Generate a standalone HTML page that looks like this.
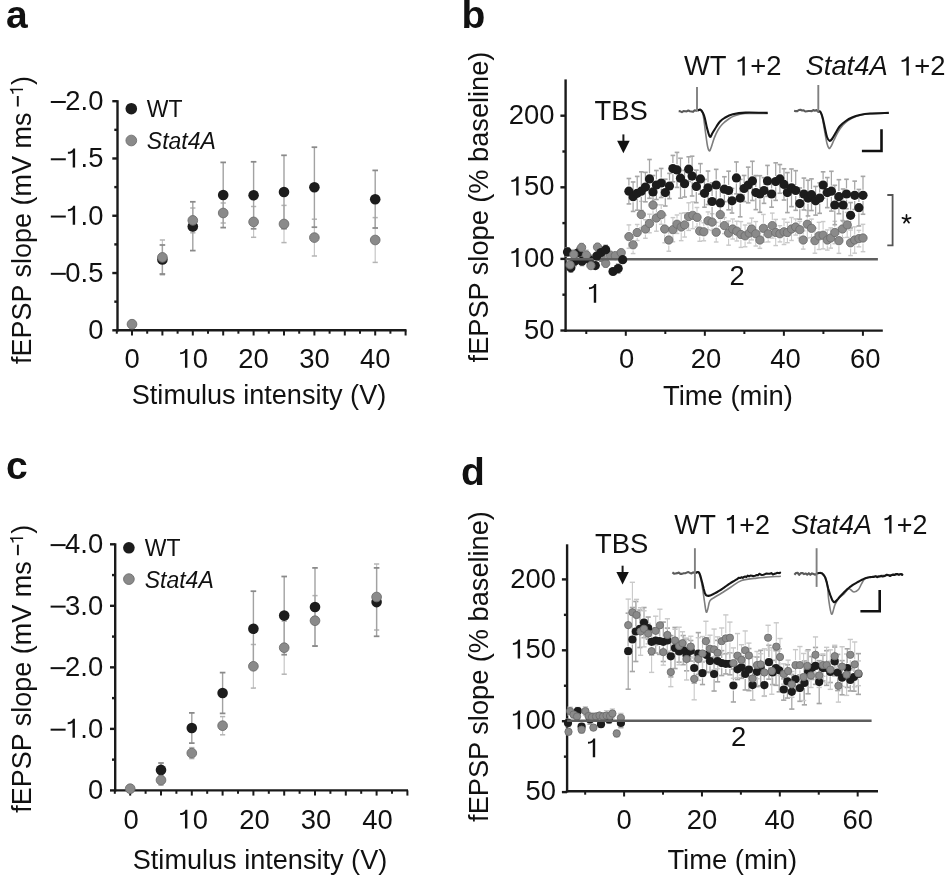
<!DOCTYPE html><html><head><meta charset="utf-8"><style>html,body{margin:0;padding:0;background:#fff;}svg{display:block;will-change:transform;}</style></head><body>
<svg width="946" height="875" viewBox="0 0 946 875" font-family='"Liberation Sans", sans-serif'>
<rect width="946" height="875" fill="#fff"/>
<text x="6.00" y="27.60" font-size="39" text-anchor="start" font-weight="bold" fill="#111">a</text>
<text x="461.40" y="27.60" font-size="39" text-anchor="start" font-weight="bold" fill="#111">b</text>
<text x="6.00" y="478.90" font-size="39" text-anchor="start" font-weight="bold" fill="#111">c</text>
<text x="461.00" y="485.40" font-size="39" text-anchor="start" font-weight="bold" fill="#111">d</text>
<line x1="117.50" y1="100.20" x2="117.50" y2="331.50" stroke="#1a1a1a" stroke-width="2.4" stroke-linecap="butt"/>
<line x1="112.30" y1="101.20" x2="117.50" y2="101.20" stroke="#1a1a1a" stroke-width="2.4" stroke-linecap="butt"/>
<line x1="114.30" y1="129.84" x2="117.50" y2="129.84" stroke="#1a1a1a" stroke-width="2.4" stroke-linecap="butt"/>
<text x="103.40" y="110.10" font-size="27.4" text-anchor="end" fill="#111">2.0</text>
<line x1="50.80" y1="102.00" x2="65.80" y2="102.00" stroke="#111" stroke-width="2.0" stroke-linecap="butt"/>
<line x1="112.30" y1="158.48" x2="117.50" y2="158.48" stroke="#1a1a1a" stroke-width="2.4" stroke-linecap="butt"/>
<line x1="114.30" y1="187.11" x2="117.50" y2="187.11" stroke="#1a1a1a" stroke-width="2.4" stroke-linecap="butt"/>
<path d="M0.358,0 L0.358,-0.69 L0.29,-0.69 C0.265,-0.615 0.19,-0.568 0.095,-0.566 L0.095,-0.493 C0.17,-0.495 0.235,-0.51 0.27,-0.545 L0.27,0 Z" fill="#111" transform="translate(65.31,167.38) scale(27.4)"/>
<text x="80.55" y="167.38" font-size="27.4" text-anchor="start" fill="#111">.5</text>
<line x1="50.80" y1="159.28" x2="65.80" y2="159.28" stroke="#111" stroke-width="2.0" stroke-linecap="butt"/>
<line x1="112.30" y1="215.75" x2="117.50" y2="215.75" stroke="#1a1a1a" stroke-width="2.4" stroke-linecap="butt"/>
<line x1="114.30" y1="244.39" x2="117.50" y2="244.39" stroke="#1a1a1a" stroke-width="2.4" stroke-linecap="butt"/>
<path d="M0.358,0 L0.358,-0.69 L0.29,-0.69 C0.265,-0.615 0.19,-0.568 0.095,-0.566 L0.095,-0.493 C0.17,-0.495 0.235,-0.51 0.27,-0.545 L0.27,0 Z" fill="#111" transform="translate(65.31,224.65) scale(27.4)"/>
<text x="80.55" y="224.65" font-size="27.4" text-anchor="start" fill="#111">.0</text>
<line x1="50.80" y1="216.55" x2="65.80" y2="216.55" stroke="#111" stroke-width="2.0" stroke-linecap="butt"/>
<line x1="112.30" y1="273.03" x2="117.50" y2="273.03" stroke="#1a1a1a" stroke-width="2.4" stroke-linecap="butt"/>
<line x1="114.30" y1="301.66" x2="117.50" y2="301.66" stroke="#1a1a1a" stroke-width="2.4" stroke-linecap="butt"/>
<text x="103.40" y="281.93" font-size="27.4" text-anchor="end" fill="#111">0.5</text>
<line x1="50.80" y1="273.83" x2="65.80" y2="273.83" stroke="#111" stroke-width="2.0" stroke-linecap="butt"/>
<line x1="112.30" y1="330.30" x2="117.50" y2="330.30" stroke="#1a1a1a" stroke-width="2.4" stroke-linecap="butt"/>
<text x="103.40" y="339.20" font-size="27.4" text-anchor="end" fill="#111">0</text>
<line x1="116.30" y1="330.30" x2="406.50" y2="330.30" stroke="#1a1a1a" stroke-width="2.4" stroke-linecap="butt"/>
<line x1="116.80" y1="330.30" x2="116.80" y2="333.70" stroke="#1a1a1a" stroke-width="2.0" stroke-linecap="butt"/>
<line x1="132.00" y1="330.30" x2="132.00" y2="335.50" stroke="#1a1a1a" stroke-width="2.0" stroke-linecap="butt"/>
<line x1="147.20" y1="330.30" x2="147.20" y2="333.70" stroke="#1a1a1a" stroke-width="2.0" stroke-linecap="butt"/>
<line x1="162.40" y1="330.30" x2="162.40" y2="335.50" stroke="#1a1a1a" stroke-width="2.0" stroke-linecap="butt"/>
<line x1="177.60" y1="330.30" x2="177.60" y2="333.70" stroke="#1a1a1a" stroke-width="2.0" stroke-linecap="butt"/>
<line x1="192.80" y1="330.30" x2="192.80" y2="335.50" stroke="#1a1a1a" stroke-width="2.0" stroke-linecap="butt"/>
<line x1="208.00" y1="330.30" x2="208.00" y2="333.70" stroke="#1a1a1a" stroke-width="2.0" stroke-linecap="butt"/>
<line x1="223.20" y1="330.30" x2="223.20" y2="335.50" stroke="#1a1a1a" stroke-width="2.0" stroke-linecap="butt"/>
<line x1="238.40" y1="330.30" x2="238.40" y2="333.70" stroke="#1a1a1a" stroke-width="2.0" stroke-linecap="butt"/>
<line x1="253.60" y1="330.30" x2="253.60" y2="335.50" stroke="#1a1a1a" stroke-width="2.0" stroke-linecap="butt"/>
<line x1="268.80" y1="330.30" x2="268.80" y2="333.70" stroke="#1a1a1a" stroke-width="2.0" stroke-linecap="butt"/>
<line x1="284.00" y1="330.30" x2="284.00" y2="335.50" stroke="#1a1a1a" stroke-width="2.0" stroke-linecap="butt"/>
<line x1="299.20" y1="330.30" x2="299.20" y2="333.70" stroke="#1a1a1a" stroke-width="2.0" stroke-linecap="butt"/>
<line x1="314.40" y1="330.30" x2="314.40" y2="335.50" stroke="#1a1a1a" stroke-width="2.0" stroke-linecap="butt"/>
<line x1="329.60" y1="330.30" x2="329.60" y2="333.70" stroke="#1a1a1a" stroke-width="2.0" stroke-linecap="butt"/>
<line x1="344.80" y1="330.30" x2="344.80" y2="335.50" stroke="#1a1a1a" stroke-width="2.0" stroke-linecap="butt"/>
<line x1="360.00" y1="330.30" x2="360.00" y2="333.70" stroke="#1a1a1a" stroke-width="2.0" stroke-linecap="butt"/>
<line x1="375.20" y1="330.30" x2="375.20" y2="335.50" stroke="#1a1a1a" stroke-width="2.0" stroke-linecap="butt"/>
<line x1="390.40" y1="330.30" x2="390.40" y2="333.70" stroke="#1a1a1a" stroke-width="2.0" stroke-linecap="butt"/>
<line x1="405.60" y1="330.30" x2="405.60" y2="335.50" stroke="#1a1a1a" stroke-width="2.0" stroke-linecap="butt"/>
<text x="132.00" y="367.80" font-size="27.4" text-anchor="middle" fill="#111">0</text>
<path d="M0.358,0 L0.358,-0.69 L0.29,-0.69 C0.265,-0.615 0.19,-0.568 0.095,-0.566 L0.095,-0.493 C0.17,-0.495 0.235,-0.51 0.27,-0.545 L0.27,0 Z" fill="#111" transform="translate(177.56,367.80) scale(27.4)"/>
<text x="192.80" y="367.80" font-size="27.4" text-anchor="start" fill="#111">0</text>
<text x="253.60" y="367.80" font-size="27.4" text-anchor="middle" fill="#111">20</text>
<text x="314.40" y="367.80" font-size="27.4" text-anchor="middle" fill="#111">30</text>
<text x="375.20" y="367.80" font-size="27.4" text-anchor="middle" fill="#111">40</text>
<text x="259.00" y="404.40" font-size="27.1" text-anchor="middle" fill="#111">Stimulus intensity (V)</text>
<g transform="translate(30.7,363.7) rotate(-90)">
<text x="-0.4" y="0" font-size="27" fill="#111">fEPSP slope (mV ms</text>
<line x1="257.2" y1="-12.9" x2="267.7" y2="-12.9" stroke="#111" stroke-width="1.9"/>
<path d="M0.358,0 L0.358,-0.69 L0.29,-0.69 C0.265,-0.615 0.19,-0.568 0.095,-0.566 L0.095,-0.493 C0.17,-0.495 0.235,-0.51 0.27,-0.545 L0.27,0 Z" fill="#111" transform="translate(268.2,-7.7) scale(19)"/>
<text x="278.6" y="0" font-size="27" fill="#111">)</text>
</g>
<circle cx="131.30" cy="108.70" r="5.8" fill="#1c1c1c"/>
<circle cx="131.30" cy="140.50" r="5.35" fill="#8a8a8a" stroke="#6e6e6e" stroke-width="0.9"/>
<text x="146.80" y="117.10" font-size="23.0" text-anchor="start" fill="#111">WT</text>
<text x="146.80" y="148.90" font-size="23.0" text-anchor="start" font-style="italic" fill="#111">Stat4A</text>
<line x1="132.00" y1="321.50" x2="132.00" y2="327.00" stroke="#c6c6c6" stroke-width="1.2" stroke-linecap="butt"/>
<line x1="129.40" y1="321.50" x2="134.60" y2="321.50" stroke="#b4b4b4" stroke-width="1.5" stroke-linecap="butt"/>
<line x1="129.40" y1="327.00" x2="134.60" y2="327.00" stroke="#b4b4b4" stroke-width="1.5" stroke-linecap="butt"/>
<line x1="162.40" y1="240.00" x2="162.40" y2="274.80" stroke="#c6c6c6" stroke-width="1.2" stroke-linecap="butt"/>
<line x1="159.80" y1="240.00" x2="165.00" y2="240.00" stroke="#b4b4b4" stroke-width="1.5" stroke-linecap="butt"/>
<line x1="159.80" y1="274.80" x2="165.00" y2="274.80" stroke="#b4b4b4" stroke-width="1.5" stroke-linecap="butt"/>
<line x1="162.40" y1="245.00" x2="162.40" y2="274.00" stroke="#a2a2a2" stroke-width="1.4" stroke-linecap="butt"/>
<line x1="159.60" y1="245.00" x2="165.20" y2="245.00" stroke="#8a8a8a" stroke-width="1.75" stroke-linecap="butt"/>
<line x1="159.60" y1="274.00" x2="165.20" y2="274.00" stroke="#8a8a8a" stroke-width="1.75" stroke-linecap="butt"/>
<line x1="192.80" y1="208.00" x2="192.80" y2="232.80" stroke="#c6c6c6" stroke-width="1.2" stroke-linecap="butt"/>
<line x1="190.20" y1="208.00" x2="195.40" y2="208.00" stroke="#b4b4b4" stroke-width="1.5" stroke-linecap="butt"/>
<line x1="190.20" y1="232.80" x2="195.40" y2="232.80" stroke="#b4b4b4" stroke-width="1.5" stroke-linecap="butt"/>
<line x1="192.80" y1="201.80" x2="192.80" y2="250.60" stroke="#a2a2a2" stroke-width="1.4" stroke-linecap="butt"/>
<line x1="190.00" y1="201.80" x2="195.60" y2="201.80" stroke="#8a8a8a" stroke-width="1.75" stroke-linecap="butt"/>
<line x1="190.00" y1="250.60" x2="195.60" y2="250.60" stroke="#8a8a8a" stroke-width="1.75" stroke-linecap="butt"/>
<line x1="223.20" y1="203.00" x2="223.20" y2="223.00" stroke="#c6c6c6" stroke-width="1.2" stroke-linecap="butt"/>
<line x1="220.60" y1="203.00" x2="225.80" y2="203.00" stroke="#b4b4b4" stroke-width="1.5" stroke-linecap="butt"/>
<line x1="220.60" y1="223.00" x2="225.80" y2="223.00" stroke="#b4b4b4" stroke-width="1.5" stroke-linecap="butt"/>
<line x1="223.20" y1="162.40" x2="223.20" y2="227.60" stroke="#a2a2a2" stroke-width="1.4" stroke-linecap="butt"/>
<line x1="220.40" y1="162.40" x2="226.00" y2="162.40" stroke="#8a8a8a" stroke-width="1.75" stroke-linecap="butt"/>
<line x1="220.40" y1="227.60" x2="226.00" y2="227.60" stroke="#8a8a8a" stroke-width="1.75" stroke-linecap="butt"/>
<line x1="253.60" y1="206.50" x2="253.60" y2="237.30" stroke="#c6c6c6" stroke-width="1.2" stroke-linecap="butt"/>
<line x1="251.00" y1="206.50" x2="256.20" y2="206.50" stroke="#b4b4b4" stroke-width="1.5" stroke-linecap="butt"/>
<line x1="251.00" y1="237.30" x2="256.20" y2="237.30" stroke="#b4b4b4" stroke-width="1.5" stroke-linecap="butt"/>
<line x1="253.60" y1="161.80" x2="253.60" y2="228.80" stroke="#a2a2a2" stroke-width="1.4" stroke-linecap="butt"/>
<line x1="250.80" y1="161.80" x2="256.40" y2="161.80" stroke="#8a8a8a" stroke-width="1.75" stroke-linecap="butt"/>
<line x1="250.80" y1="228.80" x2="256.40" y2="228.80" stroke="#8a8a8a" stroke-width="1.75" stroke-linecap="butt"/>
<line x1="284.00" y1="205.40" x2="284.00" y2="242.60" stroke="#c6c6c6" stroke-width="1.2" stroke-linecap="butt"/>
<line x1="281.40" y1="205.40" x2="286.60" y2="205.40" stroke="#b4b4b4" stroke-width="1.5" stroke-linecap="butt"/>
<line x1="281.40" y1="242.60" x2="286.60" y2="242.60" stroke="#b4b4b4" stroke-width="1.5" stroke-linecap="butt"/>
<line x1="284.00" y1="155.30" x2="284.00" y2="228.70" stroke="#a2a2a2" stroke-width="1.4" stroke-linecap="butt"/>
<line x1="281.20" y1="155.30" x2="286.80" y2="155.30" stroke="#8a8a8a" stroke-width="1.75" stroke-linecap="butt"/>
<line x1="281.20" y1="228.70" x2="286.80" y2="228.70" stroke="#8a8a8a" stroke-width="1.75" stroke-linecap="butt"/>
<line x1="314.40" y1="219.20" x2="314.40" y2="256.00" stroke="#c6c6c6" stroke-width="1.2" stroke-linecap="butt"/>
<line x1="311.80" y1="219.20" x2="317.00" y2="219.20" stroke="#b4b4b4" stroke-width="1.5" stroke-linecap="butt"/>
<line x1="311.80" y1="256.00" x2="317.00" y2="256.00" stroke="#b4b4b4" stroke-width="1.5" stroke-linecap="butt"/>
<line x1="314.40" y1="147.20" x2="314.40" y2="227.20" stroke="#a2a2a2" stroke-width="1.4" stroke-linecap="butt"/>
<line x1="311.60" y1="147.20" x2="317.20" y2="147.20" stroke="#8a8a8a" stroke-width="1.75" stroke-linecap="butt"/>
<line x1="311.60" y1="227.20" x2="317.20" y2="227.20" stroke="#8a8a8a" stroke-width="1.75" stroke-linecap="butt"/>
<line x1="375.20" y1="217.60" x2="375.20" y2="262.40" stroke="#c6c6c6" stroke-width="1.2" stroke-linecap="butt"/>
<line x1="372.60" y1="217.60" x2="377.80" y2="217.60" stroke="#b4b4b4" stroke-width="1.5" stroke-linecap="butt"/>
<line x1="372.60" y1="262.40" x2="377.80" y2="262.40" stroke="#b4b4b4" stroke-width="1.5" stroke-linecap="butt"/>
<line x1="375.20" y1="170.40" x2="375.20" y2="228.00" stroke="#a2a2a2" stroke-width="1.4" stroke-linecap="butt"/>
<line x1="372.40" y1="170.40" x2="378.00" y2="170.40" stroke="#8a8a8a" stroke-width="1.75" stroke-linecap="butt"/>
<line x1="372.40" y1="228.00" x2="378.00" y2="228.00" stroke="#8a8a8a" stroke-width="1.75" stroke-linecap="butt"/>
<circle cx="162.40" cy="259.50" r="5.3" fill="#1c1c1c"/>
<circle cx="192.80" cy="226.40" r="5.3" fill="#1c1c1c"/>
<circle cx="223.20" cy="195.00" r="5.3" fill="#1c1c1c"/>
<circle cx="253.60" cy="195.30" r="5.3" fill="#1c1c1c"/>
<circle cx="284.00" cy="192.00" r="5.3" fill="#1c1c1c"/>
<circle cx="314.40" cy="187.20" r="5.3" fill="#1c1c1c"/>
<circle cx="375.20" cy="199.20" r="5.3" fill="#1c1c1c"/>
<circle cx="132.00" cy="324.20" r="4.85" fill="#8a8a8a" stroke="#6e6e6e" stroke-width="0.9"/>
<circle cx="162.40" cy="257.40" r="4.85" fill="#8a8a8a" stroke="#6e6e6e" stroke-width="0.9"/>
<circle cx="192.80" cy="220.40" r="4.85" fill="#8a8a8a" stroke="#6e6e6e" stroke-width="0.9"/>
<circle cx="223.20" cy="213.00" r="4.85" fill="#8a8a8a" stroke="#6e6e6e" stroke-width="0.9"/>
<circle cx="253.60" cy="221.90" r="4.85" fill="#8a8a8a" stroke="#6e6e6e" stroke-width="0.9"/>
<circle cx="284.00" cy="224.00" r="4.85" fill="#8a8a8a" stroke="#6e6e6e" stroke-width="0.9"/>
<circle cx="314.40" cy="237.60" r="4.85" fill="#8a8a8a" stroke="#6e6e6e" stroke-width="0.9"/>
<circle cx="375.20" cy="240.00" r="4.85" fill="#8a8a8a" stroke="#6e6e6e" stroke-width="0.9"/>
<line x1="115.20" y1="543.30" x2="115.20" y2="791.60" stroke="#1a1a1a" stroke-width="2.4" stroke-linecap="butt"/>
<line x1="110.00" y1="544.30" x2="115.20" y2="544.30" stroke="#1a1a1a" stroke-width="2.4" stroke-linecap="butt"/>
<line x1="112.00" y1="575.06" x2="115.20" y2="575.06" stroke="#1a1a1a" stroke-width="2.4" stroke-linecap="butt"/>
<text x="103.20" y="553.20" font-size="27.4" text-anchor="end" fill="#111">4.0</text>
<line x1="50.60" y1="545.10" x2="65.60" y2="545.10" stroke="#111" stroke-width="2.0" stroke-linecap="butt"/>
<line x1="110.00" y1="605.82" x2="115.20" y2="605.82" stroke="#1a1a1a" stroke-width="2.4" stroke-linecap="butt"/>
<line x1="112.00" y1="636.59" x2="115.20" y2="636.59" stroke="#1a1a1a" stroke-width="2.4" stroke-linecap="butt"/>
<text x="103.20" y="614.72" font-size="27.4" text-anchor="end" fill="#111">3.0</text>
<line x1="50.60" y1="606.62" x2="65.60" y2="606.62" stroke="#111" stroke-width="2.0" stroke-linecap="butt"/>
<line x1="110.00" y1="667.35" x2="115.20" y2="667.35" stroke="#1a1a1a" stroke-width="2.4" stroke-linecap="butt"/>
<line x1="112.00" y1="698.11" x2="115.20" y2="698.11" stroke="#1a1a1a" stroke-width="2.4" stroke-linecap="butt"/>
<text x="103.20" y="676.25" font-size="27.4" text-anchor="end" fill="#111">2.0</text>
<line x1="50.60" y1="668.15" x2="65.60" y2="668.15" stroke="#111" stroke-width="2.0" stroke-linecap="butt"/>
<line x1="110.00" y1="728.88" x2="115.20" y2="728.88" stroke="#1a1a1a" stroke-width="2.4" stroke-linecap="butt"/>
<line x1="112.00" y1="759.64" x2="115.20" y2="759.64" stroke="#1a1a1a" stroke-width="2.4" stroke-linecap="butt"/>
<path d="M0.358,0 L0.358,-0.69 L0.29,-0.69 C0.265,-0.615 0.19,-0.568 0.095,-0.566 L0.095,-0.493 C0.17,-0.495 0.235,-0.51 0.27,-0.545 L0.27,0 Z" fill="#111" transform="translate(65.11,737.77) scale(27.4)"/>
<text x="80.35" y="737.77" font-size="27.4" text-anchor="start" fill="#111">.0</text>
<line x1="50.60" y1="729.67" x2="65.60" y2="729.67" stroke="#111" stroke-width="2.0" stroke-linecap="butt"/>
<line x1="110.00" y1="790.40" x2="115.20" y2="790.40" stroke="#1a1a1a" stroke-width="2.4" stroke-linecap="butt"/>
<text x="103.20" y="799.30" font-size="27.4" text-anchor="end" fill="#111">0</text>
<line x1="114.00" y1="790.40" x2="408.00" y2="790.40" stroke="#1a1a1a" stroke-width="2.4" stroke-linecap="butt"/>
<line x1="114.80" y1="790.40" x2="114.80" y2="793.80" stroke="#1a1a1a" stroke-width="2.0" stroke-linecap="butt"/>
<line x1="130.20" y1="790.40" x2="130.20" y2="795.60" stroke="#1a1a1a" stroke-width="2.0" stroke-linecap="butt"/>
<line x1="145.60" y1="790.40" x2="145.60" y2="793.80" stroke="#1a1a1a" stroke-width="2.0" stroke-linecap="butt"/>
<line x1="161.00" y1="790.40" x2="161.00" y2="795.60" stroke="#1a1a1a" stroke-width="2.0" stroke-linecap="butt"/>
<line x1="176.40" y1="790.40" x2="176.40" y2="793.80" stroke="#1a1a1a" stroke-width="2.0" stroke-linecap="butt"/>
<line x1="191.80" y1="790.40" x2="191.80" y2="795.60" stroke="#1a1a1a" stroke-width="2.0" stroke-linecap="butt"/>
<line x1="207.20" y1="790.40" x2="207.20" y2="793.80" stroke="#1a1a1a" stroke-width="2.0" stroke-linecap="butt"/>
<line x1="222.60" y1="790.40" x2="222.60" y2="795.60" stroke="#1a1a1a" stroke-width="2.0" stroke-linecap="butt"/>
<line x1="238.00" y1="790.40" x2="238.00" y2="793.80" stroke="#1a1a1a" stroke-width="2.0" stroke-linecap="butt"/>
<line x1="253.40" y1="790.40" x2="253.40" y2="795.60" stroke="#1a1a1a" stroke-width="2.0" stroke-linecap="butt"/>
<line x1="268.80" y1="790.40" x2="268.80" y2="793.80" stroke="#1a1a1a" stroke-width="2.0" stroke-linecap="butt"/>
<line x1="284.20" y1="790.40" x2="284.20" y2="795.60" stroke="#1a1a1a" stroke-width="2.0" stroke-linecap="butt"/>
<line x1="299.60" y1="790.40" x2="299.60" y2="793.80" stroke="#1a1a1a" stroke-width="2.0" stroke-linecap="butt"/>
<line x1="315.00" y1="790.40" x2="315.00" y2="795.60" stroke="#1a1a1a" stroke-width="2.0" stroke-linecap="butt"/>
<line x1="330.40" y1="790.40" x2="330.40" y2="793.80" stroke="#1a1a1a" stroke-width="2.0" stroke-linecap="butt"/>
<line x1="345.80" y1="790.40" x2="345.80" y2="795.60" stroke="#1a1a1a" stroke-width="2.0" stroke-linecap="butt"/>
<line x1="361.20" y1="790.40" x2="361.20" y2="793.80" stroke="#1a1a1a" stroke-width="2.0" stroke-linecap="butt"/>
<line x1="376.60" y1="790.40" x2="376.60" y2="795.60" stroke="#1a1a1a" stroke-width="2.0" stroke-linecap="butt"/>
<line x1="392.00" y1="790.40" x2="392.00" y2="793.80" stroke="#1a1a1a" stroke-width="2.0" stroke-linecap="butt"/>
<line x1="407.40" y1="790.40" x2="407.40" y2="795.60" stroke="#1a1a1a" stroke-width="2.0" stroke-linecap="butt"/>
<text x="131.20" y="828.60" font-size="27.4" text-anchor="middle" fill="#111">0</text>
<path d="M0.358,0 L0.358,-0.69 L0.29,-0.69 C0.265,-0.615 0.19,-0.568 0.095,-0.566 L0.095,-0.493 C0.17,-0.495 0.235,-0.51 0.27,-0.545 L0.27,0 Z" fill="#111" transform="translate(177.56,828.60) scale(27.4)"/>
<text x="192.80" y="828.60" font-size="27.4" text-anchor="start" fill="#111">0</text>
<text x="254.40" y="828.60" font-size="27.4" text-anchor="middle" fill="#111">20</text>
<text x="316.00" y="828.60" font-size="27.4" text-anchor="middle" fill="#111">30</text>
<text x="377.60" y="828.60" font-size="27.4" text-anchor="middle" fill="#111">40</text>
<text x="260.00" y="868.60" font-size="27.1" text-anchor="middle" fill="#111">Stimulus intensity (V)</text>
<g transform="translate(30.8,812.4) rotate(-90)">
<text x="-0.4" y="0" font-size="27" fill="#111">fEPSP slope (mV ms</text>
<line x1="257.2" y1="-12.9" x2="267.7" y2="-12.9" stroke="#111" stroke-width="1.9"/>
<path d="M0.358,0 L0.358,-0.69 L0.29,-0.69 C0.265,-0.615 0.19,-0.568 0.095,-0.566 L0.095,-0.493 C0.17,-0.495 0.235,-0.51 0.27,-0.545 L0.27,0 Z" fill="#111" transform="translate(268.2,-7.7) scale(19)"/>
<text x="278.6" y="0" font-size="27" fill="#111">)</text>
</g>
<circle cx="128.90" cy="547.80" r="5.8" fill="#1c1c1c"/>
<circle cx="128.90" cy="579.10" r="5.35" fill="#8a8a8a" stroke="#6e6e6e" stroke-width="0.9"/>
<text x="144.70" y="556.20" font-size="23.0" text-anchor="start" fill="#111">WT</text>
<text x="144.70" y="587.50" font-size="23.0" text-anchor="start" font-style="italic" fill="#111">Stat4A</text>
<line x1="161.00" y1="775.00" x2="161.00" y2="785.20" stroke="#c6c6c6" stroke-width="1.2" stroke-linecap="butt"/>
<line x1="158.40" y1="775.00" x2="163.60" y2="775.00" stroke="#b4b4b4" stroke-width="1.5" stroke-linecap="butt"/>
<line x1="158.40" y1="785.20" x2="163.60" y2="785.20" stroke="#b4b4b4" stroke-width="1.5" stroke-linecap="butt"/>
<line x1="161.00" y1="763.00" x2="161.00" y2="776.80" stroke="#a2a2a2" stroke-width="1.4" stroke-linecap="butt"/>
<line x1="158.20" y1="763.00" x2="163.80" y2="763.00" stroke="#8a8a8a" stroke-width="1.75" stroke-linecap="butt"/>
<line x1="158.20" y1="776.80" x2="163.80" y2="776.80" stroke="#8a8a8a" stroke-width="1.75" stroke-linecap="butt"/>
<line x1="191.80" y1="747.60" x2="191.80" y2="758.60" stroke="#c6c6c6" stroke-width="1.2" stroke-linecap="butt"/>
<line x1="189.20" y1="747.60" x2="194.40" y2="747.60" stroke="#b4b4b4" stroke-width="1.5" stroke-linecap="butt"/>
<line x1="189.20" y1="758.60" x2="194.40" y2="758.60" stroke="#b4b4b4" stroke-width="1.5" stroke-linecap="butt"/>
<line x1="191.80" y1="712.90" x2="191.80" y2="743.10" stroke="#a2a2a2" stroke-width="1.4" stroke-linecap="butt"/>
<line x1="189.00" y1="712.90" x2="194.60" y2="712.90" stroke="#8a8a8a" stroke-width="1.75" stroke-linecap="butt"/>
<line x1="189.00" y1="743.10" x2="194.60" y2="743.10" stroke="#8a8a8a" stroke-width="1.75" stroke-linecap="butt"/>
<line x1="222.60" y1="716.60" x2="222.60" y2="734.80" stroke="#c6c6c6" stroke-width="1.2" stroke-linecap="butt"/>
<line x1="220.00" y1="716.60" x2="225.20" y2="716.60" stroke="#b4b4b4" stroke-width="1.5" stroke-linecap="butt"/>
<line x1="220.00" y1="734.80" x2="225.20" y2="734.80" stroke="#b4b4b4" stroke-width="1.5" stroke-linecap="butt"/>
<line x1="222.60" y1="672.60" x2="222.60" y2="713.40" stroke="#a2a2a2" stroke-width="1.4" stroke-linecap="butt"/>
<line x1="219.80" y1="672.60" x2="225.40" y2="672.60" stroke="#8a8a8a" stroke-width="1.75" stroke-linecap="butt"/>
<line x1="219.80" y1="713.40" x2="225.40" y2="713.40" stroke="#8a8a8a" stroke-width="1.75" stroke-linecap="butt"/>
<line x1="253.40" y1="644.50" x2="253.40" y2="688.10" stroke="#c6c6c6" stroke-width="1.2" stroke-linecap="butt"/>
<line x1="250.80" y1="644.50" x2="256.00" y2="644.50" stroke="#b4b4b4" stroke-width="1.5" stroke-linecap="butt"/>
<line x1="250.80" y1="688.10" x2="256.00" y2="688.10" stroke="#b4b4b4" stroke-width="1.5" stroke-linecap="butt"/>
<line x1="253.40" y1="591.20" x2="253.40" y2="666.40" stroke="#a2a2a2" stroke-width="1.4" stroke-linecap="butt"/>
<line x1="250.60" y1="591.20" x2="256.20" y2="591.20" stroke="#8a8a8a" stroke-width="1.75" stroke-linecap="butt"/>
<line x1="250.60" y1="666.40" x2="256.20" y2="666.40" stroke="#8a8a8a" stroke-width="1.75" stroke-linecap="butt"/>
<line x1="284.20" y1="621.20" x2="284.20" y2="674.20" stroke="#c6c6c6" stroke-width="1.2" stroke-linecap="butt"/>
<line x1="281.60" y1="621.20" x2="286.80" y2="621.20" stroke="#b4b4b4" stroke-width="1.5" stroke-linecap="butt"/>
<line x1="281.60" y1="674.20" x2="286.80" y2="674.20" stroke="#b4b4b4" stroke-width="1.5" stroke-linecap="butt"/>
<line x1="284.20" y1="576.50" x2="284.20" y2="654.70" stroke="#a2a2a2" stroke-width="1.4" stroke-linecap="butt"/>
<line x1="281.40" y1="576.50" x2="287.00" y2="576.50" stroke="#8a8a8a" stroke-width="1.75" stroke-linecap="butt"/>
<line x1="281.40" y1="654.70" x2="287.00" y2="654.70" stroke="#8a8a8a" stroke-width="1.75" stroke-linecap="butt"/>
<line x1="315.00" y1="595.60" x2="315.00" y2="645.80" stroke="#c6c6c6" stroke-width="1.2" stroke-linecap="butt"/>
<line x1="312.40" y1="595.60" x2="317.60" y2="595.60" stroke="#b4b4b4" stroke-width="1.5" stroke-linecap="butt"/>
<line x1="312.40" y1="645.80" x2="317.60" y2="645.80" stroke="#b4b4b4" stroke-width="1.5" stroke-linecap="butt"/>
<line x1="315.00" y1="567.90" x2="315.00" y2="646.10" stroke="#a2a2a2" stroke-width="1.4" stroke-linecap="butt"/>
<line x1="312.20" y1="567.90" x2="317.80" y2="567.90" stroke="#8a8a8a" stroke-width="1.75" stroke-linecap="butt"/>
<line x1="312.20" y1="646.10" x2="317.80" y2="646.10" stroke="#8a8a8a" stroke-width="1.75" stroke-linecap="butt"/>
<line x1="376.60" y1="564.00" x2="376.60" y2="630.00" stroke="#c6c6c6" stroke-width="1.2" stroke-linecap="butt"/>
<line x1="374.00" y1="564.00" x2="379.20" y2="564.00" stroke="#b4b4b4" stroke-width="1.5" stroke-linecap="butt"/>
<line x1="374.00" y1="630.00" x2="379.20" y2="630.00" stroke="#b4b4b4" stroke-width="1.5" stroke-linecap="butt"/>
<line x1="376.60" y1="567.90" x2="376.60" y2="636.30" stroke="#a2a2a2" stroke-width="1.4" stroke-linecap="butt"/>
<line x1="373.80" y1="567.90" x2="379.40" y2="567.90" stroke="#8a8a8a" stroke-width="1.75" stroke-linecap="butt"/>
<line x1="373.80" y1="636.30" x2="379.40" y2="636.30" stroke="#8a8a8a" stroke-width="1.75" stroke-linecap="butt"/>
<circle cx="161.00" cy="769.90" r="5.3" fill="#1c1c1c"/>
<circle cx="191.80" cy="728.00" r="5.3" fill="#1c1c1c"/>
<circle cx="222.60" cy="693.00" r="5.3" fill="#1c1c1c"/>
<circle cx="253.40" cy="628.80" r="5.3" fill="#1c1c1c"/>
<circle cx="284.20" cy="615.60" r="5.3" fill="#1c1c1c"/>
<circle cx="315.00" cy="607.00" r="5.3" fill="#1c1c1c"/>
<circle cx="376.60" cy="602.10" r="5.3" fill="#1c1c1c"/>
<circle cx="130.20" cy="788.70" r="4.85" fill="#8a8a8a" stroke="#6e6e6e" stroke-width="0.9"/>
<circle cx="161.00" cy="780.10" r="4.85" fill="#8a8a8a" stroke="#6e6e6e" stroke-width="0.9"/>
<circle cx="191.80" cy="753.10" r="4.85" fill="#8a8a8a" stroke="#6e6e6e" stroke-width="0.9"/>
<circle cx="222.60" cy="725.70" r="4.85" fill="#8a8a8a" stroke="#6e6e6e" stroke-width="0.9"/>
<circle cx="253.40" cy="666.30" r="4.85" fill="#8a8a8a" stroke="#6e6e6e" stroke-width="0.9"/>
<circle cx="284.20" cy="647.70" r="4.85" fill="#8a8a8a" stroke="#6e6e6e" stroke-width="0.9"/>
<circle cx="315.00" cy="620.70" r="4.85" fill="#8a8a8a" stroke="#6e6e6e" stroke-width="0.9"/>
<circle cx="376.60" cy="597.00" r="4.85" fill="#8a8a8a" stroke="#6e6e6e" stroke-width="0.9"/>
<line x1="565.60" y1="79.40" x2="565.60" y2="331.80" stroke="#1a1a1a" stroke-width="2.4" stroke-linecap="butt"/>
<line x1="560.40" y1="330.50" x2="565.60" y2="330.50" stroke="#1a1a1a" stroke-width="2.4" stroke-linecap="butt"/>
<text x="554.50" y="338.60" font-size="27.4" text-anchor="end" fill="#111">50</text>
<line x1="562.40" y1="294.70" x2="565.60" y2="294.70" stroke="#1a1a1a" stroke-width="2.4" stroke-linecap="butt"/>
<line x1="560.40" y1="258.90" x2="565.60" y2="258.90" stroke="#1a1a1a" stroke-width="2.4" stroke-linecap="butt"/>
<path d="M0.358,0 L0.358,-0.69 L0.29,-0.69 C0.265,-0.615 0.19,-0.568 0.095,-0.566 L0.095,-0.493 C0.17,-0.495 0.235,-0.51 0.27,-0.545 L0.27,0 Z" fill="#111" transform="translate(508.78,267.00) scale(27.4)"/>
<text x="524.02" y="267.00" font-size="27.4" text-anchor="start" fill="#111">00</text>
<line x1="562.40" y1="223.10" x2="565.60" y2="223.10" stroke="#1a1a1a" stroke-width="2.4" stroke-linecap="butt"/>
<line x1="560.40" y1="187.30" x2="565.60" y2="187.30" stroke="#1a1a1a" stroke-width="2.4" stroke-linecap="butt"/>
<path d="M0.358,0 L0.358,-0.69 L0.29,-0.69 C0.265,-0.615 0.19,-0.568 0.095,-0.566 L0.095,-0.493 C0.17,-0.495 0.235,-0.51 0.27,-0.545 L0.27,0 Z" fill="#111" transform="translate(508.78,195.40) scale(27.4)"/>
<text x="524.02" y="195.40" font-size="27.4" text-anchor="start" fill="#111">50</text>
<line x1="562.40" y1="151.50" x2="565.60" y2="151.50" stroke="#1a1a1a" stroke-width="2.4" stroke-linecap="butt"/>
<line x1="560.40" y1="115.70" x2="565.60" y2="115.70" stroke="#1a1a1a" stroke-width="2.4" stroke-linecap="butt"/>
<text x="554.50" y="123.80" font-size="27.4" text-anchor="end" fill="#111">200</text>
<line x1="564.40" y1="330.60" x2="882.80" y2="330.60" stroke="#1a1a1a" stroke-width="2.4" stroke-linecap="butt"/>
<line x1="586.28" y1="330.60" x2="586.28" y2="334.00" stroke="#1a1a1a" stroke-width="2.0" stroke-linecap="butt"/>
<line x1="625.80" y1="330.60" x2="625.80" y2="335.80" stroke="#1a1a1a" stroke-width="2.0" stroke-linecap="butt"/>
<line x1="665.32" y1="330.60" x2="665.32" y2="334.00" stroke="#1a1a1a" stroke-width="2.0" stroke-linecap="butt"/>
<line x1="704.84" y1="330.60" x2="704.84" y2="335.80" stroke="#1a1a1a" stroke-width="2.0" stroke-linecap="butt"/>
<line x1="744.36" y1="330.60" x2="744.36" y2="334.00" stroke="#1a1a1a" stroke-width="2.0" stroke-linecap="butt"/>
<line x1="783.88" y1="330.60" x2="783.88" y2="335.80" stroke="#1a1a1a" stroke-width="2.0" stroke-linecap="butt"/>
<line x1="823.40" y1="330.60" x2="823.40" y2="334.00" stroke="#1a1a1a" stroke-width="2.0" stroke-linecap="butt"/>
<line x1="862.92" y1="330.60" x2="862.92" y2="335.80" stroke="#1a1a1a" stroke-width="2.0" stroke-linecap="butt"/>
<text x="626.60" y="367.80" font-size="27.4" text-anchor="middle" fill="#111">0</text>
<text x="706.10" y="367.80" font-size="27.4" text-anchor="middle" fill="#111">20</text>
<text x="785.50" y="367.80" font-size="27.4" text-anchor="middle" fill="#111">40</text>
<text x="865.20" y="367.80" font-size="27.4" text-anchor="middle" fill="#111">60</text>
<text x="663.00" y="404.60" font-size="27.4" text-anchor="start" fill="#111">Time (min)</text>
<text x="0" y="0" font-size="27.2" fill="#111" transform="translate(487.9,362.4) rotate(-90)">fEPSP slope (% baseline)</text>
<text x="594.60" y="119.90" font-size="27.4" text-anchor="start" fill="#111">TBS</text>
<line x1="623.40" y1="134.40" x2="623.40" y2="141.70" stroke="#1a1a1a" stroke-width="2.0" stroke-linecap="butt"/>
<path d="M617.10,140.70 L629.70,140.70 L623.40,153.30 Z" fill="#111"/>
<path d="M0.358,0 L0.358,-0.69 L0.29,-0.69 C0.265,-0.615 0.19,-0.568 0.095,-0.566 L0.095,-0.493 C0.17,-0.495 0.235,-0.51 0.27,-0.545 L0.27,0 Z" fill="#111" transform="translate(586.38,302.80) scale(27.4)"/>
<text x="737.00" y="285.10" font-size="27.4" text-anchor="middle" fill="#111">2</text>
<text x="683.90" y="75.40" font-size="27.4" text-anchor="start" fill="#111">WT</text>
<path d="M0.358,0 L0.358,-0.69 L0.29,-0.69 C0.265,-0.615 0.19,-0.568 0.095,-0.566 L0.095,-0.493 C0.17,-0.495 0.235,-0.51 0.27,-0.545 L0.27,0 Z" fill="#111" transform="translate(735.00,75.40) scale(27.4)"/>
<text x="750.24" y="75.40" font-size="27.4" text-anchor="start" fill="#111">+2</text>
<text x="805.50" y="75.40" font-size="27.4" text-anchor="start" font-style="italic" fill="#111">Stat4A</text>
<path d="M0.358,0 L0.358,-0.69 L0.29,-0.69 C0.265,-0.615 0.19,-0.568 0.095,-0.566 L0.095,-0.493 C0.17,-0.495 0.235,-0.51 0.27,-0.545 L0.27,0 Z" fill="#111" transform="translate(899.00,75.40) scale(27.4)"/>
<text x="914.24" y="75.40" font-size="27.4" text-anchor="start" fill="#111">+2</text>
<path d="M678.70,111.10 L680.30,111.33 L681.90,112.13 L683.50,111.12 L685.10,111.22 L686.70,111.39 L688.30,110.51 L689.90,111.23 L691.50,111.49 L693.10,111.84 L694.70,110.31 L696.30,110.77 L697.00,111.20" fill="none" stroke="#5a5a5a" stroke-width="2.1" stroke-linejoin="round"/>
<path d="M697.50,110.50 C698.00,110.37 699.58,109.12 700.50,109.70 C701.42,110.28 702.17,110.23 703.00,114.00 C703.83,117.77 704.75,126.97 705.50,132.30 C706.25,137.63 706.87,142.90 707.50,146.00 C708.13,149.10 708.72,150.57 709.30,150.90 C709.88,151.23 710.18,150.13 711.00,148.00 C711.82,145.87 713.03,141.10 714.20,138.10 C715.37,135.10 716.65,132.32 718.00,130.00 C719.35,127.68 720.63,125.95 722.30,124.20 C723.97,122.45 726.05,120.87 728.00,119.50 C729.95,118.13 731.17,117.00 734.00,116.00 C736.83,115.00 739.38,113.92 745.00,113.50 C750.62,113.08 763.92,113.50 767.70,113.50" fill="none" stroke="#7e7e7e" stroke-width="1.6" stroke-linejoin="round"/>
<path d="M697.50,110.50 C698.00,110.37 699.58,109.28 700.50,109.70 C701.42,110.12 702.27,111.55 703.00,113.00 C703.73,114.45 704.23,115.90 704.90,118.40 C705.57,120.90 706.17,124.95 707.00,128.00 C707.83,131.05 708.98,135.87 709.90,136.70 C710.82,137.53 711.40,134.70 712.50,133.00 C713.60,131.30 715.25,128.42 716.50,126.50 C717.75,124.58 718.63,122.95 720.00,121.50 C721.37,120.05 722.57,119.00 724.70,117.80 C726.83,116.60 729.32,115.17 732.80,114.30 C736.28,113.43 739.78,112.83 745.60,112.60 C751.42,112.37 764.02,112.85 767.70,112.90" fill="none" stroke="#151515" stroke-width="2.1" stroke-linejoin="round"/>
<line x1="697.0" y1="87.0" x2="697.0" y2="111.6" stroke="#808080" stroke-width="1.9"/>
<path d="M794.10,110.74 L795.70,111.15 L797.30,111.17 L798.90,110.01 L800.50,109.72 L802.10,110.52 L803.70,110.30 L805.30,111.48 L806.90,111.22 L808.50,111.02 L810.10,110.93 L811.70,111.15 L813.30,110.02 L814.90,110.67 L816.50,110.06 L818.10,111.69 L818.30,110.80" fill="none" stroke="#5a5a5a" stroke-width="2.1" stroke-linejoin="round"/>
<path d="M818.50,111.50 C818.83,111.58 819.82,110.75 820.50,112.00 C821.18,113.25 821.85,115.50 822.60,119.00 C823.35,122.50 824.27,128.92 825.00,133.00 C825.73,137.08 826.33,140.95 827.00,143.50 C827.67,146.05 828.33,147.80 829.00,148.30 C829.67,148.80 830.17,147.88 831.00,146.50 C831.83,145.12 832.83,142.42 834.00,140.00 C835.17,137.58 836.50,134.50 838.00,132.00 C839.50,129.50 841.33,126.92 843.00,125.00 C844.67,123.08 845.83,121.92 848.00,120.50 C850.17,119.08 853.00,117.58 856.00,116.50 C859.00,115.42 860.53,114.58 866.00,114.00 C871.47,113.42 885.00,113.17 888.80,113.00" fill="none" stroke="#7e7e7e" stroke-width="1.6" stroke-linejoin="round"/>
<path d="M818.50,111.50 C818.83,111.58 819.82,111.00 820.50,112.00 C821.18,113.00 821.87,114.83 822.60,117.50 C823.33,120.17 824.17,124.75 824.90,128.00 C825.63,131.25 826.23,134.87 827.00,137.00 C827.77,139.13 828.67,140.47 829.50,140.80 C830.33,141.13 830.83,140.55 832.00,139.00 C833.17,137.45 835.17,133.67 836.50,131.50 C837.83,129.33 838.45,127.75 840.00,126.00 C841.55,124.25 843.80,122.42 845.80,121.00 C847.80,119.58 849.67,118.50 852.00,117.50 C854.33,116.50 856.80,115.67 859.80,115.00 C862.80,114.33 865.17,113.85 870.00,113.50 C874.83,113.15 885.67,113.00 888.80,112.90" fill="none" stroke="#151515" stroke-width="2.1" stroke-linejoin="round"/>
<line x1="818.3" y1="85.0" x2="818.3" y2="111.7" stroke="#808080" stroke-width="1.9"/>
<path d="M881.50,129.20 L881.50,151.00 L861.90,151.00" fill="none" stroke="#111" stroke-width="2.6"/>
<line x1="565.20" y1="247.84" x2="569.80" y2="247.84" stroke="#a6a6a6" stroke-width="1.625" stroke-linecap="butt"/>
<line x1="565.20" y1="255.96" x2="569.80" y2="255.96" stroke="#a6a6a6" stroke-width="1.625" stroke-linecap="butt"/>
<line x1="568.60" y1="263.45" x2="573.20" y2="263.45" stroke="#a6a6a6" stroke-width="1.625" stroke-linecap="butt"/>
<line x1="568.60" y1="272.15" x2="573.20" y2="272.15" stroke="#a6a6a6" stroke-width="1.625" stroke-linecap="butt"/>
<line x1="572.30" y1="256.71" x2="576.90" y2="256.71" stroke="#a6a6a6" stroke-width="1.625" stroke-linecap="butt"/>
<line x1="572.30" y1="265.69" x2="576.90" y2="265.69" stroke="#a6a6a6" stroke-width="1.625" stroke-linecap="butt"/>
<line x1="576.20" y1="247.64" x2="580.80" y2="247.64" stroke="#a6a6a6" stroke-width="1.625" stroke-linecap="butt"/>
<line x1="576.20" y1="257.36" x2="580.80" y2="257.36" stroke="#a6a6a6" stroke-width="1.625" stroke-linecap="butt"/>
<line x1="579.70" y1="256.85" x2="584.30" y2="256.85" stroke="#a6a6a6" stroke-width="1.625" stroke-linecap="butt"/>
<line x1="579.70" y1="265.55" x2="584.30" y2="265.55" stroke="#a6a6a6" stroke-width="1.625" stroke-linecap="butt"/>
<line x1="587.10" y1="254.89" x2="591.70" y2="254.89" stroke="#a6a6a6" stroke-width="1.625" stroke-linecap="butt"/>
<line x1="587.10" y1="264.51" x2="591.70" y2="264.51" stroke="#a6a6a6" stroke-width="1.625" stroke-linecap="butt"/>
<line x1="593.00" y1="263.03" x2="597.60" y2="263.03" stroke="#a6a6a6" stroke-width="1.625" stroke-linecap="butt"/>
<line x1="593.00" y1="268.17" x2="597.60" y2="268.17" stroke="#a6a6a6" stroke-width="1.625" stroke-linecap="butt"/>
<line x1="567.80" y1="261.24" x2="572.40" y2="261.24" stroke="#c9c9c9" stroke-width="1.4300000000000002" stroke-linecap="butt"/>
<line x1="567.80" y1="268.56" x2="572.40" y2="268.56" stroke="#c9c9c9" stroke-width="1.4300000000000002" stroke-linecap="butt"/>
<line x1="571.50" y1="249.64" x2="576.10" y2="249.64" stroke="#c9c9c9" stroke-width="1.4300000000000002" stroke-linecap="butt"/>
<line x1="571.50" y1="259.36" x2="576.10" y2="259.36" stroke="#c9c9c9" stroke-width="1.4300000000000002" stroke-linecap="butt"/>
<line x1="579.30" y1="243.38" x2="583.90" y2="243.38" stroke="#c9c9c9" stroke-width="1.4300000000000002" stroke-linecap="butt"/>
<line x1="579.30" y1="251.62" x2="583.90" y2="251.62" stroke="#c9c9c9" stroke-width="1.4300000000000002" stroke-linecap="butt"/>
<line x1="584.10" y1="250.15" x2="588.70" y2="250.15" stroke="#c9c9c9" stroke-width="1.4300000000000002" stroke-linecap="butt"/>
<line x1="584.10" y1="259.65" x2="588.70" y2="259.65" stroke="#c9c9c9" stroke-width="1.4300000000000002" stroke-linecap="butt"/>
<line x1="588.60" y1="262.82" x2="593.20" y2="262.82" stroke="#c9c9c9" stroke-width="1.4300000000000002" stroke-linecap="butt"/>
<line x1="588.60" y1="268.38" x2="593.20" y2="268.38" stroke="#c9c9c9" stroke-width="1.4300000000000002" stroke-linecap="butt"/>
<line x1="595.20" y1="243.43" x2="599.80" y2="243.43" stroke="#c9c9c9" stroke-width="1.4300000000000002" stroke-linecap="butt"/>
<line x1="595.20" y1="250.77" x2="599.80" y2="250.77" stroke="#c9c9c9" stroke-width="1.4300000000000002" stroke-linecap="butt"/>
<line x1="598.90" y1="254.38" x2="603.50" y2="254.38" stroke="#c9c9c9" stroke-width="1.4300000000000002" stroke-linecap="butt"/>
<line x1="598.90" y1="260.62" x2="603.50" y2="260.62" stroke="#c9c9c9" stroke-width="1.4300000000000002" stroke-linecap="butt"/>
<line x1="603.40" y1="259.54" x2="608.00" y2="259.54" stroke="#c9c9c9" stroke-width="1.4300000000000002" stroke-linecap="butt"/>
<line x1="603.40" y1="267.26" x2="608.00" y2="267.26" stroke="#c9c9c9" stroke-width="1.4300000000000002" stroke-linecap="butt"/>
<line x1="607.80" y1="251.27" x2="612.40" y2="251.27" stroke="#c9c9c9" stroke-width="1.4300000000000002" stroke-linecap="butt"/>
<line x1="607.80" y1="259.13" x2="612.40" y2="259.13" stroke="#c9c9c9" stroke-width="1.4300000000000002" stroke-linecap="butt"/>
<line x1="613.00" y1="253.07" x2="617.60" y2="253.07" stroke="#c9c9c9" stroke-width="1.4300000000000002" stroke-linecap="butt"/>
<line x1="613.00" y1="258.13" x2="617.60" y2="258.13" stroke="#c9c9c9" stroke-width="1.4300000000000002" stroke-linecap="butt"/>
<line x1="618.90" y1="249.56" x2="623.50" y2="249.56" stroke="#c9c9c9" stroke-width="1.4300000000000002" stroke-linecap="butt"/>
<line x1="618.90" y1="255.64" x2="623.50" y2="255.64" stroke="#c9c9c9" stroke-width="1.4300000000000002" stroke-linecap="butt"/>
<line x1="594.50" y1="252.80" x2="599.10" y2="252.80" stroke="#a6a6a6" stroke-width="1.625" stroke-linecap="butt"/>
<line x1="594.50" y1="259.20" x2="599.10" y2="259.20" stroke="#a6a6a6" stroke-width="1.625" stroke-linecap="butt"/>
<line x1="598.70" y1="247.71" x2="603.30" y2="247.71" stroke="#a6a6a6" stroke-width="1.625" stroke-linecap="butt"/>
<line x1="598.70" y1="257.29" x2="603.30" y2="257.29" stroke="#a6a6a6" stroke-width="1.625" stroke-linecap="butt"/>
<line x1="603.40" y1="245.29" x2="608.00" y2="245.29" stroke="#a6a6a6" stroke-width="1.625" stroke-linecap="butt"/>
<line x1="603.40" y1="254.11" x2="608.00" y2="254.11" stroke="#a6a6a6" stroke-width="1.625" stroke-linecap="butt"/>
<line x1="610.70" y1="268.60" x2="615.30" y2="268.60" stroke="#a6a6a6" stroke-width="1.625" stroke-linecap="butt"/>
<line x1="610.70" y1="274.40" x2="615.30" y2="274.40" stroke="#a6a6a6" stroke-width="1.625" stroke-linecap="butt"/>
<line x1="615.90" y1="264.11" x2="620.50" y2="264.11" stroke="#a6a6a6" stroke-width="1.625" stroke-linecap="butt"/>
<line x1="615.90" y1="273.09" x2="620.50" y2="273.09" stroke="#a6a6a6" stroke-width="1.625" stroke-linecap="butt"/>
<line x1="620.40" y1="256.85" x2="625.00" y2="256.85" stroke="#a6a6a6" stroke-width="1.625" stroke-linecap="butt"/>
<line x1="620.40" y1="262.55" x2="625.00" y2="262.55" stroke="#a6a6a6" stroke-width="1.625" stroke-linecap="butt"/>
<line x1="628.90" y1="224.90" x2="628.90" y2="231.00" stroke="#c9c9c9" stroke-width="1.1" stroke-linecap="butt"/>
<line x1="628.90" y1="242.20" x2="628.90" y2="248.30" stroke="#c9c9c9" stroke-width="1.1" stroke-linecap="butt"/>
<line x1="626.60" y1="224.90" x2="631.20" y2="224.90" stroke="#c9c9c9" stroke-width="1.4300000000000002" stroke-linecap="butt"/>
<line x1="626.60" y1="248.30" x2="631.20" y2="248.30" stroke="#c9c9c9" stroke-width="1.4300000000000002" stroke-linecap="butt"/>
<line x1="633.10" y1="236.04" x2="633.10" y2="239.20" stroke="#c9c9c9" stroke-width="1.1" stroke-linecap="butt"/>
<line x1="633.10" y1="250.40" x2="633.10" y2="253.56" stroke="#c9c9c9" stroke-width="1.1" stroke-linecap="butt"/>
<line x1="630.80" y1="236.04" x2="635.40" y2="236.04" stroke="#c9c9c9" stroke-width="1.4300000000000002" stroke-linecap="butt"/>
<line x1="630.80" y1="253.56" x2="635.40" y2="253.56" stroke="#c9c9c9" stroke-width="1.4300000000000002" stroke-linecap="butt"/>
<line x1="637.20" y1="224.49" x2="637.20" y2="226.90" stroke="#c9c9c9" stroke-width="1.1" stroke-linecap="butt"/>
<line x1="637.20" y1="238.10" x2="637.20" y2="240.51" stroke="#c9c9c9" stroke-width="1.1" stroke-linecap="butt"/>
<line x1="634.90" y1="224.49" x2="639.50" y2="224.49" stroke="#c9c9c9" stroke-width="1.4300000000000002" stroke-linecap="butt"/>
<line x1="634.90" y1="240.51" x2="639.50" y2="240.51" stroke="#c9c9c9" stroke-width="1.4300000000000002" stroke-linecap="butt"/>
<line x1="641.30" y1="201.37" x2="641.30" y2="209.00" stroke="#c9c9c9" stroke-width="1.1" stroke-linecap="butt"/>
<line x1="641.30" y1="220.20" x2="641.30" y2="227.83" stroke="#c9c9c9" stroke-width="1.1" stroke-linecap="butt"/>
<line x1="639.00" y1="201.37" x2="643.60" y2="201.37" stroke="#c9c9c9" stroke-width="1.4300000000000002" stroke-linecap="butt"/>
<line x1="639.00" y1="227.83" x2="643.60" y2="227.83" stroke="#c9c9c9" stroke-width="1.4300000000000002" stroke-linecap="butt"/>
<line x1="645.40" y1="219.74" x2="645.40" y2="223.40" stroke="#c9c9c9" stroke-width="1.1" stroke-linecap="butt"/>
<line x1="645.40" y1="234.60" x2="645.40" y2="238.26" stroke="#c9c9c9" stroke-width="1.1" stroke-linecap="butt"/>
<line x1="643.10" y1="219.74" x2="647.70" y2="219.74" stroke="#c9c9c9" stroke-width="1.4300000000000002" stroke-linecap="butt"/>
<line x1="643.10" y1="238.26" x2="647.70" y2="238.26" stroke="#c9c9c9" stroke-width="1.4300000000000002" stroke-linecap="butt"/>
<line x1="649.50" y1="214.21" x2="649.50" y2="217.90" stroke="#c9c9c9" stroke-width="1.1" stroke-linecap="butt"/>
<line x1="649.50" y1="229.10" x2="649.50" y2="232.79" stroke="#c9c9c9" stroke-width="1.1" stroke-linecap="butt"/>
<line x1="647.20" y1="214.21" x2="651.80" y2="214.21" stroke="#c9c9c9" stroke-width="1.4300000000000002" stroke-linecap="butt"/>
<line x1="647.20" y1="232.79" x2="651.80" y2="232.79" stroke="#c9c9c9" stroke-width="1.4300000000000002" stroke-linecap="butt"/>
<line x1="653.00" y1="191.11" x2="653.00" y2="199.40" stroke="#c9c9c9" stroke-width="1.1" stroke-linecap="butt"/>
<line x1="653.00" y1="210.60" x2="653.00" y2="218.89" stroke="#c9c9c9" stroke-width="1.1" stroke-linecap="butt"/>
<line x1="650.70" y1="191.11" x2="655.30" y2="191.11" stroke="#c9c9c9" stroke-width="1.4300000000000002" stroke-linecap="butt"/>
<line x1="650.70" y1="218.89" x2="655.30" y2="218.89" stroke="#c9c9c9" stroke-width="1.4300000000000002" stroke-linecap="butt"/>
<line x1="656.40" y1="204.77" x2="656.40" y2="212.40" stroke="#c9c9c9" stroke-width="1.1" stroke-linecap="butt"/>
<line x1="656.40" y1="223.60" x2="656.40" y2="231.23" stroke="#c9c9c9" stroke-width="1.1" stroke-linecap="butt"/>
<line x1="654.10" y1="204.77" x2="658.70" y2="204.77" stroke="#c9c9c9" stroke-width="1.4300000000000002" stroke-linecap="butt"/>
<line x1="654.10" y1="231.23" x2="658.70" y2="231.23" stroke="#c9c9c9" stroke-width="1.4300000000000002" stroke-linecap="butt"/>
<line x1="661.20" y1="204.86" x2="661.20" y2="209.00" stroke="#c9c9c9" stroke-width="1.1" stroke-linecap="butt"/>
<line x1="661.20" y1="220.20" x2="661.20" y2="224.34" stroke="#c9c9c9" stroke-width="1.1" stroke-linecap="butt"/>
<line x1="658.90" y1="204.86" x2="663.50" y2="204.86" stroke="#c9c9c9" stroke-width="1.4300000000000002" stroke-linecap="butt"/>
<line x1="658.90" y1="224.34" x2="663.50" y2="224.34" stroke="#c9c9c9" stroke-width="1.4300000000000002" stroke-linecap="butt"/>
<line x1="664.70" y1="215.23" x2="664.70" y2="223.40" stroke="#c9c9c9" stroke-width="1.1" stroke-linecap="butt"/>
<line x1="664.70" y1="234.60" x2="664.70" y2="242.77" stroke="#c9c9c9" stroke-width="1.1" stroke-linecap="butt"/>
<line x1="662.40" y1="215.23" x2="667.00" y2="215.23" stroke="#c9c9c9" stroke-width="1.4300000000000002" stroke-linecap="butt"/>
<line x1="662.40" y1="242.77" x2="667.00" y2="242.77" stroke="#c9c9c9" stroke-width="1.4300000000000002" stroke-linecap="butt"/>
<line x1="668.80" y1="228.76" x2="668.80" y2="234.40" stroke="#c9c9c9" stroke-width="1.1" stroke-linecap="butt"/>
<line x1="668.80" y1="245.60" x2="668.80" y2="251.24" stroke="#c9c9c9" stroke-width="1.1" stroke-linecap="butt"/>
<line x1="666.50" y1="228.76" x2="671.10" y2="228.76" stroke="#c9c9c9" stroke-width="1.4300000000000002" stroke-linecap="butt"/>
<line x1="666.50" y1="251.24" x2="671.10" y2="251.24" stroke="#c9c9c9" stroke-width="1.4300000000000002" stroke-linecap="butt"/>
<line x1="672.90" y1="217.63" x2="672.90" y2="224.10" stroke="#c9c9c9" stroke-width="1.1" stroke-linecap="butt"/>
<line x1="672.90" y1="235.30" x2="672.90" y2="241.77" stroke="#c9c9c9" stroke-width="1.1" stroke-linecap="butt"/>
<line x1="670.60" y1="217.63" x2="675.20" y2="217.63" stroke="#c9c9c9" stroke-width="1.4300000000000002" stroke-linecap="butt"/>
<line x1="670.60" y1="241.77" x2="675.20" y2="241.77" stroke="#c9c9c9" stroke-width="1.4300000000000002" stroke-linecap="butt"/>
<line x1="677.00" y1="214.97" x2="677.00" y2="218.60" stroke="#c9c9c9" stroke-width="1.1" stroke-linecap="butt"/>
<line x1="677.00" y1="229.80" x2="677.00" y2="233.43" stroke="#c9c9c9" stroke-width="1.1" stroke-linecap="butt"/>
<line x1="674.70" y1="214.97" x2="679.30" y2="214.97" stroke="#c9c9c9" stroke-width="1.4300000000000002" stroke-linecap="butt"/>
<line x1="674.70" y1="233.43" x2="679.30" y2="233.43" stroke="#c9c9c9" stroke-width="1.4300000000000002" stroke-linecap="butt"/>
<line x1="681.20" y1="213.35" x2="681.20" y2="221.40" stroke="#c9c9c9" stroke-width="1.1" stroke-linecap="butt"/>
<line x1="681.20" y1="232.60" x2="681.20" y2="240.65" stroke="#c9c9c9" stroke-width="1.1" stroke-linecap="butt"/>
<line x1="678.90" y1="213.35" x2="683.50" y2="213.35" stroke="#c9c9c9" stroke-width="1.4300000000000002" stroke-linecap="butt"/>
<line x1="678.90" y1="240.65" x2="683.50" y2="240.65" stroke="#c9c9c9" stroke-width="1.4300000000000002" stroke-linecap="butt"/>
<line x1="684.60" y1="212.76" x2="684.60" y2="219.30" stroke="#c9c9c9" stroke-width="1.1" stroke-linecap="butt"/>
<line x1="684.60" y1="230.50" x2="684.60" y2="237.04" stroke="#c9c9c9" stroke-width="1.1" stroke-linecap="butt"/>
<line x1="682.30" y1="212.76" x2="686.90" y2="212.76" stroke="#c9c9c9" stroke-width="1.4300000000000002" stroke-linecap="butt"/>
<line x1="682.30" y1="237.04" x2="686.90" y2="237.04" stroke="#c9c9c9" stroke-width="1.4300000000000002" stroke-linecap="butt"/>
<line x1="688.70" y1="202.80" x2="688.70" y2="211.00" stroke="#c9c9c9" stroke-width="1.1" stroke-linecap="butt"/>
<line x1="688.70" y1="222.20" x2="688.70" y2="230.40" stroke="#c9c9c9" stroke-width="1.1" stroke-linecap="butt"/>
<line x1="686.40" y1="202.80" x2="691.00" y2="202.80" stroke="#c9c9c9" stroke-width="1.4300000000000002" stroke-linecap="butt"/>
<line x1="686.40" y1="230.40" x2="691.00" y2="230.40" stroke="#c9c9c9" stroke-width="1.4300000000000002" stroke-linecap="butt"/>
<line x1="692.80" y1="201.94" x2="692.80" y2="209.70" stroke="#c9c9c9" stroke-width="1.1" stroke-linecap="butt"/>
<line x1="692.80" y1="220.90" x2="692.80" y2="228.66" stroke="#c9c9c9" stroke-width="1.1" stroke-linecap="butt"/>
<line x1="690.50" y1="201.94" x2="695.10" y2="201.94" stroke="#c9c9c9" stroke-width="1.4300000000000002" stroke-linecap="butt"/>
<line x1="690.50" y1="228.66" x2="695.10" y2="228.66" stroke="#c9c9c9" stroke-width="1.4300000000000002" stroke-linecap="butt"/>
<line x1="697.00" y1="207.51" x2="697.00" y2="211.70" stroke="#c9c9c9" stroke-width="1.1" stroke-linecap="butt"/>
<line x1="697.00" y1="222.90" x2="697.00" y2="227.09" stroke="#c9c9c9" stroke-width="1.1" stroke-linecap="butt"/>
<line x1="694.70" y1="207.51" x2="699.30" y2="207.51" stroke="#c9c9c9" stroke-width="1.4300000000000002" stroke-linecap="butt"/>
<line x1="694.70" y1="227.09" x2="699.30" y2="227.09" stroke="#c9c9c9" stroke-width="1.4300000000000002" stroke-linecap="butt"/>
<line x1="699.70" y1="220.93" x2="699.70" y2="225.50" stroke="#c9c9c9" stroke-width="1.1" stroke-linecap="butt"/>
<line x1="699.70" y1="236.70" x2="699.70" y2="241.27" stroke="#c9c9c9" stroke-width="1.1" stroke-linecap="butt"/>
<line x1="697.40" y1="220.93" x2="702.00" y2="220.93" stroke="#c9c9c9" stroke-width="1.4300000000000002" stroke-linecap="butt"/>
<line x1="697.40" y1="241.27" x2="702.00" y2="241.27" stroke="#c9c9c9" stroke-width="1.4300000000000002" stroke-linecap="butt"/>
<line x1="703.80" y1="222.80" x2="703.80" y2="226.20" stroke="#c9c9c9" stroke-width="1.1" stroke-linecap="butt"/>
<line x1="703.80" y1="237.40" x2="703.80" y2="240.80" stroke="#c9c9c9" stroke-width="1.1" stroke-linecap="butt"/>
<line x1="701.50" y1="222.80" x2="706.10" y2="222.80" stroke="#c9c9c9" stroke-width="1.4300000000000002" stroke-linecap="butt"/>
<line x1="701.50" y1="240.80" x2="706.10" y2="240.80" stroke="#c9c9c9" stroke-width="1.4300000000000002" stroke-linecap="butt"/>
<line x1="708.00" y1="211.93" x2="708.00" y2="215.20" stroke="#c9c9c9" stroke-width="1.1" stroke-linecap="butt"/>
<line x1="708.00" y1="226.40" x2="708.00" y2="229.67" stroke="#c9c9c9" stroke-width="1.1" stroke-linecap="butt"/>
<line x1="705.70" y1="211.93" x2="710.30" y2="211.93" stroke="#c9c9c9" stroke-width="1.4300000000000002" stroke-linecap="butt"/>
<line x1="705.70" y1="229.67" x2="710.30" y2="229.67" stroke="#c9c9c9" stroke-width="1.4300000000000002" stroke-linecap="butt"/>
<line x1="712.10" y1="213.71" x2="712.10" y2="216.50" stroke="#c9c9c9" stroke-width="1.1" stroke-linecap="butt"/>
<line x1="712.10" y1="227.70" x2="712.10" y2="230.49" stroke="#c9c9c9" stroke-width="1.1" stroke-linecap="butt"/>
<line x1="709.80" y1="213.71" x2="714.40" y2="213.71" stroke="#c9c9c9" stroke-width="1.4300000000000002" stroke-linecap="butt"/>
<line x1="709.80" y1="230.49" x2="714.40" y2="230.49" stroke="#c9c9c9" stroke-width="1.4300000000000002" stroke-linecap="butt"/>
<line x1="716.20" y1="222.39" x2="716.20" y2="226.60" stroke="#c9c9c9" stroke-width="1.1" stroke-linecap="butt"/>
<line x1="716.20" y1="237.80" x2="716.20" y2="242.01" stroke="#c9c9c9" stroke-width="1.1" stroke-linecap="butt"/>
<line x1="713.90" y1="222.39" x2="718.50" y2="222.39" stroke="#c9c9c9" stroke-width="1.4300000000000002" stroke-linecap="butt"/>
<line x1="713.90" y1="242.01" x2="718.50" y2="242.01" stroke="#c9c9c9" stroke-width="1.4300000000000002" stroke-linecap="butt"/>
<line x1="720.30" y1="202.98" x2="720.30" y2="209.00" stroke="#c9c9c9" stroke-width="1.1" stroke-linecap="butt"/>
<line x1="720.30" y1="220.20" x2="720.30" y2="226.22" stroke="#c9c9c9" stroke-width="1.1" stroke-linecap="butt"/>
<line x1="718.00" y1="202.98" x2="722.60" y2="202.98" stroke="#c9c9c9" stroke-width="1.4300000000000002" stroke-linecap="butt"/>
<line x1="718.00" y1="226.22" x2="722.60" y2="226.22" stroke="#c9c9c9" stroke-width="1.4300000000000002" stroke-linecap="butt"/>
<line x1="724.40" y1="217.58" x2="724.40" y2="220.00" stroke="#c9c9c9" stroke-width="1.1" stroke-linecap="butt"/>
<line x1="724.40" y1="231.20" x2="724.40" y2="233.62" stroke="#c9c9c9" stroke-width="1.1" stroke-linecap="butt"/>
<line x1="722.10" y1="217.58" x2="726.70" y2="217.58" stroke="#c9c9c9" stroke-width="1.4300000000000002" stroke-linecap="butt"/>
<line x1="722.10" y1="233.62" x2="726.70" y2="233.62" stroke="#c9c9c9" stroke-width="1.4300000000000002" stroke-linecap="butt"/>
<line x1="728.60" y1="221.03" x2="728.60" y2="227.50" stroke="#c9c9c9" stroke-width="1.1" stroke-linecap="butt"/>
<line x1="728.60" y1="238.70" x2="728.60" y2="245.17" stroke="#c9c9c9" stroke-width="1.1" stroke-linecap="butt"/>
<line x1="726.30" y1="221.03" x2="730.90" y2="221.03" stroke="#c9c9c9" stroke-width="1.4300000000000002" stroke-linecap="butt"/>
<line x1="726.30" y1="245.17" x2="730.90" y2="245.17" stroke="#c9c9c9" stroke-width="1.4300000000000002" stroke-linecap="butt"/>
<line x1="732.70" y1="218.97" x2="732.70" y2="223.40" stroke="#c9c9c9" stroke-width="1.1" stroke-linecap="butt"/>
<line x1="732.70" y1="234.60" x2="732.70" y2="239.03" stroke="#c9c9c9" stroke-width="1.1" stroke-linecap="butt"/>
<line x1="730.40" y1="218.97" x2="735.00" y2="218.97" stroke="#c9c9c9" stroke-width="1.4300000000000002" stroke-linecap="butt"/>
<line x1="730.40" y1="239.03" x2="735.00" y2="239.03" stroke="#c9c9c9" stroke-width="1.4300000000000002" stroke-linecap="butt"/>
<line x1="736.80" y1="221.24" x2="736.80" y2="225.50" stroke="#c9c9c9" stroke-width="1.1" stroke-linecap="butt"/>
<line x1="736.80" y1="236.70" x2="736.80" y2="240.96" stroke="#c9c9c9" stroke-width="1.1" stroke-linecap="butt"/>
<line x1="734.50" y1="221.24" x2="739.10" y2="221.24" stroke="#c9c9c9" stroke-width="1.4300000000000002" stroke-linecap="butt"/>
<line x1="734.50" y1="240.96" x2="739.10" y2="240.96" stroke="#c9c9c9" stroke-width="1.4300000000000002" stroke-linecap="butt"/>
<line x1="740.90" y1="221.59" x2="740.90" y2="228.90" stroke="#c9c9c9" stroke-width="1.1" stroke-linecap="butt"/>
<line x1="740.90" y1="240.10" x2="740.90" y2="247.41" stroke="#c9c9c9" stroke-width="1.1" stroke-linecap="butt"/>
<line x1="738.60" y1="221.59" x2="743.20" y2="221.59" stroke="#c9c9c9" stroke-width="1.4300000000000002" stroke-linecap="butt"/>
<line x1="738.60" y1="247.41" x2="743.20" y2="247.41" stroke="#c9c9c9" stroke-width="1.4300000000000002" stroke-linecap="butt"/>
<line x1="745.10" y1="225.02" x2="745.10" y2="230.30" stroke="#c9c9c9" stroke-width="1.1" stroke-linecap="butt"/>
<line x1="745.10" y1="241.50" x2="745.10" y2="246.78" stroke="#c9c9c9" stroke-width="1.1" stroke-linecap="butt"/>
<line x1="742.80" y1="225.02" x2="747.40" y2="225.02" stroke="#c9c9c9" stroke-width="1.4300000000000002" stroke-linecap="butt"/>
<line x1="742.80" y1="246.78" x2="747.40" y2="246.78" stroke="#c9c9c9" stroke-width="1.4300000000000002" stroke-linecap="butt"/>
<line x1="749.20" y1="223.21" x2="749.20" y2="227.50" stroke="#c9c9c9" stroke-width="1.1" stroke-linecap="butt"/>
<line x1="749.20" y1="238.70" x2="749.20" y2="242.99" stroke="#c9c9c9" stroke-width="1.1" stroke-linecap="butt"/>
<line x1="746.90" y1="223.21" x2="751.50" y2="223.21" stroke="#c9c9c9" stroke-width="1.4300000000000002" stroke-linecap="butt"/>
<line x1="746.90" y1="242.99" x2="751.50" y2="242.99" stroke="#c9c9c9" stroke-width="1.4300000000000002" stroke-linecap="butt"/>
<line x1="751.70" y1="218.11" x2="751.70" y2="223.40" stroke="#c9c9c9" stroke-width="1.1" stroke-linecap="butt"/>
<line x1="751.70" y1="234.60" x2="751.70" y2="239.89" stroke="#c9c9c9" stroke-width="1.1" stroke-linecap="butt"/>
<line x1="749.40" y1="218.11" x2="754.00" y2="218.11" stroke="#c9c9c9" stroke-width="1.4300000000000002" stroke-linecap="butt"/>
<line x1="749.40" y1="239.89" x2="754.00" y2="239.89" stroke="#c9c9c9" stroke-width="1.4300000000000002" stroke-linecap="butt"/>
<line x1="755.80" y1="221.57" x2="755.80" y2="228.20" stroke="#c9c9c9" stroke-width="1.1" stroke-linecap="butt"/>
<line x1="755.80" y1="239.40" x2="755.80" y2="246.03" stroke="#c9c9c9" stroke-width="1.1" stroke-linecap="butt"/>
<line x1="753.50" y1="221.57" x2="758.10" y2="221.57" stroke="#c9c9c9" stroke-width="1.4300000000000002" stroke-linecap="butt"/>
<line x1="753.50" y1="246.03" x2="758.10" y2="246.03" stroke="#c9c9c9" stroke-width="1.4300000000000002" stroke-linecap="butt"/>
<line x1="759.90" y1="231.66" x2="759.90" y2="234.40" stroke="#c9c9c9" stroke-width="1.1" stroke-linecap="butt"/>
<line x1="759.90" y1="245.60" x2="759.90" y2="248.34" stroke="#c9c9c9" stroke-width="1.1" stroke-linecap="butt"/>
<line x1="757.60" y1="231.66" x2="762.20" y2="231.66" stroke="#c9c9c9" stroke-width="1.4300000000000002" stroke-linecap="butt"/>
<line x1="757.60" y1="248.34" x2="762.20" y2="248.34" stroke="#c9c9c9" stroke-width="1.4300000000000002" stroke-linecap="butt"/>
<line x1="763.40" y1="214.45" x2="763.40" y2="222.70" stroke="#c9c9c9" stroke-width="1.1" stroke-linecap="butt"/>
<line x1="763.40" y1="233.90" x2="763.40" y2="242.15" stroke="#c9c9c9" stroke-width="1.1" stroke-linecap="butt"/>
<line x1="761.10" y1="214.45" x2="765.70" y2="214.45" stroke="#c9c9c9" stroke-width="1.4300000000000002" stroke-linecap="butt"/>
<line x1="761.10" y1="242.15" x2="765.70" y2="242.15" stroke="#c9c9c9" stroke-width="1.4300000000000002" stroke-linecap="butt"/>
<line x1="768.20" y1="225.66" x2="768.20" y2="228.20" stroke="#c9c9c9" stroke-width="1.1" stroke-linecap="butt"/>
<line x1="768.20" y1="239.40" x2="768.20" y2="241.94" stroke="#c9c9c9" stroke-width="1.1" stroke-linecap="butt"/>
<line x1="765.90" y1="225.66" x2="770.50" y2="225.66" stroke="#c9c9c9" stroke-width="1.4300000000000002" stroke-linecap="butt"/>
<line x1="765.90" y1="241.94" x2="770.50" y2="241.94" stroke="#c9c9c9" stroke-width="1.4300000000000002" stroke-linecap="butt"/>
<line x1="772.30" y1="213.10" x2="772.30" y2="220.00" stroke="#c9c9c9" stroke-width="1.1" stroke-linecap="butt"/>
<line x1="772.30" y1="231.20" x2="772.30" y2="238.10" stroke="#c9c9c9" stroke-width="1.1" stroke-linecap="butt"/>
<line x1="770.00" y1="213.10" x2="774.60" y2="213.10" stroke="#c9c9c9" stroke-width="1.4300000000000002" stroke-linecap="butt"/>
<line x1="770.00" y1="238.10" x2="774.60" y2="238.10" stroke="#c9c9c9" stroke-width="1.4300000000000002" stroke-linecap="butt"/>
<line x1="775.70" y1="219.43" x2="775.70" y2="226.90" stroke="#c9c9c9" stroke-width="1.1" stroke-linecap="butt"/>
<line x1="775.70" y1="238.10" x2="775.70" y2="245.57" stroke="#c9c9c9" stroke-width="1.1" stroke-linecap="butt"/>
<line x1="773.40" y1="219.43" x2="778.00" y2="219.43" stroke="#c9c9c9" stroke-width="1.4300000000000002" stroke-linecap="butt"/>
<line x1="773.40" y1="245.57" x2="778.00" y2="245.57" stroke="#c9c9c9" stroke-width="1.4300000000000002" stroke-linecap="butt"/>
<line x1="779.90" y1="225.69" x2="779.90" y2="228.20" stroke="#c9c9c9" stroke-width="1.1" stroke-linecap="butt"/>
<line x1="779.90" y1="239.40" x2="779.90" y2="241.91" stroke="#c9c9c9" stroke-width="1.1" stroke-linecap="butt"/>
<line x1="777.60" y1="225.69" x2="782.20" y2="225.69" stroke="#c9c9c9" stroke-width="1.4300000000000002" stroke-linecap="butt"/>
<line x1="777.60" y1="241.91" x2="782.20" y2="241.91" stroke="#c9c9c9" stroke-width="1.4300000000000002" stroke-linecap="butt"/>
<line x1="784.00" y1="219.07" x2="784.00" y2="226.20" stroke="#c9c9c9" stroke-width="1.1" stroke-linecap="butt"/>
<line x1="784.00" y1="237.40" x2="784.00" y2="244.53" stroke="#c9c9c9" stroke-width="1.1" stroke-linecap="butt"/>
<line x1="781.70" y1="219.07" x2="786.30" y2="219.07" stroke="#c9c9c9" stroke-width="1.4300000000000002" stroke-linecap="butt"/>
<line x1="781.70" y1="244.53" x2="786.30" y2="244.53" stroke="#c9c9c9" stroke-width="1.4300000000000002" stroke-linecap="butt"/>
<line x1="787.40" y1="222.30" x2="787.40" y2="226.90" stroke="#c9c9c9" stroke-width="1.1" stroke-linecap="butt"/>
<line x1="787.40" y1="238.10" x2="787.40" y2="242.70" stroke="#c9c9c9" stroke-width="1.1" stroke-linecap="butt"/>
<line x1="785.10" y1="222.30" x2="789.70" y2="222.30" stroke="#c9c9c9" stroke-width="1.4300000000000002" stroke-linecap="butt"/>
<line x1="785.10" y1="242.70" x2="789.70" y2="242.70" stroke="#c9c9c9" stroke-width="1.4300000000000002" stroke-linecap="butt"/>
<line x1="791.50" y1="217.53" x2="791.50" y2="223.40" stroke="#c9c9c9" stroke-width="1.1" stroke-linecap="butt"/>
<line x1="791.50" y1="234.60" x2="791.50" y2="240.47" stroke="#c9c9c9" stroke-width="1.1" stroke-linecap="butt"/>
<line x1="789.20" y1="217.53" x2="793.80" y2="217.53" stroke="#c9c9c9" stroke-width="1.4300000000000002" stroke-linecap="butt"/>
<line x1="789.20" y1="240.47" x2="793.80" y2="240.47" stroke="#c9c9c9" stroke-width="1.4300000000000002" stroke-linecap="butt"/>
<line x1="795.70" y1="218.95" x2="795.70" y2="221.40" stroke="#c9c9c9" stroke-width="1.1" stroke-linecap="butt"/>
<line x1="795.70" y1="232.60" x2="795.70" y2="235.05" stroke="#c9c9c9" stroke-width="1.1" stroke-linecap="butt"/>
<line x1="793.40" y1="218.95" x2="798.00" y2="218.95" stroke="#c9c9c9" stroke-width="1.4300000000000002" stroke-linecap="butt"/>
<line x1="793.40" y1="235.05" x2="798.00" y2="235.05" stroke="#c9c9c9" stroke-width="1.4300000000000002" stroke-linecap="butt"/>
<line x1="799.80" y1="221.42" x2="799.80" y2="224.10" stroke="#c9c9c9" stroke-width="1.1" stroke-linecap="butt"/>
<line x1="799.80" y1="235.30" x2="799.80" y2="237.98" stroke="#c9c9c9" stroke-width="1.1" stroke-linecap="butt"/>
<line x1="797.50" y1="221.42" x2="802.10" y2="221.42" stroke="#c9c9c9" stroke-width="1.4300000000000002" stroke-linecap="butt"/>
<line x1="797.50" y1="237.98" x2="802.10" y2="237.98" stroke="#c9c9c9" stroke-width="1.4300000000000002" stroke-linecap="butt"/>
<line x1="803.20" y1="230.91" x2="803.20" y2="234.40" stroke="#c9c9c9" stroke-width="1.1" stroke-linecap="butt"/>
<line x1="803.20" y1="245.60" x2="803.20" y2="249.09" stroke="#c9c9c9" stroke-width="1.1" stroke-linecap="butt"/>
<line x1="800.90" y1="230.91" x2="805.50" y2="230.91" stroke="#c9c9c9" stroke-width="1.4300000000000002" stroke-linecap="butt"/>
<line x1="800.90" y1="249.09" x2="805.50" y2="249.09" stroke="#c9c9c9" stroke-width="1.4300000000000002" stroke-linecap="butt"/>
<line x1="807.30" y1="210.47" x2="807.30" y2="218.60" stroke="#c9c9c9" stroke-width="1.1" stroke-linecap="butt"/>
<line x1="807.30" y1="229.80" x2="807.30" y2="237.93" stroke="#c9c9c9" stroke-width="1.1" stroke-linecap="butt"/>
<line x1="805.00" y1="210.47" x2="809.60" y2="210.47" stroke="#c9c9c9" stroke-width="1.4300000000000002" stroke-linecap="butt"/>
<line x1="805.00" y1="237.93" x2="809.60" y2="237.93" stroke="#c9c9c9" stroke-width="1.4300000000000002" stroke-linecap="butt"/>
<line x1="811.50" y1="219.12" x2="811.50" y2="222.70" stroke="#c9c9c9" stroke-width="1.1" stroke-linecap="butt"/>
<line x1="811.50" y1="233.90" x2="811.50" y2="237.48" stroke="#c9c9c9" stroke-width="1.1" stroke-linecap="butt"/>
<line x1="809.20" y1="219.12" x2="813.80" y2="219.12" stroke="#c9c9c9" stroke-width="1.4300000000000002" stroke-linecap="butt"/>
<line x1="809.20" y1="237.48" x2="813.80" y2="237.48" stroke="#c9c9c9" stroke-width="1.4300000000000002" stroke-linecap="butt"/>
<line x1="814.90" y1="228.17" x2="814.90" y2="235.10" stroke="#c9c9c9" stroke-width="1.1" stroke-linecap="butt"/>
<line x1="814.90" y1="246.30" x2="814.90" y2="253.23" stroke="#c9c9c9" stroke-width="1.1" stroke-linecap="butt"/>
<line x1="812.60" y1="228.17" x2="817.20" y2="228.17" stroke="#c9c9c9" stroke-width="1.4300000000000002" stroke-linecap="butt"/>
<line x1="812.60" y1="253.23" x2="817.20" y2="253.23" stroke="#c9c9c9" stroke-width="1.4300000000000002" stroke-linecap="butt"/>
<line x1="819.00" y1="222.32" x2="819.00" y2="230.30" stroke="#c9c9c9" stroke-width="1.1" stroke-linecap="butt"/>
<line x1="819.00" y1="241.50" x2="819.00" y2="249.48" stroke="#c9c9c9" stroke-width="1.1" stroke-linecap="butt"/>
<line x1="816.70" y1="222.32" x2="821.30" y2="222.32" stroke="#c9c9c9" stroke-width="1.4300000000000002" stroke-linecap="butt"/>
<line x1="816.70" y1="249.48" x2="821.30" y2="249.48" stroke="#c9c9c9" stroke-width="1.4300000000000002" stroke-linecap="butt"/>
<line x1="823.10" y1="221.55" x2="823.10" y2="229.60" stroke="#c9c9c9" stroke-width="1.1" stroke-linecap="butt"/>
<line x1="823.10" y1="240.80" x2="823.10" y2="248.85" stroke="#c9c9c9" stroke-width="1.1" stroke-linecap="butt"/>
<line x1="820.80" y1="221.55" x2="825.40" y2="221.55" stroke="#c9c9c9" stroke-width="1.4300000000000002" stroke-linecap="butt"/>
<line x1="820.80" y1="248.85" x2="825.40" y2="248.85" stroke="#c9c9c9" stroke-width="1.4300000000000002" stroke-linecap="butt"/>
<line x1="827.30" y1="229.93" x2="827.30" y2="234.40" stroke="#c9c9c9" stroke-width="1.1" stroke-linecap="butt"/>
<line x1="827.30" y1="245.60" x2="827.30" y2="250.07" stroke="#c9c9c9" stroke-width="1.1" stroke-linecap="butt"/>
<line x1="825.00" y1="229.93" x2="829.60" y2="229.93" stroke="#c9c9c9" stroke-width="1.4300000000000002" stroke-linecap="butt"/>
<line x1="825.00" y1="250.07" x2="829.60" y2="250.07" stroke="#c9c9c9" stroke-width="1.4300000000000002" stroke-linecap="butt"/>
<line x1="830.70" y1="227.87" x2="830.70" y2="232.40" stroke="#c9c9c9" stroke-width="1.1" stroke-linecap="butt"/>
<line x1="830.70" y1="243.60" x2="830.70" y2="248.13" stroke="#c9c9c9" stroke-width="1.1" stroke-linecap="butt"/>
<line x1="828.40" y1="227.87" x2="833.00" y2="227.87" stroke="#c9c9c9" stroke-width="1.4300000000000002" stroke-linecap="butt"/>
<line x1="828.40" y1="248.13" x2="833.00" y2="248.13" stroke="#c9c9c9" stroke-width="1.4300000000000002" stroke-linecap="butt"/>
<line x1="834.80" y1="221.35" x2="834.80" y2="226.90" stroke="#c9c9c9" stroke-width="1.1" stroke-linecap="butt"/>
<line x1="834.80" y1="238.10" x2="834.80" y2="243.65" stroke="#c9c9c9" stroke-width="1.1" stroke-linecap="butt"/>
<line x1="832.50" y1="221.35" x2="837.10" y2="221.35" stroke="#c9c9c9" stroke-width="1.4300000000000002" stroke-linecap="butt"/>
<line x1="832.50" y1="243.65" x2="837.10" y2="243.65" stroke="#c9c9c9" stroke-width="1.4300000000000002" stroke-linecap="butt"/>
<line x1="838.90" y1="228.05" x2="838.90" y2="235.10" stroke="#c9c9c9" stroke-width="1.1" stroke-linecap="butt"/>
<line x1="838.90" y1="246.30" x2="838.90" y2="253.35" stroke="#c9c9c9" stroke-width="1.1" stroke-linecap="butt"/>
<line x1="836.60" y1="228.05" x2="841.20" y2="228.05" stroke="#c9c9c9" stroke-width="1.4300000000000002" stroke-linecap="butt"/>
<line x1="836.60" y1="253.35" x2="841.20" y2="253.35" stroke="#c9c9c9" stroke-width="1.4300000000000002" stroke-linecap="butt"/>
<line x1="842.40" y1="220.35" x2="842.40" y2="223.40" stroke="#c9c9c9" stroke-width="1.1" stroke-linecap="butt"/>
<line x1="842.40" y1="234.60" x2="842.40" y2="237.65" stroke="#c9c9c9" stroke-width="1.1" stroke-linecap="butt"/>
<line x1="840.10" y1="220.35" x2="844.70" y2="220.35" stroke="#c9c9c9" stroke-width="1.4300000000000002" stroke-linecap="butt"/>
<line x1="840.10" y1="237.65" x2="844.70" y2="237.65" stroke="#c9c9c9" stroke-width="1.4300000000000002" stroke-linecap="butt"/>
<line x1="847.20" y1="212.41" x2="847.20" y2="219.30" stroke="#c9c9c9" stroke-width="1.1" stroke-linecap="butt"/>
<line x1="847.20" y1="230.50" x2="847.20" y2="237.39" stroke="#c9c9c9" stroke-width="1.1" stroke-linecap="butt"/>
<line x1="844.90" y1="212.41" x2="849.50" y2="212.41" stroke="#c9c9c9" stroke-width="1.4300000000000002" stroke-linecap="butt"/>
<line x1="844.90" y1="237.39" x2="849.50" y2="237.39" stroke="#c9c9c9" stroke-width="1.4300000000000002" stroke-linecap="butt"/>
<line x1="850.60" y1="230.02" x2="850.60" y2="237.20" stroke="#c9c9c9" stroke-width="1.1" stroke-linecap="butt"/>
<line x1="850.60" y1="248.40" x2="850.60" y2="255.58" stroke="#c9c9c9" stroke-width="1.1" stroke-linecap="butt"/>
<line x1="848.30" y1="230.02" x2="852.90" y2="230.02" stroke="#c9c9c9" stroke-width="1.4300000000000002" stroke-linecap="butt"/>
<line x1="848.30" y1="255.58" x2="852.90" y2="255.58" stroke="#c9c9c9" stroke-width="1.4300000000000002" stroke-linecap="butt"/>
<line x1="854.70" y1="226.84" x2="854.70" y2="234.40" stroke="#c9c9c9" stroke-width="1.1" stroke-linecap="butt"/>
<line x1="854.70" y1="245.60" x2="854.70" y2="253.16" stroke="#c9c9c9" stroke-width="1.1" stroke-linecap="butt"/>
<line x1="852.40" y1="226.84" x2="857.00" y2="226.84" stroke="#c9c9c9" stroke-width="1.4300000000000002" stroke-linecap="butt"/>
<line x1="852.40" y1="253.16" x2="857.00" y2="253.16" stroke="#c9c9c9" stroke-width="1.4300000000000002" stroke-linecap="butt"/>
<line x1="858.90" y1="230.38" x2="858.90" y2="233.00" stroke="#c9c9c9" stroke-width="1.1" stroke-linecap="butt"/>
<line x1="858.90" y1="244.20" x2="858.90" y2="246.82" stroke="#c9c9c9" stroke-width="1.1" stroke-linecap="butt"/>
<line x1="856.60" y1="230.38" x2="861.20" y2="230.38" stroke="#c9c9c9" stroke-width="1.4300000000000002" stroke-linecap="butt"/>
<line x1="856.60" y1="246.82" x2="861.20" y2="246.82" stroke="#c9c9c9" stroke-width="1.4300000000000002" stroke-linecap="butt"/>
<line x1="863.00" y1="224.33" x2="863.00" y2="232.40" stroke="#c9c9c9" stroke-width="1.1" stroke-linecap="butt"/>
<line x1="863.00" y1="243.60" x2="863.00" y2="251.67" stroke="#c9c9c9" stroke-width="1.1" stroke-linecap="butt"/>
<line x1="860.70" y1="224.33" x2="865.30" y2="224.33" stroke="#c9c9c9" stroke-width="1.4300000000000002" stroke-linecap="butt"/>
<line x1="860.70" y1="251.67" x2="865.30" y2="251.67" stroke="#c9c9c9" stroke-width="1.4300000000000002" stroke-linecap="butt"/>
<line x1="628.90" y1="178.47" x2="628.90" y2="185.60" stroke="#a6a6a6" stroke-width="1.25" stroke-linecap="butt"/>
<line x1="628.90" y1="196.80" x2="628.90" y2="203.93" stroke="#a6a6a6" stroke-width="1.25" stroke-linecap="butt"/>
<line x1="626.60" y1="178.47" x2="631.20" y2="178.47" stroke="#a6a6a6" stroke-width="1.625" stroke-linecap="butt"/>
<line x1="626.60" y1="203.93" x2="631.20" y2="203.93" stroke="#a6a6a6" stroke-width="1.625" stroke-linecap="butt"/>
<line x1="633.10" y1="181.97" x2="633.10" y2="191.10" stroke="#a6a6a6" stroke-width="1.25" stroke-linecap="butt"/>
<line x1="633.10" y1="202.30" x2="633.10" y2="211.43" stroke="#a6a6a6" stroke-width="1.25" stroke-linecap="butt"/>
<line x1="630.80" y1="181.97" x2="635.40" y2="181.97" stroke="#a6a6a6" stroke-width="1.625" stroke-linecap="butt"/>
<line x1="630.80" y1="211.43" x2="635.40" y2="211.43" stroke="#a6a6a6" stroke-width="1.625" stroke-linecap="butt"/>
<line x1="637.20" y1="176.41" x2="637.20" y2="187.70" stroke="#a6a6a6" stroke-width="1.25" stroke-linecap="butt"/>
<line x1="637.20" y1="198.90" x2="637.20" y2="210.19" stroke="#a6a6a6" stroke-width="1.25" stroke-linecap="butt"/>
<line x1="634.90" y1="176.41" x2="639.50" y2="176.41" stroke="#a6a6a6" stroke-width="1.625" stroke-linecap="butt"/>
<line x1="634.90" y1="210.19" x2="639.50" y2="210.19" stroke="#a6a6a6" stroke-width="1.625" stroke-linecap="butt"/>
<line x1="641.30" y1="171.86" x2="641.30" y2="185.60" stroke="#a6a6a6" stroke-width="1.25" stroke-linecap="butt"/>
<line x1="641.30" y1="196.80" x2="641.30" y2="210.54" stroke="#a6a6a6" stroke-width="1.25" stroke-linecap="butt"/>
<line x1="639.00" y1="171.86" x2="643.60" y2="171.86" stroke="#a6a6a6" stroke-width="1.625" stroke-linecap="butt"/>
<line x1="639.00" y1="210.54" x2="643.60" y2="210.54" stroke="#a6a6a6" stroke-width="1.625" stroke-linecap="butt"/>
<line x1="645.40" y1="172.38" x2="645.40" y2="181.50" stroke="#a6a6a6" stroke-width="1.25" stroke-linecap="butt"/>
<line x1="645.40" y1="192.70" x2="645.40" y2="201.82" stroke="#a6a6a6" stroke-width="1.25" stroke-linecap="butt"/>
<line x1="643.10" y1="172.38" x2="647.70" y2="172.38" stroke="#a6a6a6" stroke-width="1.625" stroke-linecap="butt"/>
<line x1="643.10" y1="201.82" x2="647.70" y2="201.82" stroke="#a6a6a6" stroke-width="1.625" stroke-linecap="butt"/>
<line x1="649.50" y1="159.51" x2="649.50" y2="173.30" stroke="#a6a6a6" stroke-width="1.25" stroke-linecap="butt"/>
<line x1="649.50" y1="184.50" x2="649.50" y2="198.29" stroke="#a6a6a6" stroke-width="1.25" stroke-linecap="butt"/>
<line x1="647.20" y1="159.51" x2="651.80" y2="159.51" stroke="#a6a6a6" stroke-width="1.625" stroke-linecap="butt"/>
<line x1="647.20" y1="198.29" x2="651.80" y2="198.29" stroke="#a6a6a6" stroke-width="1.625" stroke-linecap="butt"/>
<line x1="653.00" y1="175.54" x2="653.00" y2="186.30" stroke="#a6a6a6" stroke-width="1.25" stroke-linecap="butt"/>
<line x1="653.00" y1="197.50" x2="653.00" y2="208.26" stroke="#a6a6a6" stroke-width="1.25" stroke-linecap="butt"/>
<line x1="650.70" y1="175.54" x2="655.30" y2="175.54" stroke="#a6a6a6" stroke-width="1.625" stroke-linecap="butt"/>
<line x1="650.70" y1="208.26" x2="655.30" y2="208.26" stroke="#a6a6a6" stroke-width="1.625" stroke-linecap="butt"/>
<line x1="656.40" y1="170.50" x2="656.40" y2="179.40" stroke="#a6a6a6" stroke-width="1.25" stroke-linecap="butt"/>
<line x1="656.40" y1="190.60" x2="656.40" y2="199.50" stroke="#a6a6a6" stroke-width="1.25" stroke-linecap="butt"/>
<line x1="654.10" y1="170.50" x2="658.70" y2="170.50" stroke="#a6a6a6" stroke-width="1.625" stroke-linecap="butt"/>
<line x1="654.10" y1="199.50" x2="658.70" y2="199.50" stroke="#a6a6a6" stroke-width="1.625" stroke-linecap="butt"/>
<line x1="661.20" y1="168.47" x2="661.20" y2="177.40" stroke="#a6a6a6" stroke-width="1.25" stroke-linecap="butt"/>
<line x1="661.20" y1="188.60" x2="661.20" y2="197.53" stroke="#a6a6a6" stroke-width="1.25" stroke-linecap="butt"/>
<line x1="658.90" y1="168.47" x2="663.50" y2="168.47" stroke="#a6a6a6" stroke-width="1.625" stroke-linecap="butt"/>
<line x1="658.90" y1="197.53" x2="663.50" y2="197.53" stroke="#a6a6a6" stroke-width="1.625" stroke-linecap="butt"/>
<line x1="665.30" y1="179.18" x2="665.30" y2="187.00" stroke="#a6a6a6" stroke-width="1.25" stroke-linecap="butt"/>
<line x1="665.30" y1="198.20" x2="665.30" y2="206.02" stroke="#a6a6a6" stroke-width="1.25" stroke-linecap="butt"/>
<line x1="663.00" y1="179.18" x2="667.60" y2="179.18" stroke="#a6a6a6" stroke-width="1.625" stroke-linecap="butt"/>
<line x1="663.00" y1="206.02" x2="667.60" y2="206.02" stroke="#a6a6a6" stroke-width="1.625" stroke-linecap="butt"/>
<line x1="669.50" y1="173.37" x2="669.50" y2="180.40" stroke="#a6a6a6" stroke-width="1.25" stroke-linecap="butt"/>
<line x1="669.50" y1="191.60" x2="669.50" y2="198.63" stroke="#a6a6a6" stroke-width="1.25" stroke-linecap="butt"/>
<line x1="667.20" y1="173.37" x2="671.80" y2="173.37" stroke="#a6a6a6" stroke-width="1.625" stroke-linecap="butt"/>
<line x1="667.20" y1="198.63" x2="671.80" y2="198.63" stroke="#a6a6a6" stroke-width="1.625" stroke-linecap="butt"/>
<line x1="672.90" y1="155.41" x2="672.90" y2="163.00" stroke="#a6a6a6" stroke-width="1.25" stroke-linecap="butt"/>
<line x1="672.90" y1="174.20" x2="672.90" y2="181.79" stroke="#a6a6a6" stroke-width="1.25" stroke-linecap="butt"/>
<line x1="670.60" y1="155.41" x2="675.20" y2="155.41" stroke="#a6a6a6" stroke-width="1.625" stroke-linecap="butt"/>
<line x1="670.60" y1="181.79" x2="675.20" y2="181.79" stroke="#a6a6a6" stroke-width="1.625" stroke-linecap="butt"/>
<line x1="677.00" y1="152.39" x2="677.00" y2="164.30" stroke="#a6a6a6" stroke-width="1.25" stroke-linecap="butt"/>
<line x1="677.00" y1="175.50" x2="677.00" y2="187.41" stroke="#a6a6a6" stroke-width="1.25" stroke-linecap="butt"/>
<line x1="674.70" y1="152.39" x2="679.30" y2="152.39" stroke="#a6a6a6" stroke-width="1.625" stroke-linecap="butt"/>
<line x1="674.70" y1="187.41" x2="679.30" y2="187.41" stroke="#a6a6a6" stroke-width="1.625" stroke-linecap="butt"/>
<line x1="680.50" y1="158.23" x2="680.50" y2="172.60" stroke="#a6a6a6" stroke-width="1.25" stroke-linecap="butt"/>
<line x1="680.50" y1="183.80" x2="680.50" y2="198.17" stroke="#a6a6a6" stroke-width="1.25" stroke-linecap="butt"/>
<line x1="678.20" y1="158.23" x2="682.80" y2="158.23" stroke="#a6a6a6" stroke-width="1.625" stroke-linecap="butt"/>
<line x1="678.20" y1="198.17" x2="682.80" y2="198.17" stroke="#a6a6a6" stroke-width="1.625" stroke-linecap="butt"/>
<line x1="684.60" y1="170.41" x2="684.60" y2="178.10" stroke="#a6a6a6" stroke-width="1.25" stroke-linecap="butt"/>
<line x1="684.60" y1="189.30" x2="684.60" y2="196.99" stroke="#a6a6a6" stroke-width="1.25" stroke-linecap="butt"/>
<line x1="682.30" y1="170.41" x2="686.90" y2="170.41" stroke="#a6a6a6" stroke-width="1.625" stroke-linecap="butt"/>
<line x1="682.30" y1="196.99" x2="686.90" y2="196.99" stroke="#a6a6a6" stroke-width="1.625" stroke-linecap="butt"/>
<line x1="688.70" y1="156.81" x2="688.70" y2="163.60" stroke="#a6a6a6" stroke-width="1.25" stroke-linecap="butt"/>
<line x1="688.70" y1="174.80" x2="688.70" y2="181.59" stroke="#a6a6a6" stroke-width="1.25" stroke-linecap="butt"/>
<line x1="686.40" y1="156.81" x2="691.00" y2="156.81" stroke="#a6a6a6" stroke-width="1.625" stroke-linecap="butt"/>
<line x1="686.40" y1="181.59" x2="691.00" y2="181.59" stroke="#a6a6a6" stroke-width="1.625" stroke-linecap="butt"/>
<line x1="692.10" y1="156.21" x2="692.10" y2="170.50" stroke="#a6a6a6" stroke-width="1.25" stroke-linecap="butt"/>
<line x1="692.10" y1="181.70" x2="692.10" y2="195.99" stroke="#a6a6a6" stroke-width="1.25" stroke-linecap="butt"/>
<line x1="689.80" y1="156.21" x2="694.40" y2="156.21" stroke="#a6a6a6" stroke-width="1.625" stroke-linecap="butt"/>
<line x1="689.80" y1="195.99" x2="694.40" y2="195.99" stroke="#a6a6a6" stroke-width="1.625" stroke-linecap="butt"/>
<line x1="696.30" y1="170.13" x2="696.30" y2="180.80" stroke="#a6a6a6" stroke-width="1.25" stroke-linecap="butt"/>
<line x1="696.30" y1="192.00" x2="696.30" y2="202.67" stroke="#a6a6a6" stroke-width="1.25" stroke-linecap="butt"/>
<line x1="694.00" y1="170.13" x2="698.60" y2="170.13" stroke="#a6a6a6" stroke-width="1.625" stroke-linecap="butt"/>
<line x1="694.00" y1="202.67" x2="698.60" y2="202.67" stroke="#a6a6a6" stroke-width="1.625" stroke-linecap="butt"/>
<line x1="700.40" y1="163.65" x2="700.40" y2="173.30" stroke="#a6a6a6" stroke-width="1.25" stroke-linecap="butt"/>
<line x1="700.40" y1="184.50" x2="700.40" y2="194.15" stroke="#a6a6a6" stroke-width="1.25" stroke-linecap="butt"/>
<line x1="698.10" y1="163.65" x2="702.70" y2="163.65" stroke="#a6a6a6" stroke-width="1.625" stroke-linecap="butt"/>
<line x1="698.10" y1="194.15" x2="702.70" y2="194.15" stroke="#a6a6a6" stroke-width="1.625" stroke-linecap="butt"/>
<line x1="704.50" y1="179.40" x2="704.50" y2="187.70" stroke="#a6a6a6" stroke-width="1.25" stroke-linecap="butt"/>
<line x1="704.50" y1="198.90" x2="704.50" y2="207.20" stroke="#a6a6a6" stroke-width="1.25" stroke-linecap="butt"/>
<line x1="702.20" y1="179.40" x2="706.80" y2="179.40" stroke="#a6a6a6" stroke-width="1.625" stroke-linecap="butt"/>
<line x1="702.20" y1="207.20" x2="706.80" y2="207.20" stroke="#a6a6a6" stroke-width="1.625" stroke-linecap="butt"/>
<line x1="708.00" y1="171.05" x2="708.00" y2="182.20" stroke="#a6a6a6" stroke-width="1.25" stroke-linecap="butt"/>
<line x1="708.00" y1="193.40" x2="708.00" y2="204.55" stroke="#a6a6a6" stroke-width="1.25" stroke-linecap="butt"/>
<line x1="705.70" y1="171.05" x2="710.30" y2="171.05" stroke="#a6a6a6" stroke-width="1.625" stroke-linecap="butt"/>
<line x1="705.70" y1="204.55" x2="710.30" y2="204.55" stroke="#a6a6a6" stroke-width="1.625" stroke-linecap="butt"/>
<line x1="712.10" y1="182.89" x2="712.10" y2="195.90" stroke="#a6a6a6" stroke-width="1.25" stroke-linecap="butt"/>
<line x1="712.10" y1="207.10" x2="712.10" y2="220.11" stroke="#a6a6a6" stroke-width="1.25" stroke-linecap="butt"/>
<line x1="709.80" y1="182.89" x2="714.40" y2="182.89" stroke="#a6a6a6" stroke-width="1.625" stroke-linecap="butt"/>
<line x1="709.80" y1="220.11" x2="714.40" y2="220.11" stroke="#a6a6a6" stroke-width="1.625" stroke-linecap="butt"/>
<line x1="716.20" y1="169.35" x2="716.20" y2="179.40" stroke="#a6a6a6" stroke-width="1.25" stroke-linecap="butt"/>
<line x1="716.20" y1="190.60" x2="716.20" y2="200.65" stroke="#a6a6a6" stroke-width="1.25" stroke-linecap="butt"/>
<line x1="713.90" y1="169.35" x2="718.50" y2="169.35" stroke="#a6a6a6" stroke-width="1.625" stroke-linecap="butt"/>
<line x1="713.90" y1="200.65" x2="718.50" y2="200.65" stroke="#a6a6a6" stroke-width="1.625" stroke-linecap="butt"/>
<line x1="720.30" y1="187.53" x2="720.30" y2="197.30" stroke="#a6a6a6" stroke-width="1.25" stroke-linecap="butt"/>
<line x1="720.30" y1="208.50" x2="720.30" y2="218.27" stroke="#a6a6a6" stroke-width="1.25" stroke-linecap="butt"/>
<line x1="718.00" y1="187.53" x2="722.60" y2="187.53" stroke="#a6a6a6" stroke-width="1.625" stroke-linecap="butt"/>
<line x1="718.00" y1="218.27" x2="722.60" y2="218.27" stroke="#a6a6a6" stroke-width="1.625" stroke-linecap="butt"/>
<line x1="724.40" y1="176.75" x2="724.40" y2="183.60" stroke="#a6a6a6" stroke-width="1.25" stroke-linecap="butt"/>
<line x1="724.40" y1="194.80" x2="724.40" y2="201.65" stroke="#a6a6a6" stroke-width="1.25" stroke-linecap="butt"/>
<line x1="722.10" y1="176.75" x2="726.70" y2="176.75" stroke="#a6a6a6" stroke-width="1.625" stroke-linecap="butt"/>
<line x1="722.10" y1="201.65" x2="726.70" y2="201.65" stroke="#a6a6a6" stroke-width="1.625" stroke-linecap="butt"/>
<line x1="728.60" y1="171.17" x2="728.60" y2="184.90" stroke="#a6a6a6" stroke-width="1.25" stroke-linecap="butt"/>
<line x1="728.60" y1="196.10" x2="728.60" y2="209.83" stroke="#a6a6a6" stroke-width="1.25" stroke-linecap="butt"/>
<line x1="726.30" y1="171.17" x2="730.90" y2="171.17" stroke="#a6a6a6" stroke-width="1.625" stroke-linecap="butt"/>
<line x1="726.30" y1="209.83" x2="730.90" y2="209.83" stroke="#a6a6a6" stroke-width="1.625" stroke-linecap="butt"/>
<line x1="732.00" y1="188.54" x2="732.00" y2="195.20" stroke="#a6a6a6" stroke-width="1.25" stroke-linecap="butt"/>
<line x1="732.00" y1="206.40" x2="732.00" y2="213.06" stroke="#a6a6a6" stroke-width="1.25" stroke-linecap="butt"/>
<line x1="729.70" y1="188.54" x2="734.30" y2="188.54" stroke="#a6a6a6" stroke-width="1.625" stroke-linecap="butt"/>
<line x1="729.70" y1="213.06" x2="734.30" y2="213.06" stroke="#a6a6a6" stroke-width="1.625" stroke-linecap="butt"/>
<line x1="736.40" y1="161.95" x2="736.40" y2="172.30" stroke="#a6a6a6" stroke-width="1.25" stroke-linecap="butt"/>
<line x1="736.40" y1="183.50" x2="736.40" y2="193.85" stroke="#a6a6a6" stroke-width="1.25" stroke-linecap="butt"/>
<line x1="734.10" y1="161.95" x2="738.70" y2="161.95" stroke="#a6a6a6" stroke-width="1.625" stroke-linecap="butt"/>
<line x1="734.10" y1="193.85" x2="738.70" y2="193.85" stroke="#a6a6a6" stroke-width="1.625" stroke-linecap="butt"/>
<line x1="740.20" y1="179.39" x2="740.20" y2="192.50" stroke="#a6a6a6" stroke-width="1.25" stroke-linecap="butt"/>
<line x1="740.20" y1="203.70" x2="740.20" y2="216.81" stroke="#a6a6a6" stroke-width="1.25" stroke-linecap="butt"/>
<line x1="737.90" y1="179.39" x2="742.50" y2="179.39" stroke="#a6a6a6" stroke-width="1.625" stroke-linecap="butt"/>
<line x1="737.90" y1="216.81" x2="742.50" y2="216.81" stroke="#a6a6a6" stroke-width="1.625" stroke-linecap="butt"/>
<line x1="744.10" y1="175.46" x2="744.10" y2="182.90" stroke="#a6a6a6" stroke-width="1.25" stroke-linecap="butt"/>
<line x1="744.10" y1="194.10" x2="744.10" y2="201.54" stroke="#a6a6a6" stroke-width="1.25" stroke-linecap="butt"/>
<line x1="741.80" y1="175.46" x2="746.40" y2="175.46" stroke="#a6a6a6" stroke-width="1.625" stroke-linecap="butt"/>
<line x1="741.80" y1="201.54" x2="746.40" y2="201.54" stroke="#a6a6a6" stroke-width="1.625" stroke-linecap="butt"/>
<line x1="748.20" y1="167.15" x2="748.20" y2="179.40" stroke="#a6a6a6" stroke-width="1.25" stroke-linecap="butt"/>
<line x1="748.20" y1="190.60" x2="748.20" y2="202.85" stroke="#a6a6a6" stroke-width="1.25" stroke-linecap="butt"/>
<line x1="745.90" y1="167.15" x2="750.50" y2="167.15" stroke="#a6a6a6" stroke-width="1.625" stroke-linecap="butt"/>
<line x1="745.90" y1="202.85" x2="750.50" y2="202.85" stroke="#a6a6a6" stroke-width="1.625" stroke-linecap="butt"/>
<line x1="752.40" y1="161.30" x2="752.40" y2="175.30" stroke="#a6a6a6" stroke-width="1.25" stroke-linecap="butt"/>
<line x1="752.40" y1="186.50" x2="752.40" y2="200.50" stroke="#a6a6a6" stroke-width="1.25" stroke-linecap="butt"/>
<line x1="750.10" y1="161.30" x2="754.70" y2="161.30" stroke="#a6a6a6" stroke-width="1.625" stroke-linecap="butt"/>
<line x1="750.10" y1="200.50" x2="754.70" y2="200.50" stroke="#a6a6a6" stroke-width="1.625" stroke-linecap="butt"/>
<line x1="755.80" y1="175.56" x2="755.80" y2="187.00" stroke="#a6a6a6" stroke-width="1.25" stroke-linecap="butt"/>
<line x1="755.80" y1="198.20" x2="755.80" y2="209.64" stroke="#a6a6a6" stroke-width="1.25" stroke-linecap="butt"/>
<line x1="753.50" y1="175.56" x2="758.10" y2="175.56" stroke="#a6a6a6" stroke-width="1.625" stroke-linecap="butt"/>
<line x1="753.50" y1="209.64" x2="758.10" y2="209.64" stroke="#a6a6a6" stroke-width="1.625" stroke-linecap="butt"/>
<line x1="759.90" y1="175.70" x2="759.90" y2="188.40" stroke="#a6a6a6" stroke-width="1.25" stroke-linecap="butt"/>
<line x1="759.90" y1="199.60" x2="759.90" y2="212.30" stroke="#a6a6a6" stroke-width="1.25" stroke-linecap="butt"/>
<line x1="757.60" y1="175.70" x2="762.20" y2="175.70" stroke="#a6a6a6" stroke-width="1.625" stroke-linecap="butt"/>
<line x1="757.60" y1="212.30" x2="762.20" y2="212.30" stroke="#a6a6a6" stroke-width="1.625" stroke-linecap="butt"/>
<line x1="764.00" y1="177.65" x2="764.00" y2="184.90" stroke="#a6a6a6" stroke-width="1.25" stroke-linecap="butt"/>
<line x1="764.00" y1="196.10" x2="764.00" y2="203.35" stroke="#a6a6a6" stroke-width="1.25" stroke-linecap="butt"/>
<line x1="761.70" y1="177.65" x2="766.30" y2="177.65" stroke="#a6a6a6" stroke-width="1.625" stroke-linecap="butt"/>
<line x1="761.70" y1="203.35" x2="766.30" y2="203.35" stroke="#a6a6a6" stroke-width="1.625" stroke-linecap="butt"/>
<line x1="767.50" y1="165.42" x2="767.50" y2="175.30" stroke="#a6a6a6" stroke-width="1.25" stroke-linecap="butt"/>
<line x1="767.50" y1="186.50" x2="767.50" y2="196.38" stroke="#a6a6a6" stroke-width="1.25" stroke-linecap="butt"/>
<line x1="765.20" y1="165.42" x2="769.80" y2="165.42" stroke="#a6a6a6" stroke-width="1.625" stroke-linecap="butt"/>
<line x1="765.20" y1="196.38" x2="769.80" y2="196.38" stroke="#a6a6a6" stroke-width="1.625" stroke-linecap="butt"/>
<line x1="771.60" y1="180.81" x2="771.60" y2="188.40" stroke="#a6a6a6" stroke-width="1.25" stroke-linecap="butt"/>
<line x1="771.60" y1="199.60" x2="771.60" y2="207.19" stroke="#a6a6a6" stroke-width="1.25" stroke-linecap="butt"/>
<line x1="769.30" y1="180.81" x2="773.90" y2="180.81" stroke="#a6a6a6" stroke-width="1.625" stroke-linecap="butt"/>
<line x1="769.30" y1="207.19" x2="773.90" y2="207.19" stroke="#a6a6a6" stroke-width="1.625" stroke-linecap="butt"/>
<line x1="775.70" y1="162.84" x2="775.70" y2="176.00" stroke="#a6a6a6" stroke-width="1.25" stroke-linecap="butt"/>
<line x1="775.70" y1="187.20" x2="775.70" y2="200.36" stroke="#a6a6a6" stroke-width="1.25" stroke-linecap="butt"/>
<line x1="773.40" y1="162.84" x2="778.00" y2="162.84" stroke="#a6a6a6" stroke-width="1.625" stroke-linecap="butt"/>
<line x1="773.40" y1="200.36" x2="778.00" y2="200.36" stroke="#a6a6a6" stroke-width="1.625" stroke-linecap="butt"/>
<line x1="779.90" y1="164.54" x2="779.90" y2="173.30" stroke="#a6a6a6" stroke-width="1.25" stroke-linecap="butt"/>
<line x1="779.90" y1="184.50" x2="779.90" y2="193.26" stroke="#a6a6a6" stroke-width="1.25" stroke-linecap="butt"/>
<line x1="777.60" y1="164.54" x2="782.20" y2="164.54" stroke="#a6a6a6" stroke-width="1.625" stroke-linecap="butt"/>
<line x1="777.60" y1="193.26" x2="782.20" y2="193.26" stroke="#a6a6a6" stroke-width="1.625" stroke-linecap="butt"/>
<line x1="784.00" y1="168.77" x2="784.00" y2="178.80" stroke="#a6a6a6" stroke-width="1.25" stroke-linecap="butt"/>
<line x1="784.00" y1="190.00" x2="784.00" y2="200.03" stroke="#a6a6a6" stroke-width="1.25" stroke-linecap="butt"/>
<line x1="781.70" y1="168.77" x2="786.30" y2="168.77" stroke="#a6a6a6" stroke-width="1.625" stroke-linecap="butt"/>
<line x1="781.70" y1="200.03" x2="786.30" y2="200.03" stroke="#a6a6a6" stroke-width="1.625" stroke-linecap="butt"/>
<line x1="787.40" y1="172.61" x2="787.40" y2="187.00" stroke="#a6a6a6" stroke-width="1.25" stroke-linecap="butt"/>
<line x1="787.40" y1="198.20" x2="787.40" y2="212.59" stroke="#a6a6a6" stroke-width="1.25" stroke-linecap="butt"/>
<line x1="785.10" y1="172.61" x2="789.70" y2="172.61" stroke="#a6a6a6" stroke-width="1.625" stroke-linecap="butt"/>
<line x1="785.10" y1="212.59" x2="789.70" y2="212.59" stroke="#a6a6a6" stroke-width="1.625" stroke-linecap="butt"/>
<line x1="791.50" y1="168.98" x2="791.50" y2="182.20" stroke="#a6a6a6" stroke-width="1.25" stroke-linecap="butt"/>
<line x1="791.50" y1="193.40" x2="791.50" y2="206.62" stroke="#a6a6a6" stroke-width="1.25" stroke-linecap="butt"/>
<line x1="789.20" y1="168.98" x2="793.80" y2="168.98" stroke="#a6a6a6" stroke-width="1.625" stroke-linecap="butt"/>
<line x1="789.20" y1="206.62" x2="793.80" y2="206.62" stroke="#a6a6a6" stroke-width="1.625" stroke-linecap="butt"/>
<line x1="795.70" y1="170.69" x2="795.70" y2="184.90" stroke="#a6a6a6" stroke-width="1.25" stroke-linecap="butt"/>
<line x1="795.70" y1="196.10" x2="795.70" y2="210.31" stroke="#a6a6a6" stroke-width="1.25" stroke-linecap="butt"/>
<line x1="793.40" y1="170.69" x2="798.00" y2="170.69" stroke="#a6a6a6" stroke-width="1.625" stroke-linecap="butt"/>
<line x1="793.40" y1="210.31" x2="798.00" y2="210.31" stroke="#a6a6a6" stroke-width="1.625" stroke-linecap="butt"/>
<line x1="799.80" y1="187.97" x2="799.80" y2="198.00" stroke="#a6a6a6" stroke-width="1.25" stroke-linecap="butt"/>
<line x1="799.80" y1="209.20" x2="799.80" y2="219.23" stroke="#a6a6a6" stroke-width="1.25" stroke-linecap="butt"/>
<line x1="797.50" y1="187.97" x2="802.10" y2="187.97" stroke="#a6a6a6" stroke-width="1.625" stroke-linecap="butt"/>
<line x1="797.50" y1="219.23" x2="802.10" y2="219.23" stroke="#a6a6a6" stroke-width="1.625" stroke-linecap="butt"/>
<line x1="803.90" y1="178.09" x2="803.90" y2="188.40" stroke="#a6a6a6" stroke-width="1.25" stroke-linecap="butt"/>
<line x1="803.90" y1="199.60" x2="803.90" y2="209.91" stroke="#a6a6a6" stroke-width="1.25" stroke-linecap="butt"/>
<line x1="801.60" y1="178.09" x2="806.20" y2="178.09" stroke="#a6a6a6" stroke-width="1.625" stroke-linecap="butt"/>
<line x1="801.60" y1="209.91" x2="806.20" y2="209.91" stroke="#a6a6a6" stroke-width="1.625" stroke-linecap="butt"/>
<line x1="808.00" y1="180.26" x2="808.00" y2="192.50" stroke="#a6a6a6" stroke-width="1.25" stroke-linecap="butt"/>
<line x1="808.00" y1="203.70" x2="808.00" y2="215.94" stroke="#a6a6a6" stroke-width="1.25" stroke-linecap="butt"/>
<line x1="805.70" y1="180.26" x2="810.30" y2="180.26" stroke="#a6a6a6" stroke-width="1.625" stroke-linecap="butt"/>
<line x1="805.70" y1="215.94" x2="810.30" y2="215.94" stroke="#a6a6a6" stroke-width="1.625" stroke-linecap="butt"/>
<line x1="811.50" y1="178.87" x2="811.50" y2="189.10" stroke="#a6a6a6" stroke-width="1.25" stroke-linecap="butt"/>
<line x1="811.50" y1="200.30" x2="811.50" y2="210.53" stroke="#a6a6a6" stroke-width="1.25" stroke-linecap="butt"/>
<line x1="809.20" y1="178.87" x2="813.80" y2="178.87" stroke="#a6a6a6" stroke-width="1.625" stroke-linecap="butt"/>
<line x1="809.20" y1="210.53" x2="813.80" y2="210.53" stroke="#a6a6a6" stroke-width="1.625" stroke-linecap="butt"/>
<line x1="815.60" y1="186.47" x2="815.60" y2="195.20" stroke="#a6a6a6" stroke-width="1.25" stroke-linecap="butt"/>
<line x1="815.60" y1="206.40" x2="815.60" y2="215.13" stroke="#a6a6a6" stroke-width="1.25" stroke-linecap="butt"/>
<line x1="813.30" y1="186.47" x2="817.90" y2="186.47" stroke="#a6a6a6" stroke-width="1.625" stroke-linecap="butt"/>
<line x1="813.30" y1="215.13" x2="817.90" y2="215.13" stroke="#a6a6a6" stroke-width="1.625" stroke-linecap="butt"/>
<line x1="819.70" y1="182.87" x2="819.70" y2="192.50" stroke="#a6a6a6" stroke-width="1.25" stroke-linecap="butt"/>
<line x1="819.70" y1="203.70" x2="819.70" y2="213.33" stroke="#a6a6a6" stroke-width="1.25" stroke-linecap="butt"/>
<line x1="817.40" y1="182.87" x2="822.00" y2="182.87" stroke="#a6a6a6" stroke-width="1.625" stroke-linecap="butt"/>
<line x1="817.40" y1="213.33" x2="822.00" y2="213.33" stroke="#a6a6a6" stroke-width="1.625" stroke-linecap="butt"/>
<line x1="823.10" y1="171.83" x2="823.10" y2="179.40" stroke="#a6a6a6" stroke-width="1.25" stroke-linecap="butt"/>
<line x1="823.10" y1="190.60" x2="823.10" y2="198.17" stroke="#a6a6a6" stroke-width="1.25" stroke-linecap="butt"/>
<line x1="820.80" y1="171.83" x2="825.40" y2="171.83" stroke="#a6a6a6" stroke-width="1.625" stroke-linecap="butt"/>
<line x1="820.80" y1="198.17" x2="825.40" y2="198.17" stroke="#a6a6a6" stroke-width="1.625" stroke-linecap="butt"/>
<line x1="827.30" y1="177.58" x2="827.30" y2="187.00" stroke="#a6a6a6" stroke-width="1.25" stroke-linecap="butt"/>
<line x1="827.30" y1="198.20" x2="827.30" y2="207.62" stroke="#a6a6a6" stroke-width="1.25" stroke-linecap="butt"/>
<line x1="825.00" y1="177.58" x2="829.60" y2="177.58" stroke="#a6a6a6" stroke-width="1.625" stroke-linecap="butt"/>
<line x1="825.00" y1="207.62" x2="829.60" y2="207.62" stroke="#a6a6a6" stroke-width="1.625" stroke-linecap="butt"/>
<line x1="831.40" y1="171.29" x2="831.40" y2="185.60" stroke="#a6a6a6" stroke-width="1.25" stroke-linecap="butt"/>
<line x1="831.40" y1="196.80" x2="831.40" y2="211.11" stroke="#a6a6a6" stroke-width="1.25" stroke-linecap="butt"/>
<line x1="829.10" y1="171.29" x2="833.70" y2="171.29" stroke="#a6a6a6" stroke-width="1.625" stroke-linecap="butt"/>
<line x1="829.10" y1="211.11" x2="833.70" y2="211.11" stroke="#a6a6a6" stroke-width="1.625" stroke-linecap="butt"/>
<line x1="834.80" y1="185.32" x2="834.80" y2="199.40" stroke="#a6a6a6" stroke-width="1.25" stroke-linecap="butt"/>
<line x1="834.80" y1="210.60" x2="834.80" y2="224.68" stroke="#a6a6a6" stroke-width="1.25" stroke-linecap="butt"/>
<line x1="832.50" y1="185.32" x2="837.10" y2="185.32" stroke="#a6a6a6" stroke-width="1.625" stroke-linecap="butt"/>
<line x1="832.50" y1="224.68" x2="837.10" y2="224.68" stroke="#a6a6a6" stroke-width="1.625" stroke-linecap="butt"/>
<line x1="838.90" y1="179.68" x2="838.90" y2="191.10" stroke="#a6a6a6" stroke-width="1.25" stroke-linecap="butt"/>
<line x1="838.90" y1="202.30" x2="838.90" y2="213.72" stroke="#a6a6a6" stroke-width="1.25" stroke-linecap="butt"/>
<line x1="836.60" y1="179.68" x2="841.20" y2="179.68" stroke="#a6a6a6" stroke-width="1.625" stroke-linecap="butt"/>
<line x1="836.60" y1="213.72" x2="841.20" y2="213.72" stroke="#a6a6a6" stroke-width="1.625" stroke-linecap="butt"/>
<line x1="843.10" y1="189.01" x2="843.10" y2="199.40" stroke="#a6a6a6" stroke-width="1.25" stroke-linecap="butt"/>
<line x1="843.10" y1="210.60" x2="843.10" y2="220.99" stroke="#a6a6a6" stroke-width="1.25" stroke-linecap="butt"/>
<line x1="840.80" y1="189.01" x2="845.40" y2="189.01" stroke="#a6a6a6" stroke-width="1.625" stroke-linecap="butt"/>
<line x1="840.80" y1="220.99" x2="845.40" y2="220.99" stroke="#a6a6a6" stroke-width="1.625" stroke-linecap="butt"/>
<line x1="846.50" y1="179.29" x2="846.50" y2="188.40" stroke="#a6a6a6" stroke-width="1.25" stroke-linecap="butt"/>
<line x1="846.50" y1="199.60" x2="846.50" y2="208.71" stroke="#a6a6a6" stroke-width="1.25" stroke-linecap="butt"/>
<line x1="844.20" y1="179.29" x2="848.80" y2="179.29" stroke="#a6a6a6" stroke-width="1.625" stroke-linecap="butt"/>
<line x1="844.20" y1="208.71" x2="848.80" y2="208.71" stroke="#a6a6a6" stroke-width="1.625" stroke-linecap="butt"/>
<line x1="850.60" y1="202.59" x2="850.60" y2="209.70" stroke="#a6a6a6" stroke-width="1.25" stroke-linecap="butt"/>
<line x1="850.60" y1="220.90" x2="850.60" y2="228.01" stroke="#a6a6a6" stroke-width="1.25" stroke-linecap="butt"/>
<line x1="848.30" y1="202.59" x2="852.90" y2="202.59" stroke="#a6a6a6" stroke-width="1.625" stroke-linecap="butt"/>
<line x1="848.30" y1="228.01" x2="852.90" y2="228.01" stroke="#a6a6a6" stroke-width="1.625" stroke-linecap="butt"/>
<line x1="854.70" y1="181.12" x2="854.70" y2="189.70" stroke="#a6a6a6" stroke-width="1.25" stroke-linecap="butt"/>
<line x1="854.70" y1="200.90" x2="854.70" y2="209.48" stroke="#a6a6a6" stroke-width="1.25" stroke-linecap="butt"/>
<line x1="852.40" y1="181.12" x2="857.00" y2="181.12" stroke="#a6a6a6" stroke-width="1.625" stroke-linecap="butt"/>
<line x1="852.40" y1="209.48" x2="857.00" y2="209.48" stroke="#a6a6a6" stroke-width="1.625" stroke-linecap="butt"/>
<line x1="858.90" y1="189.44" x2="858.90" y2="202.10" stroke="#a6a6a6" stroke-width="1.25" stroke-linecap="butt"/>
<line x1="858.90" y1="213.30" x2="858.90" y2="225.96" stroke="#a6a6a6" stroke-width="1.25" stroke-linecap="butt"/>
<line x1="856.60" y1="189.44" x2="861.20" y2="189.44" stroke="#a6a6a6" stroke-width="1.625" stroke-linecap="butt"/>
<line x1="856.60" y1="225.96" x2="861.20" y2="225.96" stroke="#a6a6a6" stroke-width="1.625" stroke-linecap="butt"/>
<line x1="863.00" y1="176.36" x2="863.00" y2="189.70" stroke="#a6a6a6" stroke-width="1.25" stroke-linecap="butt"/>
<line x1="863.00" y1="200.90" x2="863.00" y2="214.24" stroke="#a6a6a6" stroke-width="1.25" stroke-linecap="butt"/>
<line x1="860.70" y1="176.36" x2="865.30" y2="176.36" stroke="#a6a6a6" stroke-width="1.625" stroke-linecap="butt"/>
<line x1="860.70" y1="214.24" x2="865.30" y2="214.24" stroke="#a6a6a6" stroke-width="1.625" stroke-linecap="butt"/>
<circle cx="567.50" cy="251.90" r="4.6" fill="#1c1c1c"/>
<circle cx="570.90" cy="267.80" r="4.6" fill="#1c1c1c"/>
<circle cx="574.60" cy="261.20" r="4.6" fill="#1c1c1c"/>
<circle cx="578.50" cy="252.50" r="4.6" fill="#1c1c1c"/>
<circle cx="582.00" cy="261.20" r="4.6" fill="#1c1c1c"/>
<circle cx="589.40" cy="259.70" r="4.6" fill="#1c1c1c"/>
<circle cx="595.30" cy="265.60" r="4.6" fill="#1c1c1c"/>
<circle cx="570.10" cy="264.90" r="4.15" fill="#8a8a8a" stroke="#6e6e6e" stroke-width="0.9"/>
<circle cx="573.80" cy="254.50" r="4.15" fill="#8a8a8a" stroke="#6e6e6e" stroke-width="0.9"/>
<circle cx="581.60" cy="247.50" r="4.15" fill="#8a8a8a" stroke="#6e6e6e" stroke-width="0.9"/>
<circle cx="586.40" cy="254.90" r="4.15" fill="#8a8a8a" stroke="#6e6e6e" stroke-width="0.9"/>
<circle cx="590.90" cy="265.60" r="4.15" fill="#8a8a8a" stroke="#6e6e6e" stroke-width="0.9"/>
<circle cx="597.50" cy="247.10" r="4.15" fill="#8a8a8a" stroke="#6e6e6e" stroke-width="0.9"/>
<circle cx="601.20" cy="257.50" r="4.15" fill="#8a8a8a" stroke="#6e6e6e" stroke-width="0.9"/>
<circle cx="605.70" cy="263.40" r="4.15" fill="#8a8a8a" stroke="#6e6e6e" stroke-width="0.9"/>
<circle cx="610.10" cy="255.20" r="4.15" fill="#8a8a8a" stroke="#6e6e6e" stroke-width="0.9"/>
<circle cx="615.30" cy="255.60" r="4.15" fill="#8a8a8a" stroke="#6e6e6e" stroke-width="0.9"/>
<circle cx="621.20" cy="252.60" r="4.15" fill="#8a8a8a" stroke="#6e6e6e" stroke-width="0.9"/>
<line x1="565.60" y1="259.30" x2="877.90" y2="259.30" stroke="#5e5e5e" stroke-width="2.5" stroke-linecap="butt"/>
<circle cx="596.80" cy="256.00" r="4.6" fill="#1c1c1c"/>
<circle cx="601.00" cy="252.50" r="4.6" fill="#1c1c1c"/>
<circle cx="605.70" cy="249.70" r="4.6" fill="#1c1c1c"/>
<circle cx="613.00" cy="271.50" r="4.6" fill="#1c1c1c"/>
<circle cx="618.20" cy="268.60" r="4.6" fill="#1c1c1c"/>
<circle cx="622.70" cy="259.70" r="4.6" fill="#1c1c1c"/>
<circle cx="628.90" cy="236.60" r="4.15" fill="#8a8a8a" stroke="#6e6e6e" stroke-width="0.9"/>
<circle cx="633.10" cy="244.80" r="4.15" fill="#8a8a8a" stroke="#6e6e6e" stroke-width="0.9"/>
<circle cx="637.20" cy="232.50" r="4.15" fill="#8a8a8a" stroke="#6e6e6e" stroke-width="0.9"/>
<circle cx="641.30" cy="214.60" r="4.15" fill="#8a8a8a" stroke="#6e6e6e" stroke-width="0.9"/>
<circle cx="645.40" cy="229.00" r="4.15" fill="#8a8a8a" stroke="#6e6e6e" stroke-width="0.9"/>
<circle cx="649.50" cy="223.50" r="4.15" fill="#8a8a8a" stroke="#6e6e6e" stroke-width="0.9"/>
<circle cx="653.00" cy="205.00" r="4.15" fill="#8a8a8a" stroke="#6e6e6e" stroke-width="0.9"/>
<circle cx="656.40" cy="218.00" r="4.15" fill="#8a8a8a" stroke="#6e6e6e" stroke-width="0.9"/>
<circle cx="661.20" cy="214.60" r="4.15" fill="#8a8a8a" stroke="#6e6e6e" stroke-width="0.9"/>
<circle cx="664.70" cy="229.00" r="4.15" fill="#8a8a8a" stroke="#6e6e6e" stroke-width="0.9"/>
<circle cx="668.80" cy="240.00" r="4.15" fill="#8a8a8a" stroke="#6e6e6e" stroke-width="0.9"/>
<circle cx="672.90" cy="229.70" r="4.15" fill="#8a8a8a" stroke="#6e6e6e" stroke-width="0.9"/>
<circle cx="677.00" cy="224.20" r="4.15" fill="#8a8a8a" stroke="#6e6e6e" stroke-width="0.9"/>
<circle cx="681.20" cy="227.00" r="4.15" fill="#8a8a8a" stroke="#6e6e6e" stroke-width="0.9"/>
<circle cx="684.60" cy="224.90" r="4.15" fill="#8a8a8a" stroke="#6e6e6e" stroke-width="0.9"/>
<circle cx="688.70" cy="216.60" r="4.15" fill="#8a8a8a" stroke="#6e6e6e" stroke-width="0.9"/>
<circle cx="692.80" cy="215.30" r="4.15" fill="#8a8a8a" stroke="#6e6e6e" stroke-width="0.9"/>
<circle cx="697.00" cy="217.30" r="4.15" fill="#8a8a8a" stroke="#6e6e6e" stroke-width="0.9"/>
<circle cx="699.70" cy="231.10" r="4.15" fill="#8a8a8a" stroke="#6e6e6e" stroke-width="0.9"/>
<circle cx="703.80" cy="231.80" r="4.15" fill="#8a8a8a" stroke="#6e6e6e" stroke-width="0.9"/>
<circle cx="708.00" cy="220.80" r="4.15" fill="#8a8a8a" stroke="#6e6e6e" stroke-width="0.9"/>
<circle cx="712.10" cy="222.10" r="4.15" fill="#8a8a8a" stroke="#6e6e6e" stroke-width="0.9"/>
<circle cx="716.20" cy="232.20" r="4.15" fill="#8a8a8a" stroke="#6e6e6e" stroke-width="0.9"/>
<circle cx="720.30" cy="214.60" r="4.15" fill="#8a8a8a" stroke="#6e6e6e" stroke-width="0.9"/>
<circle cx="724.40" cy="225.60" r="4.15" fill="#8a8a8a" stroke="#6e6e6e" stroke-width="0.9"/>
<circle cx="728.60" cy="233.10" r="4.15" fill="#8a8a8a" stroke="#6e6e6e" stroke-width="0.9"/>
<circle cx="732.70" cy="229.00" r="4.15" fill="#8a8a8a" stroke="#6e6e6e" stroke-width="0.9"/>
<circle cx="736.80" cy="231.10" r="4.15" fill="#8a8a8a" stroke="#6e6e6e" stroke-width="0.9"/>
<circle cx="740.90" cy="234.50" r="4.15" fill="#8a8a8a" stroke="#6e6e6e" stroke-width="0.9"/>
<circle cx="745.10" cy="235.90" r="4.15" fill="#8a8a8a" stroke="#6e6e6e" stroke-width="0.9"/>
<circle cx="749.20" cy="233.10" r="4.15" fill="#8a8a8a" stroke="#6e6e6e" stroke-width="0.9"/>
<circle cx="751.70" cy="229.00" r="4.15" fill="#8a8a8a" stroke="#6e6e6e" stroke-width="0.9"/>
<circle cx="755.80" cy="233.80" r="4.15" fill="#8a8a8a" stroke="#6e6e6e" stroke-width="0.9"/>
<circle cx="759.90" cy="240.00" r="4.15" fill="#8a8a8a" stroke="#6e6e6e" stroke-width="0.9"/>
<circle cx="763.40" cy="228.30" r="4.15" fill="#8a8a8a" stroke="#6e6e6e" stroke-width="0.9"/>
<circle cx="768.20" cy="233.80" r="4.15" fill="#8a8a8a" stroke="#6e6e6e" stroke-width="0.9"/>
<circle cx="772.30" cy="225.60" r="4.15" fill="#8a8a8a" stroke="#6e6e6e" stroke-width="0.9"/>
<circle cx="775.70" cy="232.50" r="4.15" fill="#8a8a8a" stroke="#6e6e6e" stroke-width="0.9"/>
<circle cx="779.90" cy="233.80" r="4.15" fill="#8a8a8a" stroke="#6e6e6e" stroke-width="0.9"/>
<circle cx="784.00" cy="231.80" r="4.15" fill="#8a8a8a" stroke="#6e6e6e" stroke-width="0.9"/>
<circle cx="787.40" cy="232.50" r="4.15" fill="#8a8a8a" stroke="#6e6e6e" stroke-width="0.9"/>
<circle cx="791.50" cy="229.00" r="4.15" fill="#8a8a8a" stroke="#6e6e6e" stroke-width="0.9"/>
<circle cx="795.70" cy="227.00" r="4.15" fill="#8a8a8a" stroke="#6e6e6e" stroke-width="0.9"/>
<circle cx="799.80" cy="229.70" r="4.15" fill="#8a8a8a" stroke="#6e6e6e" stroke-width="0.9"/>
<circle cx="803.20" cy="240.00" r="4.15" fill="#8a8a8a" stroke="#6e6e6e" stroke-width="0.9"/>
<circle cx="807.30" cy="224.20" r="4.15" fill="#8a8a8a" stroke="#6e6e6e" stroke-width="0.9"/>
<circle cx="811.50" cy="228.30" r="4.15" fill="#8a8a8a" stroke="#6e6e6e" stroke-width="0.9"/>
<circle cx="814.90" cy="240.70" r="4.15" fill="#8a8a8a" stroke="#6e6e6e" stroke-width="0.9"/>
<circle cx="819.00" cy="235.90" r="4.15" fill="#8a8a8a" stroke="#6e6e6e" stroke-width="0.9"/>
<circle cx="823.10" cy="235.20" r="4.15" fill="#8a8a8a" stroke="#6e6e6e" stroke-width="0.9"/>
<circle cx="827.30" cy="240.00" r="4.15" fill="#8a8a8a" stroke="#6e6e6e" stroke-width="0.9"/>
<circle cx="830.70" cy="238.00" r="4.15" fill="#8a8a8a" stroke="#6e6e6e" stroke-width="0.9"/>
<circle cx="834.80" cy="232.50" r="4.15" fill="#8a8a8a" stroke="#6e6e6e" stroke-width="0.9"/>
<circle cx="838.90" cy="240.70" r="4.15" fill="#8a8a8a" stroke="#6e6e6e" stroke-width="0.9"/>
<circle cx="842.40" cy="229.00" r="4.15" fill="#8a8a8a" stroke="#6e6e6e" stroke-width="0.9"/>
<circle cx="847.20" cy="224.90" r="4.15" fill="#8a8a8a" stroke="#6e6e6e" stroke-width="0.9"/>
<circle cx="850.60" cy="242.80" r="4.15" fill="#8a8a8a" stroke="#6e6e6e" stroke-width="0.9"/>
<circle cx="854.70" cy="240.00" r="4.15" fill="#8a8a8a" stroke="#6e6e6e" stroke-width="0.9"/>
<circle cx="858.90" cy="238.60" r="4.15" fill="#8a8a8a" stroke="#6e6e6e" stroke-width="0.9"/>
<circle cx="863.00" cy="238.00" r="4.15" fill="#8a8a8a" stroke="#6e6e6e" stroke-width="0.9"/>
<circle cx="628.90" cy="191.20" r="4.6" fill="#1c1c1c"/>
<circle cx="633.10" cy="196.70" r="4.6" fill="#1c1c1c"/>
<circle cx="637.20" cy="193.30" r="4.6" fill="#1c1c1c"/>
<circle cx="641.30" cy="191.20" r="4.6" fill="#1c1c1c"/>
<circle cx="645.40" cy="187.10" r="4.6" fill="#1c1c1c"/>
<circle cx="649.50" cy="178.90" r="4.6" fill="#1c1c1c"/>
<circle cx="653.00" cy="191.90" r="4.6" fill="#1c1c1c"/>
<circle cx="656.40" cy="185.00" r="4.6" fill="#1c1c1c"/>
<circle cx="661.20" cy="183.00" r="4.6" fill="#1c1c1c"/>
<circle cx="665.30" cy="192.60" r="4.6" fill="#1c1c1c"/>
<circle cx="669.50" cy="186.00" r="4.6" fill="#1c1c1c"/>
<circle cx="672.90" cy="168.60" r="4.6" fill="#1c1c1c"/>
<circle cx="677.00" cy="169.90" r="4.6" fill="#1c1c1c"/>
<circle cx="680.50" cy="178.20" r="4.6" fill="#1c1c1c"/>
<circle cx="684.60" cy="183.70" r="4.6" fill="#1c1c1c"/>
<circle cx="688.70" cy="169.20" r="4.6" fill="#1c1c1c"/>
<circle cx="692.10" cy="176.10" r="4.6" fill="#1c1c1c"/>
<circle cx="696.30" cy="186.40" r="4.6" fill="#1c1c1c"/>
<circle cx="700.40" cy="178.90" r="4.6" fill="#1c1c1c"/>
<circle cx="704.50" cy="193.30" r="4.6" fill="#1c1c1c"/>
<circle cx="708.00" cy="187.80" r="4.6" fill="#1c1c1c"/>
<circle cx="712.10" cy="201.50" r="4.6" fill="#1c1c1c"/>
<circle cx="716.20" cy="185.00" r="4.6" fill="#1c1c1c"/>
<circle cx="720.30" cy="202.90" r="4.6" fill="#1c1c1c"/>
<circle cx="724.40" cy="189.20" r="4.6" fill="#1c1c1c"/>
<circle cx="728.60" cy="190.50" r="4.6" fill="#1c1c1c"/>
<circle cx="732.00" cy="200.80" r="4.6" fill="#1c1c1c"/>
<circle cx="736.40" cy="177.90" r="4.6" fill="#1c1c1c"/>
<circle cx="740.20" cy="198.10" r="4.6" fill="#1c1c1c"/>
<circle cx="744.10" cy="188.50" r="4.6" fill="#1c1c1c"/>
<circle cx="748.20" cy="185.00" r="4.6" fill="#1c1c1c"/>
<circle cx="752.40" cy="180.90" r="4.6" fill="#1c1c1c"/>
<circle cx="755.80" cy="192.60" r="4.6" fill="#1c1c1c"/>
<circle cx="759.90" cy="194.00" r="4.6" fill="#1c1c1c"/>
<circle cx="764.00" cy="190.50" r="4.6" fill="#1c1c1c"/>
<circle cx="767.50" cy="180.90" r="4.6" fill="#1c1c1c"/>
<circle cx="771.60" cy="194.00" r="4.6" fill="#1c1c1c"/>
<circle cx="775.70" cy="181.60" r="4.6" fill="#1c1c1c"/>
<circle cx="779.90" cy="178.90" r="4.6" fill="#1c1c1c"/>
<circle cx="784.00" cy="184.40" r="4.6" fill="#1c1c1c"/>
<circle cx="787.40" cy="192.60" r="4.6" fill="#1c1c1c"/>
<circle cx="791.50" cy="187.80" r="4.6" fill="#1c1c1c"/>
<circle cx="795.70" cy="190.50" r="4.6" fill="#1c1c1c"/>
<circle cx="799.80" cy="203.60" r="4.6" fill="#1c1c1c"/>
<circle cx="803.90" cy="194.00" r="4.6" fill="#1c1c1c"/>
<circle cx="808.00" cy="198.10" r="4.6" fill="#1c1c1c"/>
<circle cx="811.50" cy="194.70" r="4.6" fill="#1c1c1c"/>
<circle cx="815.60" cy="200.80" r="4.6" fill="#1c1c1c"/>
<circle cx="819.70" cy="198.10" r="4.6" fill="#1c1c1c"/>
<circle cx="823.10" cy="185.00" r="4.6" fill="#1c1c1c"/>
<circle cx="827.30" cy="192.60" r="4.6" fill="#1c1c1c"/>
<circle cx="831.40" cy="191.20" r="4.6" fill="#1c1c1c"/>
<circle cx="834.80" cy="205.00" r="4.6" fill="#1c1c1c"/>
<circle cx="838.90" cy="196.70" r="4.6" fill="#1c1c1c"/>
<circle cx="843.10" cy="205.00" r="4.6" fill="#1c1c1c"/>
<circle cx="846.50" cy="194.00" r="4.6" fill="#1c1c1c"/>
<circle cx="850.60" cy="215.30" r="4.6" fill="#1c1c1c"/>
<circle cx="854.70" cy="195.30" r="4.6" fill="#1c1c1c"/>
<circle cx="858.90" cy="207.70" r="4.6" fill="#1c1c1c"/>
<circle cx="863.00" cy="195.30" r="4.6" fill="#1c1c1c"/>
<path d="M887.3,195 L892.6,195 L892.6,245.3 L887.3,245.3" fill="none" stroke="#555" stroke-width="1.8"/>
<line x1="906.5" y1="219.2" x2="906.50" y2="214.90" stroke="#111" stroke-width="1.7" stroke-linecap="round"/><line x1="906.5" y1="219.2" x2="910.59" y2="217.87" stroke="#111" stroke-width="1.7" stroke-linecap="round"/><line x1="906.5" y1="219.2" x2="909.03" y2="222.68" stroke="#111" stroke-width="1.7" stroke-linecap="round"/><line x1="906.5" y1="219.2" x2="903.97" y2="222.68" stroke="#111" stroke-width="1.7" stroke-linecap="round"/><line x1="906.5" y1="219.2" x2="902.41" y2="217.87" stroke="#111" stroke-width="1.7" stroke-linecap="round"/>
<line x1="567.10" y1="544.30" x2="567.10" y2="792.50" stroke="#1a1a1a" stroke-width="2.4" stroke-linecap="butt"/>
<line x1="561.90" y1="792.10" x2="567.10" y2="792.10" stroke="#1a1a1a" stroke-width="2.4" stroke-linecap="butt"/>
<text x="556.00" y="800.20" font-size="27.4" text-anchor="end" fill="#111">50</text>
<line x1="563.90" y1="756.65" x2="567.10" y2="756.65" stroke="#1a1a1a" stroke-width="2.4" stroke-linecap="butt"/>
<line x1="561.90" y1="721.20" x2="567.10" y2="721.20" stroke="#1a1a1a" stroke-width="2.4" stroke-linecap="butt"/>
<path d="M0.358,0 L0.358,-0.69 L0.29,-0.69 C0.265,-0.615 0.19,-0.568 0.095,-0.566 L0.095,-0.493 C0.17,-0.495 0.235,-0.51 0.27,-0.545 L0.27,0 Z" fill="#111" transform="translate(510.28,729.30) scale(27.4)"/>
<text x="525.52" y="729.30" font-size="27.4" text-anchor="start" fill="#111">00</text>
<line x1="563.90" y1="685.75" x2="567.10" y2="685.75" stroke="#1a1a1a" stroke-width="2.4" stroke-linecap="butt"/>
<line x1="561.90" y1="650.30" x2="567.10" y2="650.30" stroke="#1a1a1a" stroke-width="2.4" stroke-linecap="butt"/>
<path d="M0.358,0 L0.358,-0.69 L0.29,-0.69 C0.265,-0.615 0.19,-0.568 0.095,-0.566 L0.095,-0.493 C0.17,-0.495 0.235,-0.51 0.27,-0.545 L0.27,0 Z" fill="#111" transform="translate(510.28,658.40) scale(27.4)"/>
<text x="525.52" y="658.40" font-size="27.4" text-anchor="start" fill="#111">50</text>
<line x1="563.90" y1="614.85" x2="567.10" y2="614.85" stroke="#1a1a1a" stroke-width="2.4" stroke-linecap="butt"/>
<line x1="561.90" y1="579.40" x2="567.10" y2="579.40" stroke="#1a1a1a" stroke-width="2.4" stroke-linecap="butt"/>
<text x="556.00" y="587.50" font-size="27.4" text-anchor="end" fill="#111">200</text>
<line x1="565.90" y1="791.30" x2="878.00" y2="791.30" stroke="#1a1a1a" stroke-width="2.4" stroke-linecap="butt"/>
<line x1="585.17" y1="791.30" x2="585.17" y2="794.70" stroke="#1a1a1a" stroke-width="2.0" stroke-linecap="butt"/>
<line x1="624.10" y1="791.30" x2="624.10" y2="796.50" stroke="#1a1a1a" stroke-width="2.0" stroke-linecap="butt"/>
<line x1="663.03" y1="791.30" x2="663.03" y2="794.70" stroke="#1a1a1a" stroke-width="2.0" stroke-linecap="butt"/>
<line x1="701.96" y1="791.30" x2="701.96" y2="796.50" stroke="#1a1a1a" stroke-width="2.0" stroke-linecap="butt"/>
<line x1="740.89" y1="791.30" x2="740.89" y2="794.70" stroke="#1a1a1a" stroke-width="2.0" stroke-linecap="butt"/>
<line x1="779.82" y1="791.30" x2="779.82" y2="796.50" stroke="#1a1a1a" stroke-width="2.0" stroke-linecap="butt"/>
<line x1="818.75" y1="791.30" x2="818.75" y2="794.70" stroke="#1a1a1a" stroke-width="2.0" stroke-linecap="butt"/>
<line x1="857.68" y1="791.30" x2="857.68" y2="796.50" stroke="#1a1a1a" stroke-width="2.0" stroke-linecap="butt"/>
<text x="624.10" y="828.90" font-size="27.4" text-anchor="middle" fill="#111">0</text>
<text x="701.96" y="828.90" font-size="27.4" text-anchor="middle" fill="#111">20</text>
<text x="779.82" y="828.90" font-size="27.4" text-anchor="middle" fill="#111">40</text>
<text x="857.68" y="828.90" font-size="27.4" text-anchor="middle" fill="#111">60</text>
<text x="667.40" y="868.60" font-size="27.4" text-anchor="start" fill="#111">Time (min)</text>
<text x="0" y="0" font-size="27.2" fill="#111" transform="translate(487.8,821.9) rotate(-90)">fEPSP slope (% baseline)</text>
<text x="595.00" y="553.00" font-size="27.4" text-anchor="start" fill="#111">TBS</text>
<line x1="622.60" y1="565.70" x2="622.60" y2="573.00" stroke="#1a1a1a" stroke-width="2.0" stroke-linecap="butt"/>
<path d="M616.40,572.00 L628.80,572.00 L622.60,584.50 Z" fill="#111"/>
<path d="M0.358,0 L0.358,-0.69 L0.29,-0.69 C0.265,-0.615 0.19,-0.568 0.095,-0.566 L0.095,-0.493 C0.17,-0.495 0.235,-0.51 0.27,-0.545 L0.27,0 Z" fill="#111" transform="translate(585.38,757.30) scale(27.4)"/>
<text x="738.70" y="746.10" font-size="27.4" text-anchor="middle" fill="#111">2</text>
<text x="674.20" y="533.60" font-size="26.9" text-anchor="start" fill="#111">WT</text>
<path d="M0.358,0 L0.358,-0.69 L0.29,-0.69 C0.265,-0.615 0.19,-0.568 0.095,-0.566 L0.095,-0.493 C0.17,-0.495 0.235,-0.51 0.27,-0.545 L0.27,0 Z" fill="#111" transform="translate(724.40,533.60) scale(26.9)"/>
<text x="739.36" y="533.60" font-size="26.9" text-anchor="start" fill="#111">+2</text>
<text x="791.20" y="533.60" font-size="26.9" text-anchor="start" font-style="italic" fill="#111">Stat4A</text>
<path d="M0.358,0 L0.358,-0.69 L0.29,-0.69 C0.265,-0.615 0.19,-0.568 0.095,-0.566 L0.095,-0.493 C0.17,-0.495 0.235,-0.51 0.27,-0.545 L0.27,0 Z" fill="#111" transform="translate(881.90,533.60) scale(26.9)"/>
<text x="896.86" y="533.60" font-size="26.9" text-anchor="start" fill="#111">+2</text>
<path d="M672.40,572.46 L674.00,573.62 L675.60,573.50 L677.20,573.15 L678.80,572.58 L680.40,573.84 L682.00,573.88 L683.60,573.23 L685.20,573.21 L686.80,572.62 L688.40,572.11 L690.00,572.92 L691.60,573.39 L693.20,572.25 L694.50,573.20" fill="none" stroke="#5a5a5a" stroke-width="2.1" stroke-linejoin="round"/>
<path d="M695.50,573.00 C696.10,572.95 698.02,570.70 699.10,572.70 C700.18,574.70 701.15,580.52 702.00,585.00 C702.85,589.48 703.52,595.15 704.20,599.60 C704.88,604.05 705.50,610.13 706.10,611.70 C706.70,613.27 707.17,610.80 707.80,609.00 C708.43,607.20 708.70,602.90 709.90,600.90 C711.10,598.90 713.10,598.27 715.00,597.00 C716.90,595.73 718.63,594.97 721.30,593.30 C723.97,591.63 727.62,589.12 731.00,587.00 C734.38,584.88 737.30,582.08 741.60,580.60 C745.90,579.12 750.25,578.83 756.80,578.10 C763.35,577.37 776.88,576.52 780.90,576.20" fill="none" stroke="#7e7e7e" stroke-width="1.6" stroke-linejoin="round"/>
<path d="M695.50,573.00 L696.45,572.53 L697.80,572.02 L699.10,572.70 L700.22,575.39 L701.30,579.27 L702.30,583.10 L703.59,588.53 L704.80,593.00 L705.89,595.10 L707.30,595.80 L708.30,595.85 L709.45,595.64 L710.80,595.18 L712.40,594.50 L713.46,594.00 L714.63,593.40 L715.89,592.72 L717.20,591.98 L718.56,591.18 L719.93,590.35 L721.30,589.50 L722.50,588.71 L723.74,587.85 L725.00,586.94 L726.27,586.01 L727.55,585.07 L728.84,584.16 L730.12,583.30 L731.40,582.50 L732.64,581.75 L733.83,581.03 L735.00,580.33 L736.18,579.67 L737.40,579.04 L738.70,577.70 L740.09,578.05 L741.60,577.22 L742.76,577.82 L743.94,576.98 L745.14,576.55 L746.38,577.05 L747.67,575.66 L749.01,576.46 L750.41,575.50 L751.88,575.77 L753.43,576.11 L755.07,575.64 L756.80,575.09 L757.95,575.33 L759.22,573.81 L760.58,574.42 L762.02,575.08 L763.52,574.78 L765.07,574.12 L766.64,573.62 L768.22,573.72 L769.80,573.77 L771.35,573.10 L772.87,574.49 L774.32,573.88 L775.70,573.58 L776.99,572.88 L778.17,573.06 L779.23,573.15 L780.15,572.61 L780.90,572.90" fill="none" stroke="#151515" stroke-width="2.1" stroke-linejoin="round"/>
<line x1="694.9" y1="548.2" x2="694.9" y2="588.8" stroke="#808080" stroke-width="1.9"/>
<path d="M794.40,574.81 L796.00,573.01 L797.60,572.75 L799.20,574.90 L800.80,573.11 L802.40,572.97 L804.00,574.13 L805.60,573.46 L807.20,574.66 L808.80,573.21 L810.40,574.81 L812.00,573.40 L813.60,574.02 L815.20,574.75 L816.20,573.80" fill="none" stroke="#5a5a5a" stroke-width="2.1" stroke-linejoin="round"/>
<path d="M817.00,573.50 C817.78,573.45 820.07,571.80 821.70,573.20 C823.33,574.60 825.63,577.50 826.80,581.90 C827.97,586.30 827.90,594.22 828.70,599.60 C829.50,604.98 830.55,613.35 831.60,614.20 C832.65,615.05 833.77,607.40 835.00,604.70 C836.23,602.00 837.62,599.70 839.00,598.00 C840.38,596.30 841.73,596.03 843.30,594.50 C844.87,592.97 847.12,589.55 848.40,588.80 C849.68,588.05 850.05,589.47 851.00,590.00 C851.95,590.53 852.85,592.08 854.10,592.00 C855.35,591.92 857.18,591.00 858.50,589.50 C859.82,588.00 860.73,584.90 862.00,583.00 C863.27,581.10 863.30,579.27 866.10,578.10 C868.90,576.93 872.67,576.68 878.80,576.00 C884.93,575.32 898.88,574.33 902.90,574.00" fill="none" stroke="#7e7e7e" stroke-width="1.6" stroke-linejoin="round"/>
<path d="M817.00,573.50 L817.87,573.32 L819.11,573.04 L820.48,572.92 L821.70,573.20 L823.08,574.26 L824.36,575.89 L825.50,578.10 L826.86,582.91 L828.10,588.20 L829.05,591.36 L830.03,594.38 L831.00,597.00 L832.38,600.29 L833.80,602.20 L834.82,602.09 L835.88,601.16 L837.00,600.00 L838.05,598.87 L839.15,597.53 L840.70,595.80 L841.75,594.70 L842.97,593.43 L844.31,592.06 L845.69,590.67 L847.08,589.36 L848.40,588.20 L849.64,587.20 L850.85,586.31 L852.05,585.49 L853.29,584.70 L854.59,583.92 L856.00,583.10 L857.13,582.45 L858.29,581.77 L859.49,581.08 L860.73,580.40 L862.01,579.74 L863.33,579.13 L864.70,578.58 L866.10,578.10 L867.21,577.79 L868.29,577.53 L869.36,577.31 L870.45,577.13 L871.57,576.98 L872.77,576.85 L874.07,576.87 L875.49,576.19 L877.06,577.16 L878.80,576.61 L879.89,576.55 L881.11,575.88 L882.44,576.43 L883.85,576.11 L885.34,575.72 L886.88,574.70 L888.46,575.17 L890.05,575.97 L891.64,575.09 L893.22,574.62 L894.75,574.94 L896.23,573.94 L897.63,574.15 L898.95,574.85 L900.15,574.19 L901.22,573.95 L902.14,574.92 L902.90,574.04" fill="none" stroke="#151515" stroke-width="2.1" stroke-linejoin="round"/>
<line x1="816.6" y1="548.2" x2="816.6" y2="586.9" stroke="#808080" stroke-width="1.9"/>
<path d="M879.70,590.10 L879.70,611.20 L860.40,611.20" fill="none" stroke="#111" stroke-width="2.6"/>
<line x1="565.40" y1="719.24" x2="570.60" y2="719.24" stroke="#a6a6a6" stroke-width="1.625" stroke-linecap="butt"/>
<line x1="565.40" y1="726.56" x2="570.60" y2="726.56" stroke="#a6a6a6" stroke-width="1.625" stroke-linecap="butt"/>
<line x1="575.20" y1="707.67" x2="580.40" y2="707.67" stroke="#a6a6a6" stroke-width="1.625" stroke-linecap="butt"/>
<line x1="575.20" y1="714.53" x2="580.40" y2="714.53" stroke="#a6a6a6" stroke-width="1.625" stroke-linecap="butt"/>
<line x1="579.00" y1="723.85" x2="584.20" y2="723.85" stroke="#a6a6a6" stroke-width="1.625" stroke-linecap="butt"/>
<line x1="579.00" y1="729.55" x2="584.20" y2="729.55" stroke="#a6a6a6" stroke-width="1.625" stroke-linecap="butt"/>
<line x1="587.40" y1="714.83" x2="592.60" y2="714.83" stroke="#a6a6a6" stroke-width="1.625" stroke-linecap="butt"/>
<line x1="587.40" y1="724.17" x2="592.60" y2="724.17" stroke="#a6a6a6" stroke-width="1.625" stroke-linecap="butt"/>
<line x1="598.40" y1="721.68" x2="603.60" y2="721.68" stroke="#a6a6a6" stroke-width="1.625" stroke-linecap="butt"/>
<line x1="598.40" y1="726.72" x2="603.60" y2="726.72" stroke="#a6a6a6" stroke-width="1.625" stroke-linecap="butt"/>
<line x1="606.40" y1="715.74" x2="611.60" y2="715.74" stroke="#a6a6a6" stroke-width="1.625" stroke-linecap="butt"/>
<line x1="606.40" y1="723.26" x2="611.60" y2="723.26" stroke="#a6a6a6" stroke-width="1.625" stroke-linecap="butt"/>
<line x1="618.30" y1="718.15" x2="623.50" y2="718.15" stroke="#a6a6a6" stroke-width="1.625" stroke-linecap="butt"/>
<line x1="618.30" y1="727.65" x2="623.50" y2="727.65" stroke="#a6a6a6" stroke-width="1.625" stroke-linecap="butt"/>
<line x1="565.90" y1="729.10" x2="571.10" y2="729.10" stroke="#c9c9c9" stroke-width="1.4300000000000002" stroke-linecap="butt"/>
<line x1="565.90" y1="734.50" x2="571.10" y2="734.50" stroke="#c9c9c9" stroke-width="1.4300000000000002" stroke-linecap="butt"/>
<line x1="567.50" y1="707.21" x2="572.70" y2="707.21" stroke="#c9c9c9" stroke-width="1.4300000000000002" stroke-linecap="butt"/>
<line x1="567.50" y1="714.99" x2="572.70" y2="714.99" stroke="#c9c9c9" stroke-width="1.4300000000000002" stroke-linecap="butt"/>
<line x1="570.90" y1="710.46" x2="576.10" y2="710.46" stroke="#c9c9c9" stroke-width="1.4300000000000002" stroke-linecap="butt"/>
<line x1="570.90" y1="718.54" x2="576.10" y2="718.54" stroke="#c9c9c9" stroke-width="1.4300000000000002" stroke-linecap="butt"/>
<line x1="574.40" y1="713.90" x2="579.60" y2="713.90" stroke="#c9c9c9" stroke-width="1.4300000000000002" stroke-linecap="butt"/>
<line x1="574.40" y1="719.10" x2="579.60" y2="719.10" stroke="#c9c9c9" stroke-width="1.4300000000000002" stroke-linecap="butt"/>
<line x1="579.00" y1="726.25" x2="584.20" y2="726.25" stroke="#c9c9c9" stroke-width="1.4300000000000002" stroke-linecap="butt"/>
<line x1="579.00" y1="733.15" x2="584.20" y2="733.15" stroke="#c9c9c9" stroke-width="1.4300000000000002" stroke-linecap="butt"/>
<line x1="582.80" y1="706.84" x2="588.00" y2="706.84" stroke="#c9c9c9" stroke-width="1.4300000000000002" stroke-linecap="butt"/>
<line x1="582.80" y1="715.36" x2="588.00" y2="715.36" stroke="#c9c9c9" stroke-width="1.4300000000000002" stroke-linecap="butt"/>
<line x1="585.90" y1="712.37" x2="591.10" y2="712.37" stroke="#c9c9c9" stroke-width="1.4300000000000002" stroke-linecap="butt"/>
<line x1="585.90" y1="719.63" x2="591.10" y2="719.63" stroke="#c9c9c9" stroke-width="1.4300000000000002" stroke-linecap="butt"/>
<line x1="589.40" y1="712.69" x2="594.60" y2="712.69" stroke="#c9c9c9" stroke-width="1.4300000000000002" stroke-linecap="butt"/>
<line x1="589.40" y1="721.31" x2="594.60" y2="721.31" stroke="#c9c9c9" stroke-width="1.4300000000000002" stroke-linecap="butt"/>
<line x1="590.80" y1="724.71" x2="596.00" y2="724.71" stroke="#c9c9c9" stroke-width="1.4300000000000002" stroke-linecap="butt"/>
<line x1="590.80" y1="730.49" x2="596.00" y2="730.49" stroke="#c9c9c9" stroke-width="1.4300000000000002" stroke-linecap="butt"/>
<line x1="593.40" y1="713.40" x2="598.60" y2="713.40" stroke="#c9c9c9" stroke-width="1.4300000000000002" stroke-linecap="butt"/>
<line x1="593.40" y1="719.60" x2="598.60" y2="719.60" stroke="#c9c9c9" stroke-width="1.4300000000000002" stroke-linecap="butt"/>
<line x1="596.90" y1="712.72" x2="602.10" y2="712.72" stroke="#c9c9c9" stroke-width="1.4300000000000002" stroke-linecap="butt"/>
<line x1="596.90" y1="718.28" x2="602.10" y2="718.28" stroke="#c9c9c9" stroke-width="1.4300000000000002" stroke-linecap="butt"/>
<line x1="600.40" y1="712.73" x2="605.60" y2="712.73" stroke="#c9c9c9" stroke-width="1.4300000000000002" stroke-linecap="butt"/>
<line x1="600.40" y1="720.27" x2="605.60" y2="720.27" stroke="#c9c9c9" stroke-width="1.4300000000000002" stroke-linecap="butt"/>
<line x1="603.90" y1="710.69" x2="609.10" y2="710.69" stroke="#c9c9c9" stroke-width="1.4300000000000002" stroke-linecap="butt"/>
<line x1="603.90" y1="720.31" x2="609.10" y2="720.31" stroke="#c9c9c9" stroke-width="1.4300000000000002" stroke-linecap="butt"/>
<line x1="607.40" y1="712.02" x2="612.60" y2="712.02" stroke="#c9c9c9" stroke-width="1.4300000000000002" stroke-linecap="butt"/>
<line x1="607.40" y1="719.98" x2="612.60" y2="719.98" stroke="#c9c9c9" stroke-width="1.4300000000000002" stroke-linecap="butt"/>
<line x1="609.80" y1="709.06" x2="615.00" y2="709.06" stroke="#c9c9c9" stroke-width="1.4300000000000002" stroke-linecap="butt"/>
<line x1="609.80" y1="717.94" x2="615.00" y2="717.94" stroke="#c9c9c9" stroke-width="1.4300000000000002" stroke-linecap="butt"/>
<line x1="614.10" y1="730.04" x2="619.30" y2="730.04" stroke="#c9c9c9" stroke-width="1.4300000000000002" stroke-linecap="butt"/>
<line x1="614.10" y1="736.96" x2="619.30" y2="736.96" stroke="#c9c9c9" stroke-width="1.4300000000000002" stroke-linecap="butt"/>
<line x1="618.30" y1="713.43" x2="623.50" y2="713.43" stroke="#c9c9c9" stroke-width="1.4300000000000002" stroke-linecap="butt"/>
<line x1="618.30" y1="722.17" x2="623.50" y2="722.17" stroke="#c9c9c9" stroke-width="1.4300000000000002" stroke-linecap="butt"/>
<line x1="628.20" y1="613.20" x2="628.20" y2="646.10" stroke="#a6a6a6" stroke-width="1.25" stroke-linecap="butt"/>
<line x1="628.20" y1="656.30" x2="628.20" y2="689.20" stroke="#a6a6a6" stroke-width="1.25" stroke-linecap="butt"/>
<line x1="625.60" y1="613.20" x2="630.80" y2="613.20" stroke="#a6a6a6" stroke-width="1.625" stroke-linecap="butt"/>
<line x1="625.60" y1="689.20" x2="630.80" y2="689.20" stroke="#a6a6a6" stroke-width="1.625" stroke-linecap="butt"/>
<line x1="632.40" y1="607.50" x2="632.40" y2="634.40" stroke="#a6a6a6" stroke-width="1.25" stroke-linecap="butt"/>
<line x1="632.40" y1="644.60" x2="632.40" y2="671.50" stroke="#a6a6a6" stroke-width="1.25" stroke-linecap="butt"/>
<line x1="629.80" y1="607.50" x2="635.00" y2="607.50" stroke="#a6a6a6" stroke-width="1.625" stroke-linecap="butt"/>
<line x1="629.80" y1="671.50" x2="635.00" y2="671.50" stroke="#a6a6a6" stroke-width="1.625" stroke-linecap="butt"/>
<line x1="635.80" y1="601.50" x2="635.80" y2="626.40" stroke="#a6a6a6" stroke-width="1.25" stroke-linecap="butt"/>
<line x1="635.80" y1="636.60" x2="635.80" y2="661.50" stroke="#a6a6a6" stroke-width="1.25" stroke-linecap="butt"/>
<line x1="633.20" y1="601.50" x2="638.40" y2="601.50" stroke="#a6a6a6" stroke-width="1.625" stroke-linecap="butt"/>
<line x1="633.20" y1="661.50" x2="638.40" y2="661.50" stroke="#a6a6a6" stroke-width="1.625" stroke-linecap="butt"/>
<line x1="639.90" y1="610.09" x2="639.90" y2="623.70" stroke="#a6a6a6" stroke-width="1.25" stroke-linecap="butt"/>
<line x1="639.90" y1="633.90" x2="639.90" y2="647.51" stroke="#a6a6a6" stroke-width="1.25" stroke-linecap="butt"/>
<line x1="637.30" y1="610.09" x2="642.50" y2="610.09" stroke="#a6a6a6" stroke-width="1.625" stroke-linecap="butt"/>
<line x1="637.30" y1="647.51" x2="642.50" y2="647.51" stroke="#a6a6a6" stroke-width="1.625" stroke-linecap="butt"/>
<line x1="644.00" y1="607.54" x2="644.00" y2="617.50" stroke="#a6a6a6" stroke-width="1.25" stroke-linecap="butt"/>
<line x1="644.00" y1="627.70" x2="644.00" y2="637.66" stroke="#a6a6a6" stroke-width="1.25" stroke-linecap="butt"/>
<line x1="641.40" y1="607.54" x2="646.60" y2="607.54" stroke="#a6a6a6" stroke-width="1.625" stroke-linecap="butt"/>
<line x1="641.40" y1="637.66" x2="646.60" y2="637.66" stroke="#a6a6a6" stroke-width="1.625" stroke-linecap="butt"/>
<line x1="648.20" y1="617.05" x2="648.20" y2="623.00" stroke="#a6a6a6" stroke-width="1.25" stroke-linecap="butt"/>
<line x1="648.20" y1="633.20" x2="648.20" y2="639.15" stroke="#a6a6a6" stroke-width="1.25" stroke-linecap="butt"/>
<line x1="645.60" y1="617.05" x2="650.80" y2="617.05" stroke="#a6a6a6" stroke-width="1.625" stroke-linecap="butt"/>
<line x1="645.60" y1="639.15" x2="650.80" y2="639.15" stroke="#a6a6a6" stroke-width="1.625" stroke-linecap="butt"/>
<line x1="651.60" y1="628.60" x2="651.60" y2="636.70" stroke="#a6a6a6" stroke-width="1.25" stroke-linecap="butt"/>
<line x1="651.60" y1="646.90" x2="651.60" y2="655.00" stroke="#a6a6a6" stroke-width="1.25" stroke-linecap="butt"/>
<line x1="649.00" y1="628.60" x2="654.20" y2="628.60" stroke="#a6a6a6" stroke-width="1.625" stroke-linecap="butt"/>
<line x1="649.00" y1="655.00" x2="654.20" y2="655.00" stroke="#a6a6a6" stroke-width="1.625" stroke-linecap="butt"/>
<line x1="655.70" y1="627.98" x2="655.70" y2="635.40" stroke="#a6a6a6" stroke-width="1.25" stroke-linecap="butt"/>
<line x1="655.70" y1="645.60" x2="655.70" y2="653.02" stroke="#a6a6a6" stroke-width="1.25" stroke-linecap="butt"/>
<line x1="653.10" y1="627.98" x2="658.30" y2="627.98" stroke="#a6a6a6" stroke-width="1.625" stroke-linecap="butt"/>
<line x1="653.10" y1="653.02" x2="658.30" y2="653.02" stroke="#a6a6a6" stroke-width="1.625" stroke-linecap="butt"/>
<line x1="659.50" y1="627.63" x2="659.50" y2="635.90" stroke="#a6a6a6" stroke-width="1.25" stroke-linecap="butt"/>
<line x1="659.50" y1="646.10" x2="659.50" y2="654.37" stroke="#a6a6a6" stroke-width="1.25" stroke-linecap="butt"/>
<line x1="656.90" y1="627.63" x2="662.10" y2="627.63" stroke="#a6a6a6" stroke-width="1.625" stroke-linecap="butt"/>
<line x1="656.90" y1="654.37" x2="662.10" y2="654.37" stroke="#a6a6a6" stroke-width="1.625" stroke-linecap="butt"/>
<line x1="663.30" y1="622.09" x2="663.30" y2="636.70" stroke="#a6a6a6" stroke-width="1.25" stroke-linecap="butt"/>
<line x1="663.30" y1="646.90" x2="663.30" y2="661.51" stroke="#a6a6a6" stroke-width="1.25" stroke-linecap="butt"/>
<line x1="660.70" y1="622.09" x2="665.90" y2="622.09" stroke="#a6a6a6" stroke-width="1.625" stroke-linecap="butt"/>
<line x1="660.70" y1="661.51" x2="665.90" y2="661.51" stroke="#a6a6a6" stroke-width="1.625" stroke-linecap="butt"/>
<line x1="667.40" y1="628.11" x2="667.40" y2="635.40" stroke="#a6a6a6" stroke-width="1.25" stroke-linecap="butt"/>
<line x1="667.40" y1="645.60" x2="667.40" y2="652.89" stroke="#a6a6a6" stroke-width="1.25" stroke-linecap="butt"/>
<line x1="664.80" y1="628.11" x2="670.00" y2="628.11" stroke="#a6a6a6" stroke-width="1.625" stroke-linecap="butt"/>
<line x1="664.80" y1="652.89" x2="670.00" y2="652.89" stroke="#a6a6a6" stroke-width="1.625" stroke-linecap="butt"/>
<line x1="670.80" y1="635.66" x2="670.80" y2="651.20" stroke="#a6a6a6" stroke-width="1.25" stroke-linecap="butt"/>
<line x1="670.80" y1="661.40" x2="670.80" y2="676.94" stroke="#a6a6a6" stroke-width="1.25" stroke-linecap="butt"/>
<line x1="668.20" y1="635.66" x2="673.40" y2="635.66" stroke="#a6a6a6" stroke-width="1.625" stroke-linecap="butt"/>
<line x1="668.20" y1="676.94" x2="673.40" y2="676.94" stroke="#a6a6a6" stroke-width="1.625" stroke-linecap="butt"/>
<line x1="675.00" y1="627.45" x2="675.00" y2="642.90" stroke="#a6a6a6" stroke-width="1.25" stroke-linecap="butt"/>
<line x1="675.00" y1="653.10" x2="675.00" y2="668.55" stroke="#a6a6a6" stroke-width="1.25" stroke-linecap="butt"/>
<line x1="672.40" y1="627.45" x2="677.60" y2="627.45" stroke="#a6a6a6" stroke-width="1.625" stroke-linecap="butt"/>
<line x1="672.40" y1="668.55" x2="677.60" y2="668.55" stroke="#a6a6a6" stroke-width="1.625" stroke-linecap="butt"/>
<line x1="679.10" y1="640.84" x2="679.10" y2="646.40" stroke="#a6a6a6" stroke-width="1.25" stroke-linecap="butt"/>
<line x1="679.10" y1="656.60" x2="679.10" y2="662.16" stroke="#a6a6a6" stroke-width="1.25" stroke-linecap="butt"/>
<line x1="676.50" y1="640.84" x2="681.70" y2="640.84" stroke="#a6a6a6" stroke-width="1.625" stroke-linecap="butt"/>
<line x1="676.50" y1="662.16" x2="681.70" y2="662.16" stroke="#a6a6a6" stroke-width="1.625" stroke-linecap="butt"/>
<line x1="683.20" y1="635.55" x2="683.20" y2="645.00" stroke="#a6a6a6" stroke-width="1.25" stroke-linecap="butt"/>
<line x1="683.20" y1="655.20" x2="683.20" y2="664.65" stroke="#a6a6a6" stroke-width="1.25" stroke-linecap="butt"/>
<line x1="680.60" y1="635.55" x2="685.80" y2="635.55" stroke="#a6a6a6" stroke-width="1.625" stroke-linecap="butt"/>
<line x1="680.60" y1="664.65" x2="685.80" y2="664.65" stroke="#a6a6a6" stroke-width="1.625" stroke-linecap="butt"/>
<line x1="686.60" y1="639.00" x2="686.60" y2="649.80" stroke="#a6a6a6" stroke-width="1.25" stroke-linecap="butt"/>
<line x1="686.60" y1="660.00" x2="686.60" y2="670.80" stroke="#a6a6a6" stroke-width="1.25" stroke-linecap="butt"/>
<line x1="684.00" y1="639.00" x2="689.20" y2="639.00" stroke="#a6a6a6" stroke-width="1.625" stroke-linecap="butt"/>
<line x1="684.00" y1="670.80" x2="689.20" y2="670.80" stroke="#a6a6a6" stroke-width="1.625" stroke-linecap="butt"/>
<line x1="690.80" y1="640.52" x2="690.80" y2="645.70" stroke="#a6a6a6" stroke-width="1.25" stroke-linecap="butt"/>
<line x1="690.80" y1="655.90" x2="690.80" y2="661.08" stroke="#a6a6a6" stroke-width="1.25" stroke-linecap="butt"/>
<line x1="688.20" y1="640.52" x2="693.40" y2="640.52" stroke="#a6a6a6" stroke-width="1.625" stroke-linecap="butt"/>
<line x1="688.20" y1="661.08" x2="693.40" y2="661.08" stroke="#a6a6a6" stroke-width="1.625" stroke-linecap="butt"/>
<line x1="694.20" y1="652.90" x2="694.20" y2="662.90" stroke="#a6a6a6" stroke-width="1.25" stroke-linecap="butt"/>
<line x1="694.20" y1="673.10" x2="694.20" y2="683.10" stroke="#a6a6a6" stroke-width="1.25" stroke-linecap="butt"/>
<line x1="691.60" y1="652.90" x2="696.80" y2="652.90" stroke="#a6a6a6" stroke-width="1.625" stroke-linecap="butt"/>
<line x1="691.60" y1="683.10" x2="696.80" y2="683.10" stroke="#a6a6a6" stroke-width="1.625" stroke-linecap="butt"/>
<line x1="698.30" y1="632.62" x2="698.30" y2="648.40" stroke="#a6a6a6" stroke-width="1.25" stroke-linecap="butt"/>
<line x1="698.30" y1="658.60" x2="698.30" y2="674.38" stroke="#a6a6a6" stroke-width="1.25" stroke-linecap="butt"/>
<line x1="695.70" y1="632.62" x2="700.90" y2="632.62" stroke="#a6a6a6" stroke-width="1.625" stroke-linecap="butt"/>
<line x1="695.70" y1="674.38" x2="700.90" y2="674.38" stroke="#a6a6a6" stroke-width="1.625" stroke-linecap="butt"/>
<line x1="702.50" y1="661.86" x2="702.50" y2="668.10" stroke="#a6a6a6" stroke-width="1.25" stroke-linecap="butt"/>
<line x1="702.50" y1="678.30" x2="702.50" y2="684.54" stroke="#a6a6a6" stroke-width="1.25" stroke-linecap="butt"/>
<line x1="699.90" y1="661.86" x2="705.10" y2="661.86" stroke="#a6a6a6" stroke-width="1.625" stroke-linecap="butt"/>
<line x1="699.90" y1="684.54" x2="705.10" y2="684.54" stroke="#a6a6a6" stroke-width="1.625" stroke-linecap="butt"/>
<line x1="706.60" y1="637.74" x2="706.60" y2="649.80" stroke="#a6a6a6" stroke-width="1.25" stroke-linecap="butt"/>
<line x1="706.60" y1="660.00" x2="706.60" y2="672.06" stroke="#a6a6a6" stroke-width="1.25" stroke-linecap="butt"/>
<line x1="704.00" y1="637.74" x2="709.20" y2="637.74" stroke="#a6a6a6" stroke-width="1.625" stroke-linecap="butt"/>
<line x1="704.00" y1="672.06" x2="709.20" y2="672.06" stroke="#a6a6a6" stroke-width="1.625" stroke-linecap="butt"/>
<line x1="710.00" y1="649.65" x2="710.00" y2="656.00" stroke="#a6a6a6" stroke-width="1.25" stroke-linecap="butt"/>
<line x1="710.00" y1="666.20" x2="710.00" y2="672.55" stroke="#a6a6a6" stroke-width="1.25" stroke-linecap="butt"/>
<line x1="707.40" y1="649.65" x2="712.60" y2="649.65" stroke="#a6a6a6" stroke-width="1.625" stroke-linecap="butt"/>
<line x1="707.40" y1="672.55" x2="712.60" y2="672.55" stroke="#a6a6a6" stroke-width="1.625" stroke-linecap="butt"/>
<line x1="714.10" y1="657.16" x2="714.10" y2="669.00" stroke="#a6a6a6" stroke-width="1.25" stroke-linecap="butt"/>
<line x1="714.10" y1="679.20" x2="714.10" y2="691.04" stroke="#a6a6a6" stroke-width="1.25" stroke-linecap="butt"/>
<line x1="711.50" y1="657.16" x2="716.70" y2="657.16" stroke="#a6a6a6" stroke-width="1.625" stroke-linecap="butt"/>
<line x1="711.50" y1="691.04" x2="716.70" y2="691.04" stroke="#a6a6a6" stroke-width="1.625" stroke-linecap="butt"/>
<line x1="717.60" y1="640.36" x2="717.60" y2="656.00" stroke="#a6a6a6" stroke-width="1.25" stroke-linecap="butt"/>
<line x1="717.60" y1="666.20" x2="717.60" y2="681.84" stroke="#a6a6a6" stroke-width="1.25" stroke-linecap="butt"/>
<line x1="715.00" y1="640.36" x2="720.20" y2="640.36" stroke="#a6a6a6" stroke-width="1.625" stroke-linecap="butt"/>
<line x1="715.00" y1="681.84" x2="720.20" y2="681.84" stroke="#a6a6a6" stroke-width="1.625" stroke-linecap="butt"/>
<line x1="721.70" y1="650.66" x2="721.70" y2="658.00" stroke="#a6a6a6" stroke-width="1.25" stroke-linecap="butt"/>
<line x1="721.70" y1="668.20" x2="721.70" y2="675.54" stroke="#a6a6a6" stroke-width="1.25" stroke-linecap="butt"/>
<line x1="719.10" y1="650.66" x2="724.30" y2="650.66" stroke="#a6a6a6" stroke-width="1.625" stroke-linecap="butt"/>
<line x1="719.10" y1="675.54" x2="724.30" y2="675.54" stroke="#a6a6a6" stroke-width="1.625" stroke-linecap="butt"/>
<line x1="725.80" y1="653.70" x2="725.80" y2="658.70" stroke="#a6a6a6" stroke-width="1.25" stroke-linecap="butt"/>
<line x1="725.80" y1="668.90" x2="725.80" y2="673.90" stroke="#a6a6a6" stroke-width="1.25" stroke-linecap="butt"/>
<line x1="723.20" y1="653.70" x2="728.40" y2="653.70" stroke="#a6a6a6" stroke-width="1.625" stroke-linecap="butt"/>
<line x1="723.20" y1="673.90" x2="728.40" y2="673.90" stroke="#a6a6a6" stroke-width="1.625" stroke-linecap="butt"/>
<line x1="729.90" y1="652.80" x2="729.90" y2="658.70" stroke="#a6a6a6" stroke-width="1.25" stroke-linecap="butt"/>
<line x1="729.90" y1="668.90" x2="729.90" y2="674.80" stroke="#a6a6a6" stroke-width="1.25" stroke-linecap="butt"/>
<line x1="727.30" y1="652.80" x2="732.50" y2="652.80" stroke="#a6a6a6" stroke-width="1.625" stroke-linecap="butt"/>
<line x1="727.30" y1="674.80" x2="732.50" y2="674.80" stroke="#a6a6a6" stroke-width="1.625" stroke-linecap="butt"/>
<line x1="733.40" y1="669.02" x2="733.40" y2="680.40" stroke="#a6a6a6" stroke-width="1.25" stroke-linecap="butt"/>
<line x1="733.40" y1="690.60" x2="733.40" y2="701.98" stroke="#a6a6a6" stroke-width="1.25" stroke-linecap="butt"/>
<line x1="730.80" y1="669.02" x2="736.00" y2="669.02" stroke="#a6a6a6" stroke-width="1.625" stroke-linecap="butt"/>
<line x1="730.80" y1="701.98" x2="736.00" y2="701.98" stroke="#a6a6a6" stroke-width="1.625" stroke-linecap="butt"/>
<line x1="737.50" y1="659.09" x2="737.50" y2="664.20" stroke="#a6a6a6" stroke-width="1.25" stroke-linecap="butt"/>
<line x1="737.50" y1="674.40" x2="737.50" y2="679.51" stroke="#a6a6a6" stroke-width="1.25" stroke-linecap="butt"/>
<line x1="734.90" y1="659.09" x2="740.10" y2="659.09" stroke="#a6a6a6" stroke-width="1.625" stroke-linecap="butt"/>
<line x1="734.90" y1="679.51" x2="740.10" y2="679.51" stroke="#a6a6a6" stroke-width="1.625" stroke-linecap="butt"/>
<line x1="741.50" y1="656.28" x2="741.50" y2="662.20" stroke="#a6a6a6" stroke-width="1.25" stroke-linecap="butt"/>
<line x1="741.50" y1="672.40" x2="741.50" y2="678.32" stroke="#a6a6a6" stroke-width="1.25" stroke-linecap="butt"/>
<line x1="738.90" y1="656.28" x2="744.10" y2="656.28" stroke="#a6a6a6" stroke-width="1.625" stroke-linecap="butt"/>
<line x1="738.90" y1="678.32" x2="744.10" y2="678.32" stroke="#a6a6a6" stroke-width="1.625" stroke-linecap="butt"/>
<line x1="745.20" y1="658.04" x2="745.20" y2="668.90" stroke="#a6a6a6" stroke-width="1.25" stroke-linecap="butt"/>
<line x1="745.20" y1="679.10" x2="745.20" y2="689.96" stroke="#a6a6a6" stroke-width="1.25" stroke-linecap="butt"/>
<line x1="742.60" y1="658.04" x2="747.80" y2="658.04" stroke="#a6a6a6" stroke-width="1.625" stroke-linecap="butt"/>
<line x1="742.60" y1="689.96" x2="747.80" y2="689.96" stroke="#a6a6a6" stroke-width="1.625" stroke-linecap="butt"/>
<line x1="748.90" y1="648.55" x2="748.90" y2="664.50" stroke="#a6a6a6" stroke-width="1.25" stroke-linecap="butt"/>
<line x1="748.90" y1="674.70" x2="748.90" y2="690.65" stroke="#a6a6a6" stroke-width="1.25" stroke-linecap="butt"/>
<line x1="746.30" y1="648.55" x2="751.50" y2="648.55" stroke="#a6a6a6" stroke-width="1.625" stroke-linecap="butt"/>
<line x1="746.30" y1="690.65" x2="751.50" y2="690.65" stroke="#a6a6a6" stroke-width="1.625" stroke-linecap="butt"/>
<line x1="752.60" y1="670.06" x2="752.60" y2="680.00" stroke="#a6a6a6" stroke-width="1.25" stroke-linecap="butt"/>
<line x1="752.60" y1="690.20" x2="752.60" y2="700.14" stroke="#a6a6a6" stroke-width="1.25" stroke-linecap="butt"/>
<line x1="750.00" y1="670.06" x2="755.20" y2="670.06" stroke="#a6a6a6" stroke-width="1.625" stroke-linecap="butt"/>
<line x1="750.00" y1="700.14" x2="755.20" y2="700.14" stroke="#a6a6a6" stroke-width="1.625" stroke-linecap="butt"/>
<line x1="757.00" y1="657.02" x2="757.00" y2="666.70" stroke="#a6a6a6" stroke-width="1.25" stroke-linecap="butt"/>
<line x1="757.00" y1="676.90" x2="757.00" y2="686.58" stroke="#a6a6a6" stroke-width="1.25" stroke-linecap="butt"/>
<line x1="754.40" y1="657.02" x2="759.60" y2="657.02" stroke="#a6a6a6" stroke-width="1.625" stroke-linecap="butt"/>
<line x1="754.40" y1="686.58" x2="759.60" y2="686.58" stroke="#a6a6a6" stroke-width="1.625" stroke-linecap="butt"/>
<line x1="760.70" y1="650.34" x2="760.70" y2="662.90" stroke="#a6a6a6" stroke-width="1.25" stroke-linecap="butt"/>
<line x1="760.70" y1="673.10" x2="760.70" y2="685.66" stroke="#a6a6a6" stroke-width="1.25" stroke-linecap="butt"/>
<line x1="758.10" y1="650.34" x2="763.30" y2="650.34" stroke="#a6a6a6" stroke-width="1.625" stroke-linecap="butt"/>
<line x1="758.10" y1="685.66" x2="763.30" y2="685.66" stroke="#a6a6a6" stroke-width="1.625" stroke-linecap="butt"/>
<line x1="764.40" y1="673.98" x2="764.40" y2="680.00" stroke="#a6a6a6" stroke-width="1.25" stroke-linecap="butt"/>
<line x1="764.40" y1="690.20" x2="764.40" y2="696.22" stroke="#a6a6a6" stroke-width="1.25" stroke-linecap="butt"/>
<line x1="761.80" y1="673.98" x2="767.00" y2="673.98" stroke="#a6a6a6" stroke-width="1.625" stroke-linecap="butt"/>
<line x1="761.80" y1="696.22" x2="767.00" y2="696.22" stroke="#a6a6a6" stroke-width="1.625" stroke-linecap="butt"/>
<line x1="768.90" y1="645.24" x2="768.90" y2="657.10" stroke="#a6a6a6" stroke-width="1.25" stroke-linecap="butt"/>
<line x1="768.90" y1="667.30" x2="768.90" y2="679.16" stroke="#a6a6a6" stroke-width="1.25" stroke-linecap="butt"/>
<line x1="766.30" y1="645.24" x2="771.50" y2="645.24" stroke="#a6a6a6" stroke-width="1.625" stroke-linecap="butt"/>
<line x1="766.30" y1="679.16" x2="771.50" y2="679.16" stroke="#a6a6a6" stroke-width="1.625" stroke-linecap="butt"/>
<line x1="772.60" y1="660.43" x2="772.60" y2="667.40" stroke="#a6a6a6" stroke-width="1.25" stroke-linecap="butt"/>
<line x1="772.60" y1="677.60" x2="772.60" y2="684.57" stroke="#a6a6a6" stroke-width="1.25" stroke-linecap="butt"/>
<line x1="770.00" y1="660.43" x2="775.20" y2="660.43" stroke="#a6a6a6" stroke-width="1.625" stroke-linecap="butt"/>
<line x1="770.00" y1="684.57" x2="775.20" y2="684.57" stroke="#a6a6a6" stroke-width="1.625" stroke-linecap="butt"/>
<line x1="776.00" y1="650.69" x2="776.00" y2="662.90" stroke="#a6a6a6" stroke-width="1.25" stroke-linecap="butt"/>
<line x1="776.00" y1="673.10" x2="776.00" y2="685.31" stroke="#a6a6a6" stroke-width="1.25" stroke-linecap="butt"/>
<line x1="773.40" y1="650.69" x2="778.60" y2="650.69" stroke="#a6a6a6" stroke-width="1.625" stroke-linecap="butt"/>
<line x1="773.40" y1="685.31" x2="778.60" y2="685.31" stroke="#a6a6a6" stroke-width="1.625" stroke-linecap="butt"/>
<line x1="779.20" y1="648.80" x2="779.20" y2="665.20" stroke="#a6a6a6" stroke-width="1.25" stroke-linecap="butt"/>
<line x1="779.20" y1="675.40" x2="779.20" y2="691.80" stroke="#a6a6a6" stroke-width="1.25" stroke-linecap="butt"/>
<line x1="776.60" y1="648.80" x2="781.80" y2="648.80" stroke="#a6a6a6" stroke-width="1.625" stroke-linecap="butt"/>
<line x1="776.60" y1="691.80" x2="781.80" y2="691.80" stroke="#a6a6a6" stroke-width="1.625" stroke-linecap="butt"/>
<line x1="783.70" y1="678.85" x2="783.70" y2="684.40" stroke="#a6a6a6" stroke-width="1.25" stroke-linecap="butt"/>
<line x1="783.70" y1="694.60" x2="783.70" y2="700.15" stroke="#a6a6a6" stroke-width="1.25" stroke-linecap="butt"/>
<line x1="781.10" y1="678.85" x2="786.30" y2="678.85" stroke="#a6a6a6" stroke-width="1.625" stroke-linecap="butt"/>
<line x1="781.10" y1="700.15" x2="786.30" y2="700.15" stroke="#a6a6a6" stroke-width="1.625" stroke-linecap="butt"/>
<line x1="787.40" y1="664.74" x2="787.40" y2="676.30" stroke="#a6a6a6" stroke-width="1.25" stroke-linecap="butt"/>
<line x1="787.40" y1="686.50" x2="787.40" y2="698.06" stroke="#a6a6a6" stroke-width="1.25" stroke-linecap="butt"/>
<line x1="784.80" y1="664.74" x2="790.00" y2="664.74" stroke="#a6a6a6" stroke-width="1.625" stroke-linecap="butt"/>
<line x1="784.80" y1="698.06" x2="790.00" y2="698.06" stroke="#a6a6a6" stroke-width="1.625" stroke-linecap="butt"/>
<line x1="791.80" y1="674.52" x2="791.80" y2="686.70" stroke="#a6a6a6" stroke-width="1.25" stroke-linecap="butt"/>
<line x1="791.80" y1="696.90" x2="791.80" y2="709.08" stroke="#a6a6a6" stroke-width="1.25" stroke-linecap="butt"/>
<line x1="789.20" y1="674.52" x2="794.40" y2="674.52" stroke="#a6a6a6" stroke-width="1.625" stroke-linecap="butt"/>
<line x1="789.20" y1="709.08" x2="794.40" y2="709.08" stroke="#a6a6a6" stroke-width="1.625" stroke-linecap="butt"/>
<line x1="795.50" y1="667.41" x2="795.50" y2="674.10" stroke="#a6a6a6" stroke-width="1.25" stroke-linecap="butt"/>
<line x1="795.50" y1="684.30" x2="795.50" y2="690.99" stroke="#a6a6a6" stroke-width="1.25" stroke-linecap="butt"/>
<line x1="792.90" y1="667.41" x2="798.10" y2="667.41" stroke="#a6a6a6" stroke-width="1.625" stroke-linecap="butt"/>
<line x1="792.90" y1="690.99" x2="798.10" y2="690.99" stroke="#a6a6a6" stroke-width="1.625" stroke-linecap="butt"/>
<line x1="799.90" y1="674.88" x2="799.90" y2="683.00" stroke="#a6a6a6" stroke-width="1.25" stroke-linecap="butt"/>
<line x1="799.90" y1="693.20" x2="799.90" y2="701.32" stroke="#a6a6a6" stroke-width="1.25" stroke-linecap="butt"/>
<line x1="797.30" y1="674.88" x2="802.50" y2="674.88" stroke="#a6a6a6" stroke-width="1.625" stroke-linecap="butt"/>
<line x1="797.30" y1="701.32" x2="802.50" y2="701.32" stroke="#a6a6a6" stroke-width="1.625" stroke-linecap="butt"/>
<line x1="804.40" y1="660.96" x2="804.40" y2="677.80" stroke="#a6a6a6" stroke-width="1.25" stroke-linecap="butt"/>
<line x1="804.40" y1="688.00" x2="804.40" y2="704.84" stroke="#a6a6a6" stroke-width="1.25" stroke-linecap="butt"/>
<line x1="801.80" y1="660.96" x2="807.00" y2="660.96" stroke="#a6a6a6" stroke-width="1.625" stroke-linecap="butt"/>
<line x1="801.80" y1="704.84" x2="807.00" y2="704.84" stroke="#a6a6a6" stroke-width="1.625" stroke-linecap="butt"/>
<line x1="808.10" y1="649.82" x2="808.10" y2="666.70" stroke="#a6a6a6" stroke-width="1.25" stroke-linecap="butt"/>
<line x1="808.10" y1="676.90" x2="808.10" y2="693.78" stroke="#a6a6a6" stroke-width="1.25" stroke-linecap="butt"/>
<line x1="805.50" y1="649.82" x2="810.70" y2="649.82" stroke="#a6a6a6" stroke-width="1.625" stroke-linecap="butt"/>
<line x1="805.50" y1="693.78" x2="810.70" y2="693.78" stroke="#a6a6a6" stroke-width="1.625" stroke-linecap="butt"/>
<line x1="811.80" y1="656.54" x2="811.80" y2="662.90" stroke="#a6a6a6" stroke-width="1.25" stroke-linecap="butt"/>
<line x1="811.80" y1="673.10" x2="811.80" y2="679.46" stroke="#a6a6a6" stroke-width="1.25" stroke-linecap="butt"/>
<line x1="809.20" y1="656.54" x2="814.40" y2="656.54" stroke="#a6a6a6" stroke-width="1.625" stroke-linecap="butt"/>
<line x1="809.20" y1="679.46" x2="814.40" y2="679.46" stroke="#a6a6a6" stroke-width="1.625" stroke-linecap="butt"/>
<line x1="815.50" y1="647.43" x2="815.50" y2="660.80" stroke="#a6a6a6" stroke-width="1.25" stroke-linecap="butt"/>
<line x1="815.50" y1="671.00" x2="815.50" y2="684.37" stroke="#a6a6a6" stroke-width="1.25" stroke-linecap="butt"/>
<line x1="812.90" y1="647.43" x2="818.10" y2="647.43" stroke="#a6a6a6" stroke-width="1.625" stroke-linecap="butt"/>
<line x1="812.90" y1="684.37" x2="818.10" y2="684.37" stroke="#a6a6a6" stroke-width="1.625" stroke-linecap="butt"/>
<line x1="819.20" y1="660.69" x2="819.20" y2="677.00" stroke="#a6a6a6" stroke-width="1.25" stroke-linecap="butt"/>
<line x1="819.20" y1="687.20" x2="819.20" y2="703.51" stroke="#a6a6a6" stroke-width="1.25" stroke-linecap="butt"/>
<line x1="816.60" y1="660.69" x2="821.80" y2="660.69" stroke="#a6a6a6" stroke-width="1.625" stroke-linecap="butt"/>
<line x1="816.60" y1="703.51" x2="821.80" y2="703.51" stroke="#a6a6a6" stroke-width="1.625" stroke-linecap="butt"/>
<line x1="822.90" y1="655.26" x2="822.90" y2="663.00" stroke="#a6a6a6" stroke-width="1.25" stroke-linecap="butt"/>
<line x1="822.90" y1="673.20" x2="822.90" y2="680.94" stroke="#a6a6a6" stroke-width="1.25" stroke-linecap="butt"/>
<line x1="820.30" y1="655.26" x2="825.50" y2="655.26" stroke="#a6a6a6" stroke-width="1.625" stroke-linecap="butt"/>
<line x1="820.30" y1="680.94" x2="825.50" y2="680.94" stroke="#a6a6a6" stroke-width="1.625" stroke-linecap="butt"/>
<line x1="826.60" y1="650.67" x2="826.60" y2="662.90" stroke="#a6a6a6" stroke-width="1.25" stroke-linecap="butt"/>
<line x1="826.60" y1="673.10" x2="826.60" y2="685.33" stroke="#a6a6a6" stroke-width="1.25" stroke-linecap="butt"/>
<line x1="824.00" y1="650.67" x2="829.20" y2="650.67" stroke="#a6a6a6" stroke-width="1.625" stroke-linecap="butt"/>
<line x1="824.00" y1="685.33" x2="829.20" y2="685.33" stroke="#a6a6a6" stroke-width="1.625" stroke-linecap="butt"/>
<line x1="830.30" y1="661.48" x2="830.30" y2="666.90" stroke="#a6a6a6" stroke-width="1.25" stroke-linecap="butt"/>
<line x1="830.30" y1="677.10" x2="830.30" y2="682.52" stroke="#a6a6a6" stroke-width="1.25" stroke-linecap="butt"/>
<line x1="827.70" y1="661.48" x2="832.90" y2="661.48" stroke="#a6a6a6" stroke-width="1.625" stroke-linecap="butt"/>
<line x1="827.70" y1="682.52" x2="832.90" y2="682.52" stroke="#a6a6a6" stroke-width="1.625" stroke-linecap="butt"/>
<line x1="834.70" y1="647.01" x2="834.70" y2="656.30" stroke="#a6a6a6" stroke-width="1.25" stroke-linecap="butt"/>
<line x1="834.70" y1="666.50" x2="834.70" y2="675.79" stroke="#a6a6a6" stroke-width="1.25" stroke-linecap="butt"/>
<line x1="832.10" y1="647.01" x2="837.30" y2="647.01" stroke="#a6a6a6" stroke-width="1.625" stroke-linecap="butt"/>
<line x1="832.10" y1="675.79" x2="837.30" y2="675.79" stroke="#a6a6a6" stroke-width="1.625" stroke-linecap="butt"/>
<line x1="837.70" y1="654.41" x2="837.70" y2="667.40" stroke="#a6a6a6" stroke-width="1.25" stroke-linecap="butt"/>
<line x1="837.70" y1="677.60" x2="837.70" y2="690.59" stroke="#a6a6a6" stroke-width="1.25" stroke-linecap="butt"/>
<line x1="835.10" y1="654.41" x2="840.30" y2="654.41" stroke="#a6a6a6" stroke-width="1.625" stroke-linecap="butt"/>
<line x1="835.10" y1="690.59" x2="840.30" y2="690.59" stroke="#a6a6a6" stroke-width="1.625" stroke-linecap="butt"/>
<line x1="842.10" y1="660.62" x2="842.10" y2="672.60" stroke="#a6a6a6" stroke-width="1.25" stroke-linecap="butt"/>
<line x1="842.10" y1="682.80" x2="842.10" y2="694.78" stroke="#a6a6a6" stroke-width="1.25" stroke-linecap="butt"/>
<line x1="839.50" y1="660.62" x2="844.70" y2="660.62" stroke="#a6a6a6" stroke-width="1.625" stroke-linecap="butt"/>
<line x1="839.50" y1="694.78" x2="844.70" y2="694.78" stroke="#a6a6a6" stroke-width="1.625" stroke-linecap="butt"/>
<line x1="847.30" y1="648.80" x2="847.30" y2="663.00" stroke="#a6a6a6" stroke-width="1.25" stroke-linecap="butt"/>
<line x1="847.30" y1="673.20" x2="847.30" y2="687.40" stroke="#a6a6a6" stroke-width="1.25" stroke-linecap="butt"/>
<line x1="844.70" y1="648.80" x2="849.90" y2="648.80" stroke="#a6a6a6" stroke-width="1.625" stroke-linecap="butt"/>
<line x1="844.70" y1="687.40" x2="849.90" y2="687.40" stroke="#a6a6a6" stroke-width="1.625" stroke-linecap="butt"/>
<line x1="850.30" y1="668.86" x2="850.30" y2="674.80" stroke="#a6a6a6" stroke-width="1.25" stroke-linecap="butt"/>
<line x1="850.30" y1="685.00" x2="850.30" y2="690.94" stroke="#a6a6a6" stroke-width="1.25" stroke-linecap="butt"/>
<line x1="847.70" y1="668.86" x2="852.90" y2="668.86" stroke="#a6a6a6" stroke-width="1.625" stroke-linecap="butt"/>
<line x1="847.70" y1="690.94" x2="852.90" y2="690.94" stroke="#a6a6a6" stroke-width="1.625" stroke-linecap="butt"/>
<line x1="854.00" y1="662.83" x2="854.00" y2="671.90" stroke="#a6a6a6" stroke-width="1.25" stroke-linecap="butt"/>
<line x1="854.00" y1="682.10" x2="854.00" y2="691.17" stroke="#a6a6a6" stroke-width="1.25" stroke-linecap="butt"/>
<line x1="851.40" y1="662.83" x2="856.60" y2="662.83" stroke="#a6a6a6" stroke-width="1.625" stroke-linecap="butt"/>
<line x1="851.40" y1="691.17" x2="856.60" y2="691.17" stroke="#a6a6a6" stroke-width="1.625" stroke-linecap="butt"/>
<line x1="858.40" y1="653.63" x2="858.40" y2="668.90" stroke="#a6a6a6" stroke-width="1.25" stroke-linecap="butt"/>
<line x1="858.40" y1="679.10" x2="858.40" y2="694.37" stroke="#a6a6a6" stroke-width="1.25" stroke-linecap="butt"/>
<line x1="855.80" y1="653.63" x2="861.00" y2="653.63" stroke="#a6a6a6" stroke-width="1.625" stroke-linecap="butt"/>
<line x1="855.80" y1="694.37" x2="861.00" y2="694.37" stroke="#a6a6a6" stroke-width="1.625" stroke-linecap="butt"/>
<line x1="628.20" y1="599.10" x2="628.20" y2="620.00" stroke="#c9c9c9" stroke-width="1.1" stroke-linecap="butt"/>
<line x1="628.20" y1="630.20" x2="628.20" y2="651.10" stroke="#c9c9c9" stroke-width="1.1" stroke-linecap="butt"/>
<line x1="625.60" y1="599.10" x2="630.80" y2="599.10" stroke="#c9c9c9" stroke-width="1.4300000000000002" stroke-linecap="butt"/>
<line x1="625.60" y1="651.10" x2="630.80" y2="651.10" stroke="#c9c9c9" stroke-width="1.4300000000000002" stroke-linecap="butt"/>
<line x1="632.40" y1="582.30" x2="632.40" y2="607.20" stroke="#c9c9c9" stroke-width="1.1" stroke-linecap="butt"/>
<line x1="632.40" y1="617.40" x2="632.40" y2="642.30" stroke="#c9c9c9" stroke-width="1.1" stroke-linecap="butt"/>
<line x1="629.80" y1="582.30" x2="635.00" y2="582.30" stroke="#c9c9c9" stroke-width="1.4300000000000002" stroke-linecap="butt"/>
<line x1="629.80" y1="642.30" x2="635.00" y2="642.30" stroke="#c9c9c9" stroke-width="1.4300000000000002" stroke-linecap="butt"/>
<line x1="636.50" y1="599.37" x2="636.50" y2="609.90" stroke="#c9c9c9" stroke-width="1.1" stroke-linecap="butt"/>
<line x1="636.50" y1="620.10" x2="636.50" y2="630.63" stroke="#c9c9c9" stroke-width="1.1" stroke-linecap="butt"/>
<line x1="633.90" y1="599.37" x2="639.10" y2="599.37" stroke="#c9c9c9" stroke-width="1.4300000000000002" stroke-linecap="butt"/>
<line x1="633.90" y1="630.63" x2="639.10" y2="630.63" stroke="#c9c9c9" stroke-width="1.4300000000000002" stroke-linecap="butt"/>
<line x1="640.60" y1="607.69" x2="640.60" y2="626.40" stroke="#c9c9c9" stroke-width="1.1" stroke-linecap="butt"/>
<line x1="640.60" y1="636.60" x2="640.60" y2="655.31" stroke="#c9c9c9" stroke-width="1.1" stroke-linecap="butt"/>
<line x1="638.00" y1="607.69" x2="643.20" y2="607.69" stroke="#c9c9c9" stroke-width="1.4300000000000002" stroke-linecap="butt"/>
<line x1="638.00" y1="655.31" x2="643.20" y2="655.31" stroke="#c9c9c9" stroke-width="1.4300000000000002" stroke-linecap="butt"/>
<line x1="644.00" y1="610.76" x2="644.00" y2="623.70" stroke="#c9c9c9" stroke-width="1.1" stroke-linecap="butt"/>
<line x1="644.00" y1="633.90" x2="644.00" y2="646.84" stroke="#c9c9c9" stroke-width="1.1" stroke-linecap="butt"/>
<line x1="641.40" y1="610.76" x2="646.60" y2="610.76" stroke="#c9c9c9" stroke-width="1.4300000000000002" stroke-linecap="butt"/>
<line x1="641.40" y1="646.84" x2="646.60" y2="646.84" stroke="#c9c9c9" stroke-width="1.4300000000000002" stroke-linecap="butt"/>
<line x1="648.20" y1="623.34" x2="648.20" y2="628.50" stroke="#c9c9c9" stroke-width="1.1" stroke-linecap="butt"/>
<line x1="648.20" y1="638.70" x2="648.20" y2="643.86" stroke="#c9c9c9" stroke-width="1.1" stroke-linecap="butt"/>
<line x1="645.60" y1="623.34" x2="650.80" y2="623.34" stroke="#c9c9c9" stroke-width="1.4300000000000002" stroke-linecap="butt"/>
<line x1="645.60" y1="643.86" x2="650.80" y2="643.86" stroke="#c9c9c9" stroke-width="1.4300000000000002" stroke-linecap="butt"/>
<line x1="651.60" y1="630.01" x2="651.60" y2="646.10" stroke="#c9c9c9" stroke-width="1.1" stroke-linecap="butt"/>
<line x1="651.60" y1="656.30" x2="651.60" y2="672.39" stroke="#c9c9c9" stroke-width="1.1" stroke-linecap="butt"/>
<line x1="649.00" y1="630.01" x2="654.20" y2="630.01" stroke="#c9c9c9" stroke-width="1.4300000000000002" stroke-linecap="butt"/>
<line x1="649.00" y1="672.39" x2="654.20" y2="672.39" stroke="#c9c9c9" stroke-width="1.4300000000000002" stroke-linecap="butt"/>
<line x1="655.70" y1="616.20" x2="655.70" y2="625.70" stroke="#c9c9c9" stroke-width="1.1" stroke-linecap="butt"/>
<line x1="655.70" y1="635.90" x2="655.70" y2="645.40" stroke="#c9c9c9" stroke-width="1.1" stroke-linecap="butt"/>
<line x1="653.10" y1="616.20" x2="658.30" y2="616.20" stroke="#c9c9c9" stroke-width="1.4300000000000002" stroke-linecap="butt"/>
<line x1="653.10" y1="645.40" x2="658.30" y2="645.40" stroke="#c9c9c9" stroke-width="1.4300000000000002" stroke-linecap="butt"/>
<line x1="659.90" y1="609.23" x2="659.90" y2="620.20" stroke="#c9c9c9" stroke-width="1.1" stroke-linecap="butt"/>
<line x1="659.90" y1="630.40" x2="659.90" y2="641.37" stroke="#c9c9c9" stroke-width="1.1" stroke-linecap="butt"/>
<line x1="657.30" y1="609.23" x2="662.50" y2="609.23" stroke="#c9c9c9" stroke-width="1.4300000000000002" stroke-linecap="butt"/>
<line x1="657.30" y1="641.37" x2="662.50" y2="641.37" stroke="#c9c9c9" stroke-width="1.4300000000000002" stroke-linecap="butt"/>
<line x1="663.30" y1="639.11" x2="663.30" y2="647.00" stroke="#c9c9c9" stroke-width="1.1" stroke-linecap="butt"/>
<line x1="663.30" y1="657.20" x2="663.30" y2="665.09" stroke="#c9c9c9" stroke-width="1.1" stroke-linecap="butt"/>
<line x1="660.70" y1="639.11" x2="665.90" y2="639.11" stroke="#c9c9c9" stroke-width="1.4300000000000002" stroke-linecap="butt"/>
<line x1="660.70" y1="665.09" x2="665.90" y2="665.09" stroke="#c9c9c9" stroke-width="1.4300000000000002" stroke-linecap="butt"/>
<line x1="667.40" y1="618.78" x2="667.40" y2="629.90" stroke="#c9c9c9" stroke-width="1.1" stroke-linecap="butt"/>
<line x1="667.40" y1="640.10" x2="667.40" y2="651.22" stroke="#c9c9c9" stroke-width="1.1" stroke-linecap="butt"/>
<line x1="664.80" y1="618.78" x2="670.00" y2="618.78" stroke="#c9c9c9" stroke-width="1.4300000000000002" stroke-linecap="butt"/>
<line x1="664.80" y1="651.22" x2="670.00" y2="651.22" stroke="#c9c9c9" stroke-width="1.4300000000000002" stroke-linecap="butt"/>
<line x1="670.80" y1="657.55" x2="670.80" y2="667.00" stroke="#c9c9c9" stroke-width="1.1" stroke-linecap="butt"/>
<line x1="670.80" y1="677.20" x2="670.80" y2="686.65" stroke="#c9c9c9" stroke-width="1.1" stroke-linecap="butt"/>
<line x1="668.20" y1="657.55" x2="673.40" y2="657.55" stroke="#c9c9c9" stroke-width="1.4300000000000002" stroke-linecap="butt"/>
<line x1="668.20" y1="686.65" x2="673.40" y2="686.65" stroke="#c9c9c9" stroke-width="1.4300000000000002" stroke-linecap="butt"/>
<line x1="675.00" y1="629.26" x2="675.00" y2="635.40" stroke="#c9c9c9" stroke-width="1.1" stroke-linecap="butt"/>
<line x1="675.00" y1="645.60" x2="675.00" y2="651.74" stroke="#c9c9c9" stroke-width="1.1" stroke-linecap="butt"/>
<line x1="672.40" y1="629.26" x2="677.60" y2="629.26" stroke="#c9c9c9" stroke-width="1.4300000000000002" stroke-linecap="butt"/>
<line x1="672.40" y1="651.74" x2="677.60" y2="651.74" stroke="#c9c9c9" stroke-width="1.4300000000000002" stroke-linecap="butt"/>
<line x1="679.10" y1="627.19" x2="679.10" y2="640.90" stroke="#c9c9c9" stroke-width="1.1" stroke-linecap="butt"/>
<line x1="679.10" y1="651.10" x2="679.10" y2="664.81" stroke="#c9c9c9" stroke-width="1.1" stroke-linecap="butt"/>
<line x1="676.50" y1="627.19" x2="681.70" y2="627.19" stroke="#c9c9c9" stroke-width="1.4300000000000002" stroke-linecap="butt"/>
<line x1="676.50" y1="664.81" x2="681.70" y2="664.81" stroke="#c9c9c9" stroke-width="1.4300000000000002" stroke-linecap="butt"/>
<line x1="682.50" y1="631.76" x2="682.50" y2="638.10" stroke="#c9c9c9" stroke-width="1.1" stroke-linecap="butt"/>
<line x1="682.50" y1="648.30" x2="682.50" y2="654.64" stroke="#c9c9c9" stroke-width="1.1" stroke-linecap="butt"/>
<line x1="679.90" y1="631.76" x2="685.10" y2="631.76" stroke="#c9c9c9" stroke-width="1.4300000000000002" stroke-linecap="butt"/>
<line x1="679.90" y1="654.64" x2="685.10" y2="654.64" stroke="#c9c9c9" stroke-width="1.4300000000000002" stroke-linecap="butt"/>
<line x1="686.60" y1="638.02" x2="686.60" y2="653.90" stroke="#c9c9c9" stroke-width="1.1" stroke-linecap="butt"/>
<line x1="686.60" y1="664.10" x2="686.60" y2="679.98" stroke="#c9c9c9" stroke-width="1.1" stroke-linecap="butt"/>
<line x1="684.00" y1="638.02" x2="689.20" y2="638.02" stroke="#c9c9c9" stroke-width="1.4300000000000002" stroke-linecap="butt"/>
<line x1="684.00" y1="679.98" x2="689.20" y2="679.98" stroke="#c9c9c9" stroke-width="1.4300000000000002" stroke-linecap="butt"/>
<line x1="690.80" y1="636.24" x2="690.80" y2="641.50" stroke="#c9c9c9" stroke-width="1.1" stroke-linecap="butt"/>
<line x1="690.80" y1="651.70" x2="690.80" y2="656.96" stroke="#c9c9c9" stroke-width="1.1" stroke-linecap="butt"/>
<line x1="688.20" y1="636.24" x2="693.40" y2="636.24" stroke="#c9c9c9" stroke-width="1.4300000000000002" stroke-linecap="butt"/>
<line x1="688.20" y1="656.96" x2="693.40" y2="656.96" stroke="#c9c9c9" stroke-width="1.4300000000000002" stroke-linecap="butt"/>
<line x1="694.20" y1="657.97" x2="694.20" y2="673.80" stroke="#c9c9c9" stroke-width="1.1" stroke-linecap="butt"/>
<line x1="694.20" y1="684.00" x2="694.20" y2="699.83" stroke="#c9c9c9" stroke-width="1.1" stroke-linecap="butt"/>
<line x1="691.60" y1="657.97" x2="696.80" y2="657.97" stroke="#c9c9c9" stroke-width="1.4300000000000002" stroke-linecap="butt"/>
<line x1="691.60" y1="699.83" x2="696.80" y2="699.83" stroke="#c9c9c9" stroke-width="1.4300000000000002" stroke-linecap="butt"/>
<line x1="698.30" y1="637.69" x2="698.30" y2="653.90" stroke="#c9c9c9" stroke-width="1.1" stroke-linecap="butt"/>
<line x1="698.30" y1="664.10" x2="698.30" y2="680.31" stroke="#c9c9c9" stroke-width="1.1" stroke-linecap="butt"/>
<line x1="695.70" y1="637.69" x2="700.90" y2="637.69" stroke="#c9c9c9" stroke-width="1.4300000000000002" stroke-linecap="butt"/>
<line x1="695.70" y1="680.31" x2="700.90" y2="680.31" stroke="#c9c9c9" stroke-width="1.4300000000000002" stroke-linecap="butt"/>
<line x1="702.50" y1="636.54" x2="702.50" y2="648.40" stroke="#c9c9c9" stroke-width="1.1" stroke-linecap="butt"/>
<line x1="702.50" y1="658.60" x2="702.50" y2="670.46" stroke="#c9c9c9" stroke-width="1.1" stroke-linecap="butt"/>
<line x1="699.90" y1="636.54" x2="705.10" y2="636.54" stroke="#c9c9c9" stroke-width="1.4300000000000002" stroke-linecap="butt"/>
<line x1="699.90" y1="670.46" x2="705.10" y2="670.46" stroke="#c9c9c9" stroke-width="1.4300000000000002" stroke-linecap="butt"/>
<line x1="705.90" y1="621.27" x2="705.90" y2="636.10" stroke="#c9c9c9" stroke-width="1.1" stroke-linecap="butt"/>
<line x1="705.90" y1="646.30" x2="705.90" y2="661.13" stroke="#c9c9c9" stroke-width="1.1" stroke-linecap="butt"/>
<line x1="703.30" y1="621.27" x2="708.50" y2="621.27" stroke="#c9c9c9" stroke-width="1.4300000000000002" stroke-linecap="butt"/>
<line x1="703.30" y1="661.13" x2="708.50" y2="661.13" stroke="#c9c9c9" stroke-width="1.4300000000000002" stroke-linecap="butt"/>
<line x1="710.00" y1="635.22" x2="710.00" y2="643.60" stroke="#c9c9c9" stroke-width="1.1" stroke-linecap="butt"/>
<line x1="710.00" y1="653.80" x2="710.00" y2="662.18" stroke="#c9c9c9" stroke-width="1.1" stroke-linecap="butt"/>
<line x1="707.40" y1="635.22" x2="712.60" y2="635.22" stroke="#c9c9c9" stroke-width="1.4300000000000002" stroke-linecap="butt"/>
<line x1="707.40" y1="662.18" x2="712.60" y2="662.18" stroke="#c9c9c9" stroke-width="1.4300000000000002" stroke-linecap="butt"/>
<line x1="714.10" y1="629.07" x2="714.10" y2="644.30" stroke="#c9c9c9" stroke-width="1.1" stroke-linecap="butt"/>
<line x1="714.10" y1="654.50" x2="714.10" y2="669.73" stroke="#c9c9c9" stroke-width="1.1" stroke-linecap="butt"/>
<line x1="711.50" y1="629.07" x2="716.70" y2="629.07" stroke="#c9c9c9" stroke-width="1.4300000000000002" stroke-linecap="butt"/>
<line x1="711.50" y1="669.73" x2="716.70" y2="669.73" stroke="#c9c9c9" stroke-width="1.4300000000000002" stroke-linecap="butt"/>
<line x1="717.60" y1="636.85" x2="717.60" y2="647.70" stroke="#c9c9c9" stroke-width="1.1" stroke-linecap="butt"/>
<line x1="717.60" y1="657.90" x2="717.60" y2="668.75" stroke="#c9c9c9" stroke-width="1.1" stroke-linecap="butt"/>
<line x1="715.00" y1="636.85" x2="720.20" y2="636.85" stroke="#c9c9c9" stroke-width="1.4300000000000002" stroke-linecap="butt"/>
<line x1="715.00" y1="668.75" x2="720.20" y2="668.75" stroke="#c9c9c9" stroke-width="1.4300000000000002" stroke-linecap="butt"/>
<line x1="721.70" y1="627.97" x2="721.70" y2="636.10" stroke="#c9c9c9" stroke-width="1.1" stroke-linecap="butt"/>
<line x1="721.70" y1="646.30" x2="721.70" y2="654.43" stroke="#c9c9c9" stroke-width="1.1" stroke-linecap="butt"/>
<line x1="719.10" y1="627.97" x2="724.30" y2="627.97" stroke="#c9c9c9" stroke-width="1.4300000000000002" stroke-linecap="butt"/>
<line x1="719.10" y1="654.43" x2="724.30" y2="654.43" stroke="#c9c9c9" stroke-width="1.4300000000000002" stroke-linecap="butt"/>
<line x1="725.80" y1="614.90" x2="725.80" y2="633.30" stroke="#c9c9c9" stroke-width="1.1" stroke-linecap="butt"/>
<line x1="725.80" y1="643.50" x2="725.80" y2="661.90" stroke="#c9c9c9" stroke-width="1.1" stroke-linecap="butt"/>
<line x1="723.20" y1="614.90" x2="728.40" y2="614.90" stroke="#c9c9c9" stroke-width="1.4300000000000002" stroke-linecap="butt"/>
<line x1="723.20" y1="661.90" x2="728.40" y2="661.90" stroke="#c9c9c9" stroke-width="1.4300000000000002" stroke-linecap="butt"/>
<line x1="729.90" y1="622.09" x2="729.90" y2="632.60" stroke="#c9c9c9" stroke-width="1.1" stroke-linecap="butt"/>
<line x1="729.90" y1="642.80" x2="729.90" y2="653.31" stroke="#c9c9c9" stroke-width="1.1" stroke-linecap="butt"/>
<line x1="727.30" y1="622.09" x2="732.50" y2="622.09" stroke="#c9c9c9" stroke-width="1.4300000000000002" stroke-linecap="butt"/>
<line x1="727.30" y1="653.31" x2="732.50" y2="653.31" stroke="#c9c9c9" stroke-width="1.4300000000000002" stroke-linecap="butt"/>
<line x1="733.40" y1="647.88" x2="733.40" y2="658.00" stroke="#c9c9c9" stroke-width="1.1" stroke-linecap="butt"/>
<line x1="733.40" y1="668.20" x2="733.40" y2="678.32" stroke="#c9c9c9" stroke-width="1.1" stroke-linecap="butt"/>
<line x1="730.80" y1="647.88" x2="736.00" y2="647.88" stroke="#c9c9c9" stroke-width="1.4300000000000002" stroke-linecap="butt"/>
<line x1="730.80" y1="678.32" x2="736.00" y2="678.32" stroke="#c9c9c9" stroke-width="1.4300000000000002" stroke-linecap="butt"/>
<line x1="737.50" y1="633.56" x2="737.50" y2="650.50" stroke="#c9c9c9" stroke-width="1.1" stroke-linecap="butt"/>
<line x1="737.50" y1="660.70" x2="737.50" y2="677.64" stroke="#c9c9c9" stroke-width="1.1" stroke-linecap="butt"/>
<line x1="734.90" y1="633.56" x2="740.10" y2="633.56" stroke="#c9c9c9" stroke-width="1.4300000000000002" stroke-linecap="butt"/>
<line x1="734.90" y1="677.64" x2="740.10" y2="677.64" stroke="#c9c9c9" stroke-width="1.4300000000000002" stroke-linecap="butt"/>
<line x1="741.50" y1="644.73" x2="741.50" y2="654.80" stroke="#c9c9c9" stroke-width="1.1" stroke-linecap="butt"/>
<line x1="741.50" y1="665.00" x2="741.50" y2="675.07" stroke="#c9c9c9" stroke-width="1.1" stroke-linecap="butt"/>
<line x1="738.90" y1="644.73" x2="744.10" y2="644.73" stroke="#c9c9c9" stroke-width="1.4300000000000002" stroke-linecap="butt"/>
<line x1="738.90" y1="675.07" x2="744.10" y2="675.07" stroke="#c9c9c9" stroke-width="1.4300000000000002" stroke-linecap="butt"/>
<line x1="745.20" y1="630.95" x2="745.20" y2="645.20" stroke="#c9c9c9" stroke-width="1.1" stroke-linecap="butt"/>
<line x1="745.20" y1="655.40" x2="745.20" y2="669.65" stroke="#c9c9c9" stroke-width="1.1" stroke-linecap="butt"/>
<line x1="742.60" y1="630.95" x2="747.80" y2="630.95" stroke="#c9c9c9" stroke-width="1.4300000000000002" stroke-linecap="butt"/>
<line x1="742.60" y1="669.65" x2="747.80" y2="669.65" stroke="#c9c9c9" stroke-width="1.4300000000000002" stroke-linecap="butt"/>
<line x1="748.90" y1="643.11" x2="748.90" y2="650.40" stroke="#c9c9c9" stroke-width="1.1" stroke-linecap="butt"/>
<line x1="748.90" y1="660.60" x2="748.90" y2="667.89" stroke="#c9c9c9" stroke-width="1.1" stroke-linecap="butt"/>
<line x1="746.30" y1="643.11" x2="751.50" y2="643.11" stroke="#c9c9c9" stroke-width="1.4300000000000002" stroke-linecap="butt"/>
<line x1="746.30" y1="667.89" x2="751.50" y2="667.89" stroke="#c9c9c9" stroke-width="1.4300000000000002" stroke-linecap="butt"/>
<line x1="752.60" y1="656.59" x2="752.60" y2="673.30" stroke="#c9c9c9" stroke-width="1.1" stroke-linecap="butt"/>
<line x1="752.60" y1="683.50" x2="752.60" y2="700.21" stroke="#c9c9c9" stroke-width="1.1" stroke-linecap="butt"/>
<line x1="750.00" y1="656.59" x2="755.20" y2="656.59" stroke="#c9c9c9" stroke-width="1.4300000000000002" stroke-linecap="butt"/>
<line x1="750.00" y1="700.21" x2="755.20" y2="700.21" stroke="#c9c9c9" stroke-width="1.4300000000000002" stroke-linecap="butt"/>
<line x1="757.00" y1="651.48" x2="757.00" y2="660.00" stroke="#c9c9c9" stroke-width="1.1" stroke-linecap="butt"/>
<line x1="757.00" y1="670.20" x2="757.00" y2="678.72" stroke="#c9c9c9" stroke-width="1.1" stroke-linecap="butt"/>
<line x1="754.40" y1="651.48" x2="759.60" y2="651.48" stroke="#c9c9c9" stroke-width="1.4300000000000002" stroke-linecap="butt"/>
<line x1="754.40" y1="678.72" x2="759.60" y2="678.72" stroke="#c9c9c9" stroke-width="1.4300000000000002" stroke-linecap="butt"/>
<line x1="760.70" y1="653.69" x2="760.70" y2="659.30" stroke="#c9c9c9" stroke-width="1.1" stroke-linecap="butt"/>
<line x1="760.70" y1="669.50" x2="760.70" y2="675.11" stroke="#c9c9c9" stroke-width="1.1" stroke-linecap="butt"/>
<line x1="758.10" y1="653.69" x2="763.30" y2="653.69" stroke="#c9c9c9" stroke-width="1.4300000000000002" stroke-linecap="butt"/>
<line x1="758.10" y1="675.11" x2="763.30" y2="675.11" stroke="#c9c9c9" stroke-width="1.4300000000000002" stroke-linecap="butt"/>
<line x1="764.40" y1="648.85" x2="764.40" y2="667.40" stroke="#c9c9c9" stroke-width="1.1" stroke-linecap="butt"/>
<line x1="764.40" y1="677.60" x2="764.40" y2="696.15" stroke="#c9c9c9" stroke-width="1.1" stroke-linecap="butt"/>
<line x1="761.80" y1="648.85" x2="767.00" y2="648.85" stroke="#c9c9c9" stroke-width="1.4300000000000002" stroke-linecap="butt"/>
<line x1="761.80" y1="696.15" x2="767.00" y2="696.15" stroke="#c9c9c9" stroke-width="1.4300000000000002" stroke-linecap="butt"/>
<line x1="768.10" y1="625.28" x2="768.10" y2="632.60" stroke="#c9c9c9" stroke-width="1.1" stroke-linecap="butt"/>
<line x1="768.10" y1="642.80" x2="768.10" y2="650.12" stroke="#c9c9c9" stroke-width="1.1" stroke-linecap="butt"/>
<line x1="765.50" y1="625.28" x2="770.70" y2="625.28" stroke="#c9c9c9" stroke-width="1.4300000000000002" stroke-linecap="butt"/>
<line x1="765.50" y1="650.12" x2="770.70" y2="650.12" stroke="#c9c9c9" stroke-width="1.4300000000000002" stroke-linecap="butt"/>
<line x1="771.80" y1="647.75" x2="771.80" y2="665.90" stroke="#c9c9c9" stroke-width="1.1" stroke-linecap="butt"/>
<line x1="771.80" y1="676.10" x2="771.80" y2="694.25" stroke="#c9c9c9" stroke-width="1.1" stroke-linecap="butt"/>
<line x1="769.20" y1="647.75" x2="774.40" y2="647.75" stroke="#c9c9c9" stroke-width="1.4300000000000002" stroke-linecap="butt"/>
<line x1="769.20" y1="694.25" x2="774.40" y2="694.25" stroke="#c9c9c9" stroke-width="1.4300000000000002" stroke-linecap="butt"/>
<line x1="776.30" y1="622.79" x2="776.30" y2="641.50" stroke="#c9c9c9" stroke-width="1.1" stroke-linecap="butt"/>
<line x1="776.30" y1="651.70" x2="776.30" y2="670.41" stroke="#c9c9c9" stroke-width="1.1" stroke-linecap="butt"/>
<line x1="773.70" y1="622.79" x2="778.90" y2="622.79" stroke="#c9c9c9" stroke-width="1.4300000000000002" stroke-linecap="butt"/>
<line x1="773.70" y1="670.41" x2="778.90" y2="670.41" stroke="#c9c9c9" stroke-width="1.4300000000000002" stroke-linecap="butt"/>
<line x1="780.00" y1="638.51" x2="780.00" y2="651.90" stroke="#c9c9c9" stroke-width="1.1" stroke-linecap="butt"/>
<line x1="780.00" y1="662.10" x2="780.00" y2="675.49" stroke="#c9c9c9" stroke-width="1.1" stroke-linecap="butt"/>
<line x1="777.40" y1="638.51" x2="782.60" y2="638.51" stroke="#c9c9c9" stroke-width="1.4300000000000002" stroke-linecap="butt"/>
<line x1="777.40" y1="675.49" x2="782.60" y2="675.49" stroke="#c9c9c9" stroke-width="1.4300000000000002" stroke-linecap="butt"/>
<line x1="783.70" y1="663.83" x2="783.70" y2="668.90" stroke="#c9c9c9" stroke-width="1.1" stroke-linecap="butt"/>
<line x1="783.70" y1="679.10" x2="783.70" y2="684.17" stroke="#c9c9c9" stroke-width="1.1" stroke-linecap="butt"/>
<line x1="781.10" y1="663.83" x2="786.30" y2="663.83" stroke="#c9c9c9" stroke-width="1.4300000000000002" stroke-linecap="butt"/>
<line x1="781.10" y1="684.17" x2="786.30" y2="684.17" stroke="#c9c9c9" stroke-width="1.4300000000000002" stroke-linecap="butt"/>
<line x1="788.10" y1="660.15" x2="788.10" y2="665.90" stroke="#c9c9c9" stroke-width="1.1" stroke-linecap="butt"/>
<line x1="788.10" y1="676.10" x2="788.10" y2="681.85" stroke="#c9c9c9" stroke-width="1.1" stroke-linecap="butt"/>
<line x1="785.50" y1="660.15" x2="790.70" y2="660.15" stroke="#c9c9c9" stroke-width="1.4300000000000002" stroke-linecap="butt"/>
<line x1="785.50" y1="681.85" x2="790.70" y2="681.85" stroke="#c9c9c9" stroke-width="1.4300000000000002" stroke-linecap="butt"/>
<line x1="791.80" y1="671.48" x2="791.80" y2="679.30" stroke="#c9c9c9" stroke-width="1.1" stroke-linecap="butt"/>
<line x1="791.80" y1="689.50" x2="791.80" y2="697.32" stroke="#c9c9c9" stroke-width="1.1" stroke-linecap="butt"/>
<line x1="789.20" y1="671.48" x2="794.40" y2="671.48" stroke="#c9c9c9" stroke-width="1.4300000000000002" stroke-linecap="butt"/>
<line x1="789.20" y1="697.32" x2="794.40" y2="697.32" stroke="#c9c9c9" stroke-width="1.4300000000000002" stroke-linecap="butt"/>
<line x1="795.50" y1="649.66" x2="795.50" y2="660.00" stroke="#c9c9c9" stroke-width="1.1" stroke-linecap="butt"/>
<line x1="795.50" y1="670.20" x2="795.50" y2="680.54" stroke="#c9c9c9" stroke-width="1.1" stroke-linecap="butt"/>
<line x1="792.90" y1="649.66" x2="798.10" y2="649.66" stroke="#c9c9c9" stroke-width="1.4300000000000002" stroke-linecap="butt"/>
<line x1="792.90" y1="680.54" x2="798.10" y2="680.54" stroke="#c9c9c9" stroke-width="1.4300000000000002" stroke-linecap="butt"/>
<line x1="799.90" y1="646.54" x2="799.90" y2="660.00" stroke="#c9c9c9" stroke-width="1.1" stroke-linecap="butt"/>
<line x1="799.90" y1="670.20" x2="799.90" y2="683.66" stroke="#c9c9c9" stroke-width="1.1" stroke-linecap="butt"/>
<line x1="797.30" y1="646.54" x2="802.50" y2="646.54" stroke="#c9c9c9" stroke-width="1.4300000000000002" stroke-linecap="butt"/>
<line x1="797.30" y1="683.66" x2="802.50" y2="683.66" stroke="#c9c9c9" stroke-width="1.4300000000000002" stroke-linecap="butt"/>
<line x1="803.60" y1="653.47" x2="803.60" y2="671.90" stroke="#c9c9c9" stroke-width="1.1" stroke-linecap="butt"/>
<line x1="803.60" y1="682.10" x2="803.60" y2="700.53" stroke="#c9c9c9" stroke-width="1.1" stroke-linecap="butt"/>
<line x1="801.00" y1="653.47" x2="806.20" y2="653.47" stroke="#c9c9c9" stroke-width="1.4300000000000002" stroke-linecap="butt"/>
<line x1="801.00" y1="700.53" x2="806.20" y2="700.53" stroke="#c9c9c9" stroke-width="1.4300000000000002" stroke-linecap="butt"/>
<line x1="807.30" y1="650.94" x2="807.30" y2="660.80" stroke="#c9c9c9" stroke-width="1.1" stroke-linecap="butt"/>
<line x1="807.30" y1="671.00" x2="807.30" y2="680.86" stroke="#c9c9c9" stroke-width="1.1" stroke-linecap="butt"/>
<line x1="804.70" y1="650.94" x2="809.90" y2="650.94" stroke="#c9c9c9" stroke-width="1.4300000000000002" stroke-linecap="butt"/>
<line x1="804.70" y1="680.86" x2="809.90" y2="680.86" stroke="#c9c9c9" stroke-width="1.4300000000000002" stroke-linecap="butt"/>
<line x1="811.00" y1="663.53" x2="811.00" y2="670.40" stroke="#c9c9c9" stroke-width="1.1" stroke-linecap="butt"/>
<line x1="811.00" y1="680.60" x2="811.00" y2="687.47" stroke="#c9c9c9" stroke-width="1.1" stroke-linecap="butt"/>
<line x1="808.40" y1="663.53" x2="813.60" y2="663.53" stroke="#c9c9c9" stroke-width="1.4300000000000002" stroke-linecap="butt"/>
<line x1="808.40" y1="687.47" x2="813.60" y2="687.47" stroke="#c9c9c9" stroke-width="1.4300000000000002" stroke-linecap="butt"/>
<line x1="815.50" y1="636.93" x2="815.50" y2="649.70" stroke="#c9c9c9" stroke-width="1.1" stroke-linecap="butt"/>
<line x1="815.50" y1="659.90" x2="815.50" y2="672.67" stroke="#c9c9c9" stroke-width="1.1" stroke-linecap="butt"/>
<line x1="812.90" y1="636.93" x2="818.10" y2="636.93" stroke="#c9c9c9" stroke-width="1.4300000000000002" stroke-linecap="butt"/>
<line x1="812.90" y1="672.67" x2="818.10" y2="672.67" stroke="#c9c9c9" stroke-width="1.4300000000000002" stroke-linecap="butt"/>
<line x1="819.20" y1="663.58" x2="819.20" y2="670.40" stroke="#c9c9c9" stroke-width="1.1" stroke-linecap="butt"/>
<line x1="819.20" y1="680.60" x2="819.20" y2="687.42" stroke="#c9c9c9" stroke-width="1.1" stroke-linecap="butt"/>
<line x1="816.60" y1="663.58" x2="821.80" y2="663.58" stroke="#c9c9c9" stroke-width="1.4300000000000002" stroke-linecap="butt"/>
<line x1="816.60" y1="687.42" x2="821.80" y2="687.42" stroke="#c9c9c9" stroke-width="1.4300000000000002" stroke-linecap="butt"/>
<line x1="822.90" y1="653.89" x2="822.90" y2="660.00" stroke="#c9c9c9" stroke-width="1.1" stroke-linecap="butt"/>
<line x1="822.90" y1="670.20" x2="822.90" y2="676.31" stroke="#c9c9c9" stroke-width="1.1" stroke-linecap="butt"/>
<line x1="820.30" y1="653.89" x2="825.50" y2="653.89" stroke="#c9c9c9" stroke-width="1.4300000000000002" stroke-linecap="butt"/>
<line x1="820.30" y1="676.31" x2="825.50" y2="676.31" stroke="#c9c9c9" stroke-width="1.4300000000000002" stroke-linecap="butt"/>
<line x1="826.60" y1="647.32" x2="826.60" y2="660.00" stroke="#c9c9c9" stroke-width="1.1" stroke-linecap="butt"/>
<line x1="826.60" y1="670.20" x2="826.60" y2="682.88" stroke="#c9c9c9" stroke-width="1.1" stroke-linecap="butt"/>
<line x1="824.00" y1="647.32" x2="829.20" y2="647.32" stroke="#c9c9c9" stroke-width="1.4300000000000002" stroke-linecap="butt"/>
<line x1="824.00" y1="682.88" x2="829.20" y2="682.88" stroke="#c9c9c9" stroke-width="1.4300000000000002" stroke-linecap="butt"/>
<line x1="830.30" y1="649.86" x2="830.30" y2="664.50" stroke="#c9c9c9" stroke-width="1.1" stroke-linecap="butt"/>
<line x1="830.30" y1="674.70" x2="830.30" y2="689.34" stroke="#c9c9c9" stroke-width="1.1" stroke-linecap="butt"/>
<line x1="827.70" y1="649.86" x2="832.90" y2="649.86" stroke="#c9c9c9" stroke-width="1.4300000000000002" stroke-linecap="butt"/>
<line x1="827.70" y1="689.34" x2="832.90" y2="689.34" stroke="#c9c9c9" stroke-width="1.4300000000000002" stroke-linecap="butt"/>
<line x1="834.70" y1="645.28" x2="834.70" y2="651.10" stroke="#c9c9c9" stroke-width="1.1" stroke-linecap="butt"/>
<line x1="834.70" y1="661.30" x2="834.70" y2="667.12" stroke="#c9c9c9" stroke-width="1.1" stroke-linecap="butt"/>
<line x1="832.10" y1="645.28" x2="837.30" y2="645.28" stroke="#c9c9c9" stroke-width="1.4300000000000002" stroke-linecap="butt"/>
<line x1="832.10" y1="667.12" x2="837.30" y2="667.12" stroke="#c9c9c9" stroke-width="1.4300000000000002" stroke-linecap="butt"/>
<line x1="838.40" y1="669.48" x2="838.40" y2="680.70" stroke="#c9c9c9" stroke-width="1.1" stroke-linecap="butt"/>
<line x1="838.40" y1="690.90" x2="838.40" y2="702.12" stroke="#c9c9c9" stroke-width="1.1" stroke-linecap="butt"/>
<line x1="835.80" y1="669.48" x2="841.00" y2="669.48" stroke="#c9c9c9" stroke-width="1.4300000000000002" stroke-linecap="butt"/>
<line x1="835.80" y1="702.12" x2="841.00" y2="702.12" stroke="#c9c9c9" stroke-width="1.4300000000000002" stroke-linecap="butt"/>
<line x1="842.10" y1="646.75" x2="842.10" y2="661.50" stroke="#c9c9c9" stroke-width="1.1" stroke-linecap="butt"/>
<line x1="842.10" y1="671.70" x2="842.10" y2="686.45" stroke="#c9c9c9" stroke-width="1.1" stroke-linecap="butt"/>
<line x1="839.50" y1="646.75" x2="844.70" y2="646.75" stroke="#c9c9c9" stroke-width="1.4300000000000002" stroke-linecap="butt"/>
<line x1="839.50" y1="686.45" x2="844.70" y2="686.45" stroke="#c9c9c9" stroke-width="1.4300000000000002" stroke-linecap="butt"/>
<line x1="846.60" y1="654.00" x2="846.60" y2="669.60" stroke="#c9c9c9" stroke-width="1.1" stroke-linecap="butt"/>
<line x1="846.60" y1="679.80" x2="846.60" y2="695.40" stroke="#c9c9c9" stroke-width="1.1" stroke-linecap="butt"/>
<line x1="844.00" y1="654.00" x2="849.20" y2="654.00" stroke="#c9c9c9" stroke-width="1.4300000000000002" stroke-linecap="butt"/>
<line x1="844.00" y1="695.40" x2="849.20" y2="695.40" stroke="#c9c9c9" stroke-width="1.4300000000000002" stroke-linecap="butt"/>
<line x1="850.30" y1="639.44" x2="850.30" y2="649.70" stroke="#c9c9c9" stroke-width="1.1" stroke-linecap="butt"/>
<line x1="850.30" y1="659.90" x2="850.30" y2="670.16" stroke="#c9c9c9" stroke-width="1.1" stroke-linecap="butt"/>
<line x1="847.70" y1="639.44" x2="852.90" y2="639.44" stroke="#c9c9c9" stroke-width="1.4300000000000002" stroke-linecap="butt"/>
<line x1="847.70" y1="670.16" x2="852.90" y2="670.16" stroke="#c9c9c9" stroke-width="1.4300000000000002" stroke-linecap="butt"/>
<line x1="854.70" y1="641.98" x2="854.70" y2="659.30" stroke="#c9c9c9" stroke-width="1.1" stroke-linecap="butt"/>
<line x1="854.70" y1="669.50" x2="854.70" y2="686.82" stroke="#c9c9c9" stroke-width="1.1" stroke-linecap="butt"/>
<line x1="852.10" y1="641.98" x2="857.30" y2="641.98" stroke="#c9c9c9" stroke-width="1.4300000000000002" stroke-linecap="butt"/>
<line x1="852.10" y1="686.82" x2="857.30" y2="686.82" stroke="#c9c9c9" stroke-width="1.4300000000000002" stroke-linecap="butt"/>
<line x1="858.40" y1="660.93" x2="858.40" y2="668.20" stroke="#c9c9c9" stroke-width="1.1" stroke-linecap="butt"/>
<line x1="858.40" y1="678.40" x2="858.40" y2="685.67" stroke="#c9c9c9" stroke-width="1.1" stroke-linecap="butt"/>
<line x1="855.80" y1="660.93" x2="861.00" y2="660.93" stroke="#c9c9c9" stroke-width="1.4300000000000002" stroke-linecap="butt"/>
<line x1="855.80" y1="685.67" x2="861.00" y2="685.67" stroke="#c9c9c9" stroke-width="1.4300000000000002" stroke-linecap="butt"/>
<circle cx="568.00" cy="722.90" r="4.1" fill="#1c1c1c"/>
<circle cx="577.80" cy="711.10" r="4.1" fill="#1c1c1c"/>
<circle cx="581.60" cy="726.70" r="4.1" fill="#1c1c1c"/>
<circle cx="590.00" cy="719.50" r="4.1" fill="#1c1c1c"/>
<circle cx="601.00" cy="724.20" r="4.1" fill="#1c1c1c"/>
<circle cx="609.00" cy="719.50" r="4.1" fill="#1c1c1c"/>
<circle cx="620.90" cy="722.90" r="4.1" fill="#1c1c1c"/>
<circle cx="568.50" cy="731.80" r="3.65" fill="#8a8a8a" stroke="#6e6e6e" stroke-width="0.9"/>
<circle cx="570.10" cy="711.10" r="3.65" fill="#8a8a8a" stroke="#6e6e6e" stroke-width="0.9"/>
<circle cx="573.50" cy="714.50" r="3.65" fill="#8a8a8a" stroke="#6e6e6e" stroke-width="0.9"/>
<circle cx="577.00" cy="716.50" r="3.65" fill="#8a8a8a" stroke="#6e6e6e" stroke-width="0.9"/>
<circle cx="581.60" cy="729.70" r="3.65" fill="#8a8a8a" stroke="#6e6e6e" stroke-width="0.9"/>
<circle cx="585.40" cy="711.10" r="3.65" fill="#8a8a8a" stroke="#6e6e6e" stroke-width="0.9"/>
<circle cx="588.50" cy="716.00" r="3.65" fill="#8a8a8a" stroke="#6e6e6e" stroke-width="0.9"/>
<circle cx="592.00" cy="717.00" r="3.65" fill="#8a8a8a" stroke="#6e6e6e" stroke-width="0.9"/>
<circle cx="593.40" cy="727.60" r="3.65" fill="#8a8a8a" stroke="#6e6e6e" stroke-width="0.9"/>
<circle cx="596.00" cy="716.50" r="3.65" fill="#8a8a8a" stroke="#6e6e6e" stroke-width="0.9"/>
<circle cx="599.50" cy="715.50" r="3.65" fill="#8a8a8a" stroke="#6e6e6e" stroke-width="0.9"/>
<circle cx="603.00" cy="716.50" r="3.65" fill="#8a8a8a" stroke="#6e6e6e" stroke-width="0.9"/>
<circle cx="606.50" cy="715.50" r="3.65" fill="#8a8a8a" stroke="#6e6e6e" stroke-width="0.9"/>
<circle cx="610.00" cy="716.00" r="3.65" fill="#8a8a8a" stroke="#6e6e6e" stroke-width="0.9"/>
<circle cx="612.40" cy="713.50" r="3.65" fill="#8a8a8a" stroke="#6e6e6e" stroke-width="0.9"/>
<circle cx="616.70" cy="733.50" r="3.65" fill="#8a8a8a" stroke="#6e6e6e" stroke-width="0.9"/>
<circle cx="620.90" cy="717.80" r="3.65" fill="#8a8a8a" stroke="#6e6e6e" stroke-width="0.9"/>
<line x1="567.10" y1="720.80" x2="871.60" y2="720.80" stroke="#5e5e5e" stroke-width="2.5" stroke-linecap="butt"/>
<circle cx="628.20" cy="651.20" r="4.1" fill="#1c1c1c"/>
<circle cx="632.40" cy="639.50" r="4.1" fill="#1c1c1c"/>
<circle cx="635.80" cy="631.50" r="4.1" fill="#1c1c1c"/>
<circle cx="639.90" cy="628.80" r="4.1" fill="#1c1c1c"/>
<circle cx="644.00" cy="622.60" r="4.1" fill="#1c1c1c"/>
<circle cx="648.20" cy="628.10" r="4.1" fill="#1c1c1c"/>
<circle cx="651.60" cy="641.80" r="4.1" fill="#1c1c1c"/>
<circle cx="655.70" cy="640.50" r="4.1" fill="#1c1c1c"/>
<circle cx="659.50" cy="641.00" r="4.1" fill="#1c1c1c"/>
<circle cx="663.30" cy="641.80" r="4.1" fill="#1c1c1c"/>
<circle cx="667.40" cy="640.50" r="4.1" fill="#1c1c1c"/>
<circle cx="670.80" cy="656.30" r="4.1" fill="#1c1c1c"/>
<circle cx="675.00" cy="648.00" r="4.1" fill="#1c1c1c"/>
<circle cx="679.10" cy="651.50" r="4.1" fill="#1c1c1c"/>
<circle cx="683.20" cy="650.10" r="4.1" fill="#1c1c1c"/>
<circle cx="686.60" cy="654.90" r="4.1" fill="#1c1c1c"/>
<circle cx="690.80" cy="650.80" r="4.1" fill="#1c1c1c"/>
<circle cx="694.20" cy="668.00" r="4.1" fill="#1c1c1c"/>
<circle cx="698.30" cy="653.50" r="4.1" fill="#1c1c1c"/>
<circle cx="702.50" cy="673.20" r="4.1" fill="#1c1c1c"/>
<circle cx="706.60" cy="654.90" r="4.1" fill="#1c1c1c"/>
<circle cx="710.00" cy="661.10" r="4.1" fill="#1c1c1c"/>
<circle cx="714.10" cy="674.10" r="4.1" fill="#1c1c1c"/>
<circle cx="717.60" cy="661.10" r="4.1" fill="#1c1c1c"/>
<circle cx="721.70" cy="663.10" r="4.1" fill="#1c1c1c"/>
<circle cx="725.80" cy="663.80" r="4.1" fill="#1c1c1c"/>
<circle cx="729.90" cy="663.80" r="4.1" fill="#1c1c1c"/>
<circle cx="733.40" cy="685.50" r="4.1" fill="#1c1c1c"/>
<circle cx="737.50" cy="669.30" r="4.1" fill="#1c1c1c"/>
<circle cx="741.50" cy="667.30" r="4.1" fill="#1c1c1c"/>
<circle cx="745.20" cy="674.00" r="4.1" fill="#1c1c1c"/>
<circle cx="748.90" cy="669.60" r="4.1" fill="#1c1c1c"/>
<circle cx="752.60" cy="685.10" r="4.1" fill="#1c1c1c"/>
<circle cx="757.00" cy="671.80" r="4.1" fill="#1c1c1c"/>
<circle cx="760.70" cy="668.00" r="4.1" fill="#1c1c1c"/>
<circle cx="764.40" cy="685.10" r="4.1" fill="#1c1c1c"/>
<circle cx="768.90" cy="662.20" r="4.1" fill="#1c1c1c"/>
<circle cx="772.60" cy="672.50" r="4.1" fill="#1c1c1c"/>
<circle cx="776.00" cy="668.00" r="4.1" fill="#1c1c1c"/>
<circle cx="779.20" cy="670.30" r="4.1" fill="#1c1c1c"/>
<circle cx="783.70" cy="689.50" r="4.1" fill="#1c1c1c"/>
<circle cx="787.40" cy="681.40" r="4.1" fill="#1c1c1c"/>
<circle cx="791.80" cy="691.80" r="4.1" fill="#1c1c1c"/>
<circle cx="795.50" cy="679.20" r="4.1" fill="#1c1c1c"/>
<circle cx="799.90" cy="688.10" r="4.1" fill="#1c1c1c"/>
<circle cx="804.40" cy="682.90" r="4.1" fill="#1c1c1c"/>
<circle cx="808.10" cy="671.80" r="4.1" fill="#1c1c1c"/>
<circle cx="811.80" cy="668.00" r="4.1" fill="#1c1c1c"/>
<circle cx="815.50" cy="665.90" r="4.1" fill="#1c1c1c"/>
<circle cx="819.20" cy="682.10" r="4.1" fill="#1c1c1c"/>
<circle cx="822.90" cy="668.10" r="4.1" fill="#1c1c1c"/>
<circle cx="826.60" cy="668.00" r="4.1" fill="#1c1c1c"/>
<circle cx="830.30" cy="672.00" r="4.1" fill="#1c1c1c"/>
<circle cx="834.70" cy="661.40" r="4.1" fill="#1c1c1c"/>
<circle cx="837.70" cy="672.50" r="4.1" fill="#1c1c1c"/>
<circle cx="842.10" cy="677.70" r="4.1" fill="#1c1c1c"/>
<circle cx="847.30" cy="668.10" r="4.1" fill="#1c1c1c"/>
<circle cx="850.30" cy="679.90" r="4.1" fill="#1c1c1c"/>
<circle cx="854.00" cy="677.00" r="4.1" fill="#1c1c1c"/>
<circle cx="858.40" cy="674.00" r="4.1" fill="#1c1c1c"/>
<circle cx="628.20" cy="625.10" r="3.65" fill="#8a8a8a" stroke="#6e6e6e" stroke-width="0.9"/>
<circle cx="632.40" cy="612.30" r="3.65" fill="#8a8a8a" stroke="#6e6e6e" stroke-width="0.9"/>
<circle cx="636.50" cy="615.00" r="3.65" fill="#8a8a8a" stroke="#6e6e6e" stroke-width="0.9"/>
<circle cx="640.60" cy="631.50" r="3.65" fill="#8a8a8a" stroke="#6e6e6e" stroke-width="0.9"/>
<circle cx="644.00" cy="628.80" r="3.65" fill="#8a8a8a" stroke="#6e6e6e" stroke-width="0.9"/>
<circle cx="648.20" cy="633.60" r="3.65" fill="#8a8a8a" stroke="#6e6e6e" stroke-width="0.9"/>
<circle cx="651.60" cy="651.20" r="3.65" fill="#8a8a8a" stroke="#6e6e6e" stroke-width="0.9"/>
<circle cx="655.70" cy="630.80" r="3.65" fill="#8a8a8a" stroke="#6e6e6e" stroke-width="0.9"/>
<circle cx="659.90" cy="625.30" r="3.65" fill="#8a8a8a" stroke="#6e6e6e" stroke-width="0.9"/>
<circle cx="663.30" cy="652.10" r="3.65" fill="#8a8a8a" stroke="#6e6e6e" stroke-width="0.9"/>
<circle cx="667.40" cy="635.00" r="3.65" fill="#8a8a8a" stroke="#6e6e6e" stroke-width="0.9"/>
<circle cx="670.80" cy="672.10" r="3.65" fill="#8a8a8a" stroke="#6e6e6e" stroke-width="0.9"/>
<circle cx="675.00" cy="640.50" r="3.65" fill="#8a8a8a" stroke="#6e6e6e" stroke-width="0.9"/>
<circle cx="679.10" cy="646.00" r="3.65" fill="#8a8a8a" stroke="#6e6e6e" stroke-width="0.9"/>
<circle cx="682.50" cy="643.20" r="3.65" fill="#8a8a8a" stroke="#6e6e6e" stroke-width="0.9"/>
<circle cx="686.60" cy="659.00" r="3.65" fill="#8a8a8a" stroke="#6e6e6e" stroke-width="0.9"/>
<circle cx="690.80" cy="646.60" r="3.65" fill="#8a8a8a" stroke="#6e6e6e" stroke-width="0.9"/>
<circle cx="694.20" cy="678.90" r="3.65" fill="#8a8a8a" stroke="#6e6e6e" stroke-width="0.9"/>
<circle cx="698.30" cy="659.00" r="3.65" fill="#8a8a8a" stroke="#6e6e6e" stroke-width="0.9"/>
<circle cx="702.50" cy="653.50" r="3.65" fill="#8a8a8a" stroke="#6e6e6e" stroke-width="0.9"/>
<circle cx="705.90" cy="641.20" r="3.65" fill="#8a8a8a" stroke="#6e6e6e" stroke-width="0.9"/>
<circle cx="710.00" cy="648.70" r="3.65" fill="#8a8a8a" stroke="#6e6e6e" stroke-width="0.9"/>
<circle cx="714.10" cy="649.40" r="3.65" fill="#8a8a8a" stroke="#6e6e6e" stroke-width="0.9"/>
<circle cx="717.60" cy="652.80" r="3.65" fill="#8a8a8a" stroke="#6e6e6e" stroke-width="0.9"/>
<circle cx="721.70" cy="641.20" r="3.65" fill="#8a8a8a" stroke="#6e6e6e" stroke-width="0.9"/>
<circle cx="725.80" cy="638.40" r="3.65" fill="#8a8a8a" stroke="#6e6e6e" stroke-width="0.9"/>
<circle cx="729.90" cy="637.70" r="3.65" fill="#8a8a8a" stroke="#6e6e6e" stroke-width="0.9"/>
<circle cx="733.40" cy="663.10" r="3.65" fill="#8a8a8a" stroke="#6e6e6e" stroke-width="0.9"/>
<circle cx="737.50" cy="655.60" r="3.65" fill="#8a8a8a" stroke="#6e6e6e" stroke-width="0.9"/>
<circle cx="741.50" cy="659.90" r="3.65" fill="#8a8a8a" stroke="#6e6e6e" stroke-width="0.9"/>
<circle cx="745.20" cy="650.30" r="3.65" fill="#8a8a8a" stroke="#6e6e6e" stroke-width="0.9"/>
<circle cx="748.90" cy="655.50" r="3.65" fill="#8a8a8a" stroke="#6e6e6e" stroke-width="0.9"/>
<circle cx="752.60" cy="678.40" r="3.65" fill="#8a8a8a" stroke="#6e6e6e" stroke-width="0.9"/>
<circle cx="757.00" cy="665.10" r="3.65" fill="#8a8a8a" stroke="#6e6e6e" stroke-width="0.9"/>
<circle cx="760.70" cy="664.40" r="3.65" fill="#8a8a8a" stroke="#6e6e6e" stroke-width="0.9"/>
<circle cx="764.40" cy="672.50" r="3.65" fill="#8a8a8a" stroke="#6e6e6e" stroke-width="0.9"/>
<circle cx="768.10" cy="637.70" r="3.65" fill="#8a8a8a" stroke="#6e6e6e" stroke-width="0.9"/>
<circle cx="771.80" cy="671.00" r="3.65" fill="#8a8a8a" stroke="#6e6e6e" stroke-width="0.9"/>
<circle cx="776.30" cy="646.60" r="3.65" fill="#8a8a8a" stroke="#6e6e6e" stroke-width="0.9"/>
<circle cx="780.00" cy="657.00" r="3.65" fill="#8a8a8a" stroke="#6e6e6e" stroke-width="0.9"/>
<circle cx="783.70" cy="674.00" r="3.65" fill="#8a8a8a" stroke="#6e6e6e" stroke-width="0.9"/>
<circle cx="788.10" cy="671.00" r="3.65" fill="#8a8a8a" stroke="#6e6e6e" stroke-width="0.9"/>
<circle cx="791.80" cy="684.40" r="3.65" fill="#8a8a8a" stroke="#6e6e6e" stroke-width="0.9"/>
<circle cx="795.50" cy="665.10" r="3.65" fill="#8a8a8a" stroke="#6e6e6e" stroke-width="0.9"/>
<circle cx="799.90" cy="665.10" r="3.65" fill="#8a8a8a" stroke="#6e6e6e" stroke-width="0.9"/>
<circle cx="803.60" cy="677.00" r="3.65" fill="#8a8a8a" stroke="#6e6e6e" stroke-width="0.9"/>
<circle cx="807.30" cy="665.90" r="3.65" fill="#8a8a8a" stroke="#6e6e6e" stroke-width="0.9"/>
<circle cx="811.00" cy="675.50" r="3.65" fill="#8a8a8a" stroke="#6e6e6e" stroke-width="0.9"/>
<circle cx="815.50" cy="654.80" r="3.65" fill="#8a8a8a" stroke="#6e6e6e" stroke-width="0.9"/>
<circle cx="819.20" cy="675.50" r="3.65" fill="#8a8a8a" stroke="#6e6e6e" stroke-width="0.9"/>
<circle cx="822.90" cy="665.10" r="3.65" fill="#8a8a8a" stroke="#6e6e6e" stroke-width="0.9"/>
<circle cx="826.60" cy="665.10" r="3.65" fill="#8a8a8a" stroke="#6e6e6e" stroke-width="0.9"/>
<circle cx="830.30" cy="669.60" r="3.65" fill="#8a8a8a" stroke="#6e6e6e" stroke-width="0.9"/>
<circle cx="834.70" cy="656.20" r="3.65" fill="#8a8a8a" stroke="#6e6e6e" stroke-width="0.9"/>
<circle cx="838.40" cy="685.80" r="3.65" fill="#8a8a8a" stroke="#6e6e6e" stroke-width="0.9"/>
<circle cx="842.10" cy="666.60" r="3.65" fill="#8a8a8a" stroke="#6e6e6e" stroke-width="0.9"/>
<circle cx="846.60" cy="674.70" r="3.65" fill="#8a8a8a" stroke="#6e6e6e" stroke-width="0.9"/>
<circle cx="850.30" cy="654.80" r="3.65" fill="#8a8a8a" stroke="#6e6e6e" stroke-width="0.9"/>
<circle cx="854.70" cy="664.40" r="3.65" fill="#8a8a8a" stroke="#6e6e6e" stroke-width="0.9"/>
<circle cx="858.40" cy="673.30" r="3.65" fill="#8a8a8a" stroke="#6e6e6e" stroke-width="0.9"/>
</svg></body></html>
